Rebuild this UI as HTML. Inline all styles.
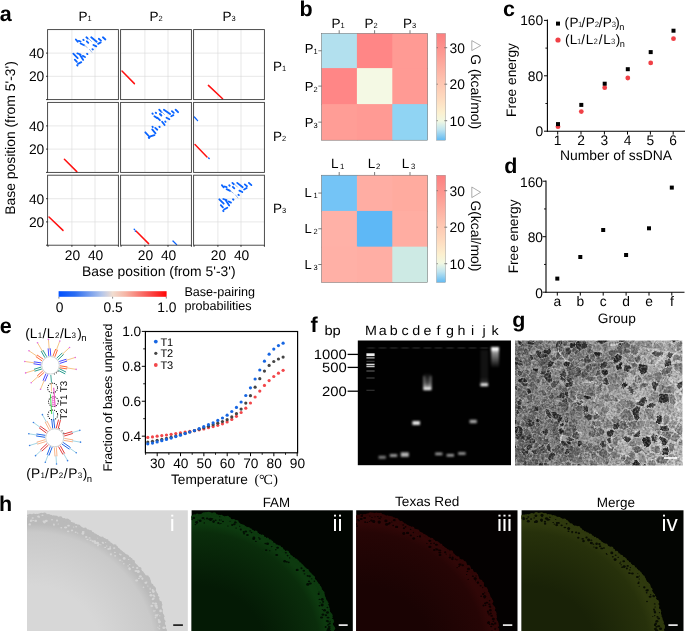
<!DOCTYPE html>
<html><head><meta charset="utf-8"><title>Figure</title>
<style>
html,body{margin:0;padding:0;background:#fff;}
body{width:685px;height:632px;overflow:hidden;}
svg{display:block;font-family:"Liberation Sans",sans-serif;}
svg text{font-family:"Liberation Sans",sans-serif;text-rendering:geometricPrecision;}
</style></head><body>
<svg width="685" height="632" viewBox="0 0 685 632">
<rect x="0" y="0" width="685" height="632" fill="#fff"/>
<g opacity="0.999">
<text x="-0.30" y="20.70" font-size="21.5" text-anchor="start" fill="#000" font-weight="bold">a</text>
<line x1="71.90" y1="29.60" x2="71.90" y2="99.60" stroke="#d6d6d6" stroke-width="0.6"/>
<line x1="95.00" y1="29.60" x2="95.00" y2="99.60" stroke="#d6d6d6" stroke-width="0.6"/>
<line x1="47.60" y1="53.10" x2="118.40" y2="53.10" stroke="#d6d6d6" stroke-width="0.6"/>
<line x1="47.60" y1="76.30" x2="118.40" y2="76.30" stroke="#d6d6d6" stroke-width="0.6"/>
<line x1="144.90" y1="29.60" x2="144.90" y2="99.60" stroke="#d6d6d6" stroke-width="0.6"/>
<line x1="168.00" y1="29.60" x2="168.00" y2="99.60" stroke="#d6d6d6" stroke-width="0.6"/>
<line x1="120.60" y1="53.10" x2="191.40" y2="53.10" stroke="#d6d6d6" stroke-width="0.6"/>
<line x1="120.60" y1="76.30" x2="191.40" y2="76.30" stroke="#d6d6d6" stroke-width="0.6"/>
<line x1="217.90" y1="29.60" x2="217.90" y2="99.60" stroke="#d6d6d6" stroke-width="0.6"/>
<line x1="241.00" y1="29.60" x2="241.00" y2="99.60" stroke="#d6d6d6" stroke-width="0.6"/>
<line x1="193.60" y1="53.10" x2="264.40" y2="53.10" stroke="#d6d6d6" stroke-width="0.6"/>
<line x1="193.60" y1="76.30" x2="264.40" y2="76.30" stroke="#d6d6d6" stroke-width="0.6"/>
<line x1="71.90" y1="102.40" x2="71.90" y2="172.40" stroke="#d6d6d6" stroke-width="0.6"/>
<line x1="95.00" y1="102.40" x2="95.00" y2="172.40" stroke="#d6d6d6" stroke-width="0.6"/>
<line x1="47.60" y1="125.90" x2="118.40" y2="125.90" stroke="#d6d6d6" stroke-width="0.6"/>
<line x1="47.60" y1="149.10" x2="118.40" y2="149.10" stroke="#d6d6d6" stroke-width="0.6"/>
<line x1="144.90" y1="102.40" x2="144.90" y2="172.40" stroke="#d6d6d6" stroke-width="0.6"/>
<line x1="168.00" y1="102.40" x2="168.00" y2="172.40" stroke="#d6d6d6" stroke-width="0.6"/>
<line x1="120.60" y1="125.90" x2="191.40" y2="125.90" stroke="#d6d6d6" stroke-width="0.6"/>
<line x1="120.60" y1="149.10" x2="191.40" y2="149.10" stroke="#d6d6d6" stroke-width="0.6"/>
<line x1="217.90" y1="102.40" x2="217.90" y2="172.40" stroke="#d6d6d6" stroke-width="0.6"/>
<line x1="241.00" y1="102.40" x2="241.00" y2="172.40" stroke="#d6d6d6" stroke-width="0.6"/>
<line x1="193.60" y1="125.90" x2="264.40" y2="125.90" stroke="#d6d6d6" stroke-width="0.6"/>
<line x1="193.60" y1="149.10" x2="264.40" y2="149.10" stroke="#d6d6d6" stroke-width="0.6"/>
<line x1="71.90" y1="175.20" x2="71.90" y2="245.20" stroke="#d6d6d6" stroke-width="0.6"/>
<line x1="95.00" y1="175.20" x2="95.00" y2="245.20" stroke="#d6d6d6" stroke-width="0.6"/>
<line x1="47.60" y1="198.70" x2="118.40" y2="198.70" stroke="#d6d6d6" stroke-width="0.6"/>
<line x1="47.60" y1="221.90" x2="118.40" y2="221.90" stroke="#d6d6d6" stroke-width="0.6"/>
<line x1="144.90" y1="175.20" x2="144.90" y2="245.20" stroke="#d6d6d6" stroke-width="0.6"/>
<line x1="168.00" y1="175.20" x2="168.00" y2="245.20" stroke="#d6d6d6" stroke-width="0.6"/>
<line x1="120.60" y1="198.70" x2="191.40" y2="198.70" stroke="#d6d6d6" stroke-width="0.6"/>
<line x1="120.60" y1="221.90" x2="191.40" y2="221.90" stroke="#d6d6d6" stroke-width="0.6"/>
<line x1="217.90" y1="175.20" x2="217.90" y2="245.20" stroke="#d6d6d6" stroke-width="0.6"/>
<line x1="241.00" y1="175.20" x2="241.00" y2="245.20" stroke="#d6d6d6" stroke-width="0.6"/>
<line x1="193.60" y1="198.70" x2="264.40" y2="198.70" stroke="#d6d6d6" stroke-width="0.6"/>
<line x1="193.60" y1="221.90" x2="264.40" y2="221.90" stroke="#d6d6d6" stroke-width="0.6"/>
<line x1="75.85" y1="39.50" x2="77.70" y2="41.70" stroke="#0a64ff" stroke-width="1.8" stroke-linecap="round"/>
<line x1="78.80" y1="40.90" x2="80.60" y2="41.50" stroke="#0a64ff" stroke-width="1.8" stroke-linecap="round"/>
<line x1="83.20" y1="39.70" x2="83.70" y2="40.10" stroke="#0a64ff" stroke-width="1.8" stroke-linecap="round"/>
<line x1="86.40" y1="37.30" x2="87.90" y2="38.60" stroke="#0a64ff" stroke-width="1.8" stroke-linecap="round"/>
<line x1="91.20" y1="37.30" x2="96.70" y2="41.70" stroke="#0a64ff" stroke-width="1.8" stroke-linecap="round"/>
<line x1="86.80" y1="41.30" x2="88.30" y2="42.80" stroke="#0a64ff" stroke-width="1.8" stroke-linecap="round"/>
<line x1="80.60" y1="43.50" x2="84.20" y2="45.30" stroke="#0a64ff" stroke-width="1.8" stroke-linecap="round"/>
<line x1="98.80" y1="38.80" x2="101.00" y2="40.60" stroke="#0a64ff" stroke-width="1.8" stroke-linecap="round"/>
<line x1="102.90" y1="37.30" x2="105.40" y2="39.50" stroke="#0a64ff" stroke-width="1.8" stroke-linecap="round"/>
<line x1="98.10" y1="43.90" x2="100.70" y2="42.40" stroke="#0a64ff" stroke-width="1.8" stroke-linecap="round"/>
<line x1="93.40" y1="45.00" x2="96.30" y2="46.40" stroke="#0a64ff" stroke-width="1.8" stroke-linecap="round"/>
<line x1="92.40" y1="49.10" x2="92.90" y2="49.50" stroke="#0a64ff" stroke-width="1.8" stroke-linecap="round"/>
<line x1="73.30" y1="53.70" x2="77.70" y2="58.10" stroke="#0a64ff" stroke-width="1.8" stroke-linecap="round"/>
<line x1="77.30" y1="53.40" x2="80.60" y2="54.50" stroke="#0a64ff" stroke-width="1.8" stroke-linecap="round"/>
<line x1="87.00" y1="53.70" x2="87.50" y2="54.10" stroke="#0a64ff" stroke-width="1.8" stroke-linecap="round"/>
<line x1="79.90" y1="54.80" x2="83.20" y2="59.90" stroke="#0a64ff" stroke-width="1.8" stroke-linecap="round"/>
<line x1="82.80" y1="55.90" x2="85.00" y2="57.00" stroke="#0a64ff" stroke-width="1.8" stroke-linecap="round"/>
<line x1="74.80" y1="59.60" x2="76.90" y2="61.80" stroke="#0a64ff" stroke-width="1.8" stroke-linecap="round"/>
<line x1="78.00" y1="63.90" x2="81.30" y2="62.10" stroke="#0a64ff" stroke-width="1.8" stroke-linecap="round"/>
<line x1="77.10" y1="65.20" x2="77.50" y2="65.60" stroke="#0a64ff" stroke-width="1.8" stroke-linecap="round"/>
<line x1="84.20" y1="45.00" x2="87.20" y2="47.50" stroke="#8fb0e8" stroke-width="0.9" stroke-linecap="round"/>
<line x1="89.40" y1="49.30" x2="91.90" y2="52.30" stroke="#8fb0e8" stroke-width="0.9" stroke-linecap="round"/>
<line x1="88.60" y1="38.60" x2="91.50" y2="41.50" stroke="#8fb0e8" stroke-width="0.9" stroke-linecap="round"/>
<line x1="221.85" y1="185.10" x2="223.70" y2="187.30" stroke="#0a64ff" stroke-width="1.8" stroke-linecap="round"/>
<line x1="224.80" y1="186.50" x2="226.60" y2="187.10" stroke="#0a64ff" stroke-width="1.8" stroke-linecap="round"/>
<line x1="229.20" y1="185.30" x2="229.70" y2="185.70" stroke="#0a64ff" stroke-width="1.8" stroke-linecap="round"/>
<line x1="232.40" y1="182.90" x2="233.90" y2="184.20" stroke="#0a64ff" stroke-width="1.8" stroke-linecap="round"/>
<line x1="237.20" y1="182.90" x2="242.70" y2="187.30" stroke="#0a64ff" stroke-width="1.8" stroke-linecap="round"/>
<line x1="232.80" y1="186.90" x2="234.30" y2="188.40" stroke="#0a64ff" stroke-width="1.8" stroke-linecap="round"/>
<line x1="226.60" y1="189.10" x2="230.20" y2="190.90" stroke="#0a64ff" stroke-width="1.8" stroke-linecap="round"/>
<line x1="244.80" y1="184.40" x2="247.00" y2="186.20" stroke="#0a64ff" stroke-width="1.8" stroke-linecap="round"/>
<line x1="248.90" y1="182.90" x2="251.40" y2="185.10" stroke="#0a64ff" stroke-width="1.8" stroke-linecap="round"/>
<line x1="244.10" y1="189.50" x2="246.70" y2="188.00" stroke="#0a64ff" stroke-width="1.8" stroke-linecap="round"/>
<line x1="239.40" y1="190.60" x2="242.30" y2="192.00" stroke="#0a64ff" stroke-width="1.8" stroke-linecap="round"/>
<line x1="238.40" y1="194.70" x2="238.90" y2="195.10" stroke="#0a64ff" stroke-width="1.8" stroke-linecap="round"/>
<line x1="219.30" y1="199.30" x2="223.70" y2="203.70" stroke="#0a64ff" stroke-width="1.8" stroke-linecap="round"/>
<line x1="223.30" y1="199.00" x2="226.60" y2="200.10" stroke="#0a64ff" stroke-width="1.8" stroke-linecap="round"/>
<line x1="233.00" y1="199.30" x2="233.50" y2="199.70" stroke="#0a64ff" stroke-width="1.8" stroke-linecap="round"/>
<line x1="225.90" y1="200.40" x2="229.20" y2="205.50" stroke="#0a64ff" stroke-width="1.8" stroke-linecap="round"/>
<line x1="228.80" y1="201.50" x2="231.00" y2="202.60" stroke="#0a64ff" stroke-width="1.8" stroke-linecap="round"/>
<line x1="220.80" y1="205.20" x2="222.90" y2="207.40" stroke="#0a64ff" stroke-width="1.8" stroke-linecap="round"/>
<line x1="224.00" y1="209.50" x2="227.30" y2="207.70" stroke="#0a64ff" stroke-width="1.8" stroke-linecap="round"/>
<line x1="223.10" y1="210.80" x2="223.50" y2="211.20" stroke="#0a64ff" stroke-width="1.8" stroke-linecap="round"/>
<line x1="230.20" y1="190.60" x2="233.20" y2="193.10" stroke="#8fb0e8" stroke-width="0.9" stroke-linecap="round"/>
<line x1="235.40" y1="194.90" x2="237.90" y2="197.90" stroke="#8fb0e8" stroke-width="0.9" stroke-linecap="round"/>
<line x1="234.60" y1="184.20" x2="237.50" y2="187.10" stroke="#8fb0e8" stroke-width="0.9" stroke-linecap="round"/>
<line x1="152.40" y1="113.50" x2="152.80" y2="113.90" stroke="#0a64ff" stroke-width="1.8" stroke-linecap="round"/>
<line x1="155.70" y1="112.60" x2="156.10" y2="113.00" stroke="#0a64ff" stroke-width="1.8" stroke-linecap="round"/>
<line x1="159.20" y1="109.70" x2="161.40" y2="111.90" stroke="#0a64ff" stroke-width="1.8" stroke-linecap="round"/>
<line x1="163.90" y1="109.70" x2="170.10" y2="114.00" stroke="#0a64ff" stroke-width="1.8" stroke-linecap="round"/>
<line x1="159.90" y1="114.00" x2="161.40" y2="115.50" stroke="#0a64ff" stroke-width="1.8" stroke-linecap="round"/>
<line x1="154.40" y1="116.20" x2="157.00" y2="118.10" stroke="#0a64ff" stroke-width="1.8" stroke-linecap="round"/>
<line x1="157.30" y1="117.70" x2="159.90" y2="120.20" stroke="#0a64ff" stroke-width="1.8" stroke-linecap="round"/>
<line x1="171.90" y1="111.10" x2="173.80" y2="112.90" stroke="#0a64ff" stroke-width="1.8" stroke-linecap="round"/>
<line x1="175.60" y1="109.70" x2="178.10" y2="112.20" stroke="#0a64ff" stroke-width="1.8" stroke-linecap="round"/>
<line x1="171.20" y1="116.20" x2="173.40" y2="115.10" stroke="#0a64ff" stroke-width="1.8" stroke-linecap="round"/>
<line x1="166.50" y1="117.70" x2="169.40" y2="119.20" stroke="#0a64ff" stroke-width="1.8" stroke-linecap="round"/>
<line x1="165.20" y1="121.50" x2="165.60" y2="121.90" stroke="#0a64ff" stroke-width="1.8" stroke-linecap="round"/>
<line x1="162.10" y1="121.70" x2="164.60" y2="125.00" stroke="#0a64ff" stroke-width="1.8" stroke-linecap="round"/>
<line x1="159.30" y1="126.60" x2="159.70" y2="127.00" stroke="#0a64ff" stroke-width="1.8" stroke-linecap="round"/>
<line x1="152.40" y1="126.60" x2="152.80" y2="127.00" stroke="#0a64ff" stroke-width="1.8" stroke-linecap="round"/>
<line x1="155.20" y1="127.90" x2="157.30" y2="129.70" stroke="#0a64ff" stroke-width="1.8" stroke-linecap="round"/>
<line x1="152.20" y1="129.40" x2="155.50" y2="133.40" stroke="#0a64ff" stroke-width="1.8" stroke-linecap="round"/>
<line x1="145.30" y1="132.30" x2="149.70" y2="137.00" stroke="#0a64ff" stroke-width="1.8" stroke-linecap="round"/>
<line x1="150.40" y1="136.30" x2="154.40" y2="135.20" stroke="#0a64ff" stroke-width="1.8" stroke-linecap="round"/>
<line x1="148.70" y1="137.60" x2="149.10" y2="138.00" stroke="#0a64ff" stroke-width="1.8" stroke-linecap="round"/>
<line x1="161.50" y1="111.50" x2="164.50" y2="114.50" stroke="#8fb0e8" stroke-width="0.9" stroke-linecap="round"/>
<line x1="122.00" y1="71.00" x2="134.40" y2="83.60" stroke="#ff1010" stroke-width="1.5" stroke-linecap="round"/>
<line x1="208.40" y1="85.40" x2="222.60" y2="98.80" stroke="#ff1010" stroke-width="1.5" stroke-linecap="round"/>
<line x1="64.40" y1="159.20" x2="76.80" y2="171.60" stroke="#ff1010" stroke-width="1.5" stroke-linecap="round"/>
<line x1="195.00" y1="144.60" x2="207.00" y2="157.00" stroke="#ff1010" stroke-width="1.5" stroke-linecap="round"/>
<line x1="49.00" y1="217.00" x2="63.00" y2="230.40" stroke="#ff1010" stroke-width="1.5" stroke-linecap="round"/>
<line x1="136.00" y1="231.00" x2="148.60" y2="243.60" stroke="#ff1010" stroke-width="1.5" stroke-linecap="round"/>
<line x1="194.40" y1="117.00" x2="197.60" y2="120.60" stroke="#0a64ff" stroke-width="1.3" stroke-linecap="round"/>
<line x1="208.60" y1="158.00" x2="209.20" y2="158.60" stroke="#0a64ff" stroke-width="1.4" stroke-linecap="round"/>
<line x1="134.20" y1="229.20" x2="134.60" y2="229.60" stroke="#0a64ff" stroke-width="1.4" stroke-linecap="round"/>
<line x1="135.20" y1="231.00" x2="135.50" y2="231.30" stroke="#0a64ff" stroke-width="1.2" stroke-linecap="round"/>
<line x1="173.00" y1="241.00" x2="176.60" y2="244.60" stroke="#0a64ff" stroke-width="1.3" stroke-linecap="round"/>
<rect x="47.60" y="29.60" width="70.80" height="70.00" fill="none" stroke="#3a3a3a" stroke-width="0.9"/>
<rect x="120.60" y="29.60" width="70.80" height="70.00" fill="none" stroke="#3a3a3a" stroke-width="0.9"/>
<rect x="193.60" y="29.60" width="70.80" height="70.00" fill="none" stroke="#3a3a3a" stroke-width="0.9"/>
<rect x="47.60" y="102.40" width="70.80" height="70.00" fill="none" stroke="#3a3a3a" stroke-width="0.9"/>
<rect x="120.60" y="102.40" width="70.80" height="70.00" fill="none" stroke="#3a3a3a" stroke-width="0.9"/>
<rect x="193.60" y="102.40" width="70.80" height="70.00" fill="none" stroke="#3a3a3a" stroke-width="0.9"/>
<rect x="47.60" y="175.20" width="70.80" height="70.00" fill="none" stroke="#3a3a3a" stroke-width="0.9"/>
<rect x="120.60" y="175.20" width="70.80" height="70.00" fill="none" stroke="#3a3a3a" stroke-width="0.9"/>
<rect x="193.60" y="175.20" width="70.80" height="70.00" fill="none" stroke="#3a3a3a" stroke-width="0.9"/>
<line x1="46.00" y1="53.10" x2="47.60" y2="53.10" stroke="#000" stroke-width="0.8"/>
<text x="44.30" y="58.00" font-size="13.8" text-anchor="end" fill="#000">40</text>
<line x1="46.00" y1="76.30" x2="47.60" y2="76.30" stroke="#000" stroke-width="0.8"/>
<text x="44.30" y="81.20" font-size="13.8" text-anchor="end" fill="#000">20</text>
<line x1="46.00" y1="99.60" x2="47.60" y2="99.60" stroke="#000" stroke-width="0.8"/>
<line x1="46.00" y1="125.90" x2="47.60" y2="125.90" stroke="#000" stroke-width="0.8"/>
<text x="44.30" y="130.80" font-size="13.8" text-anchor="end" fill="#000">40</text>
<line x1="46.00" y1="149.10" x2="47.60" y2="149.10" stroke="#000" stroke-width="0.8"/>
<text x="44.30" y="154.00" font-size="13.8" text-anchor="end" fill="#000">20</text>
<line x1="46.00" y1="172.40" x2="47.60" y2="172.40" stroke="#000" stroke-width="0.8"/>
<line x1="46.00" y1="198.70" x2="47.60" y2="198.70" stroke="#000" stroke-width="0.8"/>
<text x="44.30" y="203.60" font-size="13.8" text-anchor="end" fill="#000">40</text>
<line x1="46.00" y1="221.90" x2="47.60" y2="221.90" stroke="#000" stroke-width="0.8"/>
<text x="44.30" y="226.80" font-size="13.8" text-anchor="end" fill="#000">20</text>
<line x1="46.00" y1="245.20" x2="47.60" y2="245.20" stroke="#000" stroke-width="0.8"/>
<line x1="71.90" y1="245.20" x2="71.90" y2="246.80" stroke="#000" stroke-width="0.8"/>
<text x="72.50" y="260.20" font-size="13.8" text-anchor="middle" fill="#000">20</text>
<line x1="95.00" y1="245.20" x2="95.00" y2="246.80" stroke="#000" stroke-width="0.8"/>
<text x="95.60" y="260.20" font-size="13.8" text-anchor="middle" fill="#000">40</text>
<line x1="48.00" y1="245.20" x2="48.00" y2="246.80" stroke="#000" stroke-width="0.8"/>
<line x1="118.40" y1="245.20" x2="118.40" y2="246.80" stroke="#000" stroke-width="0.8"/>
<line x1="144.90" y1="245.20" x2="144.90" y2="246.80" stroke="#000" stroke-width="0.8"/>
<text x="145.50" y="260.20" font-size="13.8" text-anchor="middle" fill="#000">20</text>
<line x1="168.00" y1="245.20" x2="168.00" y2="246.80" stroke="#000" stroke-width="0.8"/>
<text x="168.60" y="260.20" font-size="13.8" text-anchor="middle" fill="#000">40</text>
<line x1="121.00" y1="245.20" x2="121.00" y2="246.80" stroke="#000" stroke-width="0.8"/>
<line x1="191.40" y1="245.20" x2="191.40" y2="246.80" stroke="#000" stroke-width="0.8"/>
<line x1="217.90" y1="245.20" x2="217.90" y2="246.80" stroke="#000" stroke-width="0.8"/>
<text x="218.50" y="260.20" font-size="13.8" text-anchor="middle" fill="#000">20</text>
<line x1="241.00" y1="245.20" x2="241.00" y2="246.80" stroke="#000" stroke-width="0.8"/>
<text x="241.60" y="260.20" font-size="13.8" text-anchor="middle" fill="#000">40</text>
<line x1="194.00" y1="245.20" x2="194.00" y2="246.80" stroke="#000" stroke-width="0.8"/>
<line x1="264.40" y1="245.20" x2="264.40" y2="246.80" stroke="#000" stroke-width="0.8"/>
<text x="78.40" y="21.40" font-size="13.5" text-anchor="start" fill="#000">P<tspan font-size="7.5" baseline-shift="-0.3">1</tspan></text>
<text x="149.60" y="21.40" font-size="13.5" text-anchor="start" fill="#000">P<tspan font-size="7.5" baseline-shift="-0.3">2</tspan></text>
<text x="222.60" y="21.40" font-size="13.5" text-anchor="start" fill="#000">P<tspan font-size="7.5" baseline-shift="-0.3">3</tspan></text>
<text x="273.00" y="71.00" font-size="13.5" text-anchor="start" fill="#000">P<tspan font-size="7.5" baseline-shift="-0.3">1</tspan></text>
<text x="273.00" y="141.00" font-size="13.5" text-anchor="start" fill="#000">P<tspan font-size="7.5" baseline-shift="-0.3">2</tspan></text>
<text x="273.00" y="213.40" font-size="13.5" text-anchor="start" fill="#000">P<tspan font-size="7.5" baseline-shift="-0.3">3</tspan></text>
<text x="82.00" y="275.60" font-size="13.9" text-anchor="start" fill="#000">Base position (from 5'-3')</text>
<text x="15.20" y="138.00" font-size="13.9" text-anchor="middle" fill="#000" transform="rotate(-90 15.20 138.00)">Base position (from 5'-3')</text>
<defs><linearGradient id="cba" x1="0" x2="1" y1="0" y2="0"><stop offset="0" stop-color="#0050ff"/><stop offset="0.15" stop-color="#2a6cf2"/><stop offset="0.4" stop-color="#b4c6ea"/><stop offset="0.5" stop-color="#f1ddd0"/><stop offset="0.62" stop-color="#f6b5a5"/><stop offset="0.85" stop-color="#fa4a48"/><stop offset="1" stop-color="#ff0505"/></linearGradient></defs>
<rect x="58.60" y="291.20" width="108.00" height="5.60" fill="url(#cba)"/>
<line x1="58.90" y1="296.80" x2="58.90" y2="298.60" stroke="#555" stroke-width="0.7"/>
<text x="59.50" y="312.30" font-size="13.8" text-anchor="middle" fill="#000">0</text>
<line x1="112.60" y1="296.80" x2="112.60" y2="298.60" stroke="#555" stroke-width="0.7"/>
<text x="113.20" y="312.30" font-size="13.8" text-anchor="middle" fill="#000">0.5</text>
<line x1="166.30" y1="296.80" x2="166.30" y2="298.60" stroke="#555" stroke-width="0.7"/>
<text x="166.90" y="312.30" font-size="13.8" text-anchor="middle" fill="#000">1.0</text>
<text x="184.40" y="296.40" font-size="12.6" text-anchor="start" fill="#000">Base-pairing</text>
<text x="184.40" y="309.60" font-size="12.6" text-anchor="start" fill="#000">probabilities</text>
<text x="299.50" y="15.60" font-size="21.5" text-anchor="start" fill="#000" font-weight="bold">b</text>
<rect x="321.50" y="33.40" width="36.40" height="35.70" fill="#b2e0ee"/>
<rect x="356.90" y="33.40" width="36.40" height="35.70" fill="#ff8686"/>
<rect x="392.30" y="33.40" width="35.40" height="35.70" fill="#ff9a94"/>
<rect x="321.50" y="68.10" width="36.40" height="37.00" fill="#ff8686"/>
<rect x="356.90" y="68.10" width="36.40" height="37.00" fill="#f4f9e4"/>
<rect x="392.30" y="68.10" width="35.40" height="37.00" fill="#ff9a94"/>
<rect x="321.50" y="104.10" width="36.40" height="36.10" fill="#ff9d96"/>
<rect x="356.90" y="104.10" width="36.40" height="36.10" fill="#ff9a94"/>
<rect x="392.30" y="104.10" width="35.40" height="36.10" fill="#90d4f3"/>
<rect x="321.50" y="33.40" width="106.20" height="106.80" fill="none" stroke="#666" stroke-width="0.5"/>
<line x1="339.20" y1="30.20" x2="339.20" y2="33.40" stroke="#444" stroke-width="0.7"/>
<line x1="318.30" y1="50.75" x2="321.50" y2="50.75" stroke="#444" stroke-width="0.7"/>
<line x1="374.60" y1="30.20" x2="374.60" y2="33.40" stroke="#444" stroke-width="0.7"/>
<line x1="318.30" y1="86.10" x2="321.50" y2="86.10" stroke="#444" stroke-width="0.7"/>
<line x1="410.00" y1="30.20" x2="410.00" y2="33.40" stroke="#444" stroke-width="0.7"/>
<line x1="318.30" y1="122.15" x2="321.50" y2="122.15" stroke="#444" stroke-width="0.7"/>
<text x="331.40" y="27.50" font-size="13.5" text-anchor="start" fill="#000">P<tspan font-size="7.5" baseline-shift="-0.3">1</tspan></text>
<text x="304.80" y="53.20" font-size="13" text-anchor="start" fill="#000">P<tspan font-size="7.5" baseline-shift="-0.5">1</tspan></text>
<text x="364.60" y="27.50" font-size="13.5" text-anchor="start" fill="#000">P<tspan font-size="7.5" baseline-shift="-0.3">2</tspan></text>
<text x="304.80" y="91.20" font-size="13" text-anchor="start" fill="#000">P<tspan font-size="7.5" baseline-shift="-0.5">2</tspan></text>
<text x="403.00" y="27.50" font-size="13.5" text-anchor="start" fill="#000">P<tspan font-size="7.5" baseline-shift="-0.3">3</tspan></text>
<text x="304.80" y="126.80" font-size="13" text-anchor="start" fill="#000">P<tspan font-size="7.5" baseline-shift="-0.5">3</tspan></text>
<defs><linearGradient id="cbb" x1="0" x2="0" y1="0" y2="1"><stop offset="0" stop-color="#fc7f80"/><stop offset="0.2" stop-color="#fd9c94"/><stop offset="0.45" stop-color="#fec4b0"/><stop offset="0.62" stop-color="#fedcc0"/><stop offset="0.74" stop-color="#fcf0cf"/><stop offset="0.82" stop-color="#f2f8e2"/><stop offset="0.9" stop-color="#bfe4ef"/><stop offset="1" stop-color="#62baf2"/></linearGradient></defs>
<rect x="436.60" y="33.40" width="9.00" height="106.80" fill="url(#cbb)" stroke="#888" stroke-width="0.4"/>
<line x1="445.60" y1="47.70" x2="447.20" y2="47.70" stroke="#444" stroke-width="0.7"/>
<line x1="436.60" y1="47.70" x2="438.00" y2="47.70" stroke="#444" stroke-width="0.5"/>
<line x1="444.20" y1="47.70" x2="445.60" y2="47.70" stroke="#444" stroke-width="0.5"/>
<text x="449.60" y="52.60" font-size="13.8" text-anchor="start" fill="#000">30</text>
<line x1="445.60" y1="84.20" x2="447.20" y2="84.20" stroke="#444" stroke-width="0.7"/>
<line x1="436.60" y1="84.20" x2="438.00" y2="84.20" stroke="#444" stroke-width="0.5"/>
<line x1="444.20" y1="84.20" x2="445.60" y2="84.20" stroke="#444" stroke-width="0.5"/>
<text x="449.60" y="89.10" font-size="13.8" text-anchor="start" fill="#000">20</text>
<line x1="445.60" y1="120.70" x2="447.20" y2="120.70" stroke="#444" stroke-width="0.7"/>
<line x1="436.60" y1="120.70" x2="438.00" y2="120.70" stroke="#444" stroke-width="0.5"/>
<line x1="444.20" y1="120.70" x2="445.60" y2="120.70" stroke="#444" stroke-width="0.5"/>
<text x="449.60" y="125.60" font-size="13.8" text-anchor="start" fill="#000">10</text>
<text x="470.60" y="54.30" font-size="13.9" text-anchor="start" fill="#000" transform="rotate(90 470.60 54.30)">G (kcal/mol)</text>
<path d="M471.8 50.6 L480.6 45.6 L471.8 40.6 Z" fill="none" stroke="#8a8a8a" stroke-width="0.7"/>
<rect x="321.50" y="175.20" width="36.40" height="36.73" fill="#74c4f6"/>
<rect x="356.90" y="175.20" width="36.40" height="36.73" fill="#ffada3"/>
<rect x="392.30" y="175.20" width="35.40" height="36.73" fill="#ffab9f"/>
<rect x="321.50" y="210.93" width="36.40" height="36.73" fill="#ffb1a7"/>
<rect x="356.90" y="210.93" width="36.40" height="36.73" fill="#5eb8f6"/>
<rect x="392.30" y="210.93" width="35.40" height="36.73" fill="#ffada2"/>
<rect x="321.50" y="246.66" width="36.40" height="35.73" fill="#ffb0a6"/>
<rect x="356.90" y="246.66" width="36.40" height="35.73" fill="#ffaea4"/>
<rect x="392.30" y="246.66" width="35.40" height="35.73" fill="#cdeae4"/>
<rect x="321.50" y="175.20" width="106.20" height="107.19" fill="none" stroke="#666" stroke-width="0.5"/>
<line x1="339.20" y1="172.00" x2="339.20" y2="175.20" stroke="#444" stroke-width="0.7"/>
<line x1="318.30" y1="193.06" x2="321.50" y2="193.06" stroke="#444" stroke-width="0.7"/>
<line x1="374.60" y1="172.00" x2="374.60" y2="175.20" stroke="#444" stroke-width="0.7"/>
<line x1="318.30" y1="228.79" x2="321.50" y2="228.79" stroke="#444" stroke-width="0.7"/>
<line x1="410.00" y1="172.00" x2="410.00" y2="175.20" stroke="#444" stroke-width="0.7"/>
<line x1="318.30" y1="264.52" x2="321.50" y2="264.52" stroke="#444" stroke-width="0.7"/>
<text x="331.00" y="168.20" font-size="13.5" text-anchor="start" fill="#000">L</text>
<text x="340.10" y="168.80" font-size="7.8" text-anchor="start" fill="#000">1</text>
<text x="304.60" y="197.47" font-size="13" text-anchor="start" fill="#000">L</text>
<text x="313.40" y="198.06" font-size="7.5" text-anchor="start" fill="#000">1</text>
<text x="367.80" y="168.20" font-size="13.5" text-anchor="start" fill="#000">L</text>
<text x="376.10" y="168.80" font-size="7.8" text-anchor="start" fill="#000">2</text>
<text x="304.60" y="233.19" font-size="13" text-anchor="start" fill="#000">L</text>
<text x="313.40" y="233.79" font-size="7.5" text-anchor="start" fill="#000">2</text>
<text x="401.80" y="168.20" font-size="13.5" text-anchor="start" fill="#000">L</text>
<text x="410.90" y="168.80" font-size="7.8" text-anchor="start" fill="#000">3</text>
<text x="304.60" y="268.92" font-size="13" text-anchor="start" fill="#000">L</text>
<text x="313.40" y="269.52" font-size="7.5" text-anchor="start" fill="#000">3</text>
<rect x="436.60" y="175.20" width="9.00" height="107.20" fill="url(#cbb)" stroke="#888" stroke-width="0.4"/>
<line x1="445.60" y1="190.70" x2="447.20" y2="190.70" stroke="#444" stroke-width="0.7"/>
<line x1="436.60" y1="190.70" x2="438.00" y2="190.70" stroke="#444" stroke-width="0.5"/>
<line x1="444.20" y1="190.70" x2="445.60" y2="190.70" stroke="#444" stroke-width="0.5"/>
<text x="449.60" y="195.60" font-size="13.8" text-anchor="start" fill="#000">30</text>
<line x1="445.60" y1="227.20" x2="447.20" y2="227.20" stroke="#444" stroke-width="0.7"/>
<line x1="436.60" y1="227.20" x2="438.00" y2="227.20" stroke="#444" stroke-width="0.5"/>
<line x1="444.20" y1="227.20" x2="445.60" y2="227.20" stroke="#444" stroke-width="0.5"/>
<text x="449.60" y="232.10" font-size="13.8" text-anchor="start" fill="#000">20</text>
<line x1="445.60" y1="263.70" x2="447.20" y2="263.70" stroke="#444" stroke-width="0.7"/>
<line x1="436.60" y1="263.70" x2="438.00" y2="263.70" stroke="#444" stroke-width="0.5"/>
<line x1="444.20" y1="263.70" x2="445.60" y2="263.70" stroke="#444" stroke-width="0.5"/>
<text x="449.60" y="268.60" font-size="13.8" text-anchor="start" fill="#000">10</text>
<text x="470.60" y="200.40" font-size="13.9" text-anchor="start" fill="#000" transform="rotate(90 470.60 200.40)">G(kcal/mol)</text>
<path d="M471.8 197.6 L480.6 192.3 L471.8 187.0 Z" fill="none" stroke="#8a8a8a" stroke-width="0.7"/>
<text x="503.10" y="15.60" font-size="21.5" text-anchor="start" fill="#000" font-weight="bold">c</text>
<line x1="547.40" y1="19.50" x2="547.40" y2="131.80" stroke="#000" stroke-width="1.1"/>
<line x1="546.90" y1="131.20" x2="685.00" y2="131.20" stroke="#000" stroke-width="1.1"/>
<line x1="544.00" y1="20.40" x2="547.40" y2="20.40" stroke="#000" stroke-width="1.0"/>
<text x="543.20" y="25.30" font-size="13.8" text-anchor="end" fill="#000">160</text>
<line x1="544.00" y1="75.80" x2="547.40" y2="75.80" stroke="#000" stroke-width="1.0"/>
<text x="543.20" y="80.70" font-size="13.8" text-anchor="end" fill="#000">80</text>
<line x1="544.00" y1="131.20" x2="547.40" y2="131.20" stroke="#000" stroke-width="1.0"/>
<text x="543.20" y="136.10" font-size="13.8" text-anchor="end" fill="#000">0</text>
<line x1="545.40" y1="103.50" x2="547.40" y2="103.50" stroke="#000" stroke-width="0.9"/>
<line x1="545.40" y1="48.10" x2="547.40" y2="48.10" stroke="#000" stroke-width="0.9"/>
<line x1="557.70" y1="131.20" x2="557.70" y2="134.60" stroke="#000" stroke-width="1.0"/>
<text x="557.70" y="145.00" font-size="13.8" text-anchor="middle" fill="#000">1</text>
<line x1="581.00" y1="131.20" x2="581.00" y2="134.60" stroke="#000" stroke-width="1.0"/>
<text x="581.00" y="145.00" font-size="13.8" text-anchor="middle" fill="#000">2</text>
<line x1="604.40" y1="131.20" x2="604.40" y2="134.60" stroke="#000" stroke-width="1.0"/>
<text x="604.40" y="145.00" font-size="13.8" text-anchor="middle" fill="#000">3</text>
<line x1="627.50" y1="131.20" x2="627.50" y2="134.60" stroke="#000" stroke-width="1.0"/>
<text x="627.50" y="145.00" font-size="13.8" text-anchor="middle" fill="#000">4</text>
<line x1="650.40" y1="131.20" x2="650.40" y2="134.60" stroke="#000" stroke-width="1.0"/>
<text x="650.40" y="145.00" font-size="13.8" text-anchor="middle" fill="#000">5</text>
<line x1="673.20" y1="131.20" x2="673.20" y2="134.60" stroke="#000" stroke-width="1.0"/>
<text x="673.20" y="145.00" font-size="13.8" text-anchor="middle" fill="#000">6</text>
<text x="616.00" y="159.60" font-size="13.9" text-anchor="middle" fill="#000">Number of ssDNA</text>
<text x="516.20" y="80.00" font-size="13.7" text-anchor="middle" fill="#000" transform="rotate(-90 516.20 80.00)">Free energy</text>
<circle cx="558.00" cy="126.70" r="2.40" fill="#f04046"/>
<circle cx="581.30" cy="111.60" r="2.40" fill="#f04046"/>
<circle cx="604.70" cy="87.70" r="2.40" fill="#f04046"/>
<circle cx="627.80" cy="78.00" r="2.40" fill="#f04046"/>
<circle cx="650.70" cy="62.90" r="2.40" fill="#f04046"/>
<circle cx="673.50" cy="38.70" r="2.40" fill="#f04046"/>
<rect x="556.00" y="122.10" width="4.00" height="4.00" fill="#000"/>
<rect x="579.30" y="102.90" width="4.00" height="4.00" fill="#000"/>
<rect x="602.70" y="81.70" width="4.00" height="4.00" fill="#000"/>
<rect x="625.80" y="67.20" width="4.00" height="4.00" fill="#000"/>
<rect x="648.70" y="50.10" width="4.00" height="4.00" fill="#000"/>
<rect x="671.50" y="28.70" width="4.00" height="4.00" fill="#000"/>
<rect x="556.00" y="21.60" width="4.00" height="4.00" fill="#000"/>
<circle cx="558.00" cy="40.00" r="2.60" fill="#f04046"/>
<text x="564.60" y="26.60" font-size="13.5" text-anchor="start" fill="#000">(</text><text x="569.42" y="26.60" font-size="13.5" text-anchor="start" fill="#000">P</text><text x="578.02" y="26.90" font-size="7.8" text-anchor="start" fill="#333">1</text><text x="581.55" y="26.60" font-size="13.5" text-anchor="start" fill="#000">/</text><text x="585.85" y="26.60" font-size="13.5" text-anchor="start" fill="#000">P</text><text x="594.83" y="26.90" font-size="7.8" text-anchor="start" fill="#333">2</text><text x="598.84" y="26.60" font-size="13.5" text-anchor="start" fill="#000">/</text><text x="602.85" y="26.60" font-size="13.5" text-anchor="start" fill="#000">P</text><text x="611.82" y="26.90" font-size="7.8" text-anchor="start" fill="#333">3</text><text x="615.36" y="26.60" font-size="13.5" text-anchor="start" fill="#000">)</text><text x="619.18" y="30.10" font-size="9.2" text-anchor="start" fill="#000">n</text>
<text x="565.00" y="43.50" font-size="13.5" text-anchor="start" fill="#000">(</text><text x="569.73" y="43.50" font-size="13.5" text-anchor="start" fill="#000">L</text><text x="577.08" y="43.80" font-size="7.8" text-anchor="start" fill="#333">1</text><text x="581.19" y="43.50" font-size="13.5" text-anchor="start" fill="#000">/</text><text x="585.68" y="43.50" font-size="13.5" text-anchor="start" fill="#000">L</text><text x="593.51" y="43.80" font-size="7.8" text-anchor="start" fill="#333">2</text><text x="598.66" y="43.50" font-size="13.5" text-anchor="start" fill="#000">/</text><text x="603.25" y="43.50" font-size="13.5" text-anchor="start" fill="#000">L</text><text x="611.08" y="43.80" font-size="7.8" text-anchor="start" fill="#333">3</text><text x="615.76" y="43.50" font-size="13.5" text-anchor="start" fill="#000">)</text><text x="619.67" y="47.00" font-size="9.2" text-anchor="start" fill="#000">n</text>
<text x="504.30" y="173.00" font-size="21.5" text-anchor="start" fill="#000" font-weight="bold">d</text>
<line x1="546.00" y1="180.50" x2="546.00" y2="292.80" stroke="#000" stroke-width="1.1"/>
<line x1="545.50" y1="292.20" x2="684.50" y2="292.20" stroke="#000" stroke-width="1.1"/>
<line x1="542.60" y1="181.20" x2="546.00" y2="181.20" stroke="#000" stroke-width="1.0"/>
<text x="543.00" y="186.80" font-size="13.8" text-anchor="end" fill="#000">160</text>
<line x1="542.60" y1="236.70" x2="546.00" y2="236.70" stroke="#000" stroke-width="1.0"/>
<text x="543.00" y="242.30" font-size="13.8" text-anchor="end" fill="#000">80</text>
<line x1="542.60" y1="292.20" x2="546.00" y2="292.20" stroke="#000" stroke-width="1.0"/>
<text x="543.00" y="297.80" font-size="13.8" text-anchor="end" fill="#000">0</text>
<line x1="544.00" y1="264.45" x2="546.00" y2="264.45" stroke="#000" stroke-width="0.9"/>
<line x1="544.00" y1="208.95" x2="546.00" y2="208.95" stroke="#000" stroke-width="0.9"/>
<line x1="557.30" y1="292.20" x2="557.30" y2="295.60" stroke="#000" stroke-width="1.0"/>
<text x="557.30" y="305.80" font-size="13.8" text-anchor="middle" fill="#000">a</text>
<line x1="580.30" y1="292.20" x2="580.30" y2="295.60" stroke="#000" stroke-width="1.0"/>
<text x="580.30" y="305.80" font-size="13.8" text-anchor="middle" fill="#000">b</text>
<line x1="603.20" y1="292.20" x2="603.20" y2="295.60" stroke="#000" stroke-width="1.0"/>
<text x="603.20" y="305.80" font-size="13.8" text-anchor="middle" fill="#000">c</text>
<line x1="626.10" y1="292.20" x2="626.10" y2="295.60" stroke="#000" stroke-width="1.0"/>
<text x="626.10" y="305.80" font-size="13.8" text-anchor="middle" fill="#000">d</text>
<line x1="649.00" y1="292.20" x2="649.00" y2="295.60" stroke="#000" stroke-width="1.0"/>
<text x="649.00" y="305.80" font-size="13.8" text-anchor="middle" fill="#000">e</text>
<line x1="671.80" y1="292.20" x2="671.80" y2="295.60" stroke="#000" stroke-width="1.0"/>
<text x="671.80" y="305.80" font-size="13.8" text-anchor="middle" fill="#000">f</text>
<text x="616.80" y="323.10" font-size="13.7" text-anchor="middle" fill="#000">Group</text>
<text x="518.00" y="236.40" font-size="13.7" text-anchor="middle" fill="#000" transform="rotate(-90 518.00 236.40)">Free energy</text>
<rect x="555.30" y="276.60" width="4.00" height="4.00" fill="#000"/>
<rect x="578.30" y="255.00" width="4.00" height="4.00" fill="#000"/>
<rect x="601.20" y="228.00" width="4.00" height="4.00" fill="#000"/>
<rect x="624.10" y="253.00" width="4.00" height="4.00" fill="#000"/>
<rect x="647.00" y="226.30" width="4.00" height="4.00" fill="#000"/>
<rect x="669.80" y="185.60" width="4.00" height="4.00" fill="#000"/>
<text x="-0.30" y="333.00" font-size="21.5" text-anchor="start" fill="#000" font-weight="bold">e</text>
<text x="25.20" y="337.60" font-size="13.7" text-anchor="start" fill="#000">(</text><text x="29.80" y="337.60" font-size="13.7" text-anchor="start" fill="#000">L</text><text x="37.80" y="338.00" font-size="8.0" text-anchor="start" fill="#000">1</text><text x="42.50" y="337.60" font-size="13.7" text-anchor="start" fill="#000">/</text><text x="46.80" y="337.60" font-size="13.7" text-anchor="start" fill="#000">L</text><text x="55.10" y="338.00" font-size="8.0" text-anchor="start" fill="#000">2</text><text x="60.00" y="337.60" font-size="13.7" text-anchor="start" fill="#000">/</text><text x="63.80" y="337.60" font-size="13.7" text-anchor="start" fill="#000">L</text><text x="71.60" y="338.00" font-size="8.0" text-anchor="start" fill="#000">3</text><text x="77.20" y="337.60" font-size="13.7" text-anchor="start" fill="#000">)</text><text x="81.30" y="341.40" font-size="9.5" text-anchor="start" fill="#000">n</text>
<text x="26.25" y="477.80" font-size="13.7" text-anchor="start" fill="#000">(</text><text x="30.90" y="477.80" font-size="13.7" text-anchor="start" fill="#000">P</text><text x="40.45" y="478.20" font-size="8.0" text-anchor="start" fill="#000">1</text><text x="45.00" y="477.80" font-size="13.7" text-anchor="start" fill="#000">/</text><text x="49.60" y="477.80" font-size="13.7" text-anchor="start" fill="#000">P</text><text x="58.65" y="478.20" font-size="8.0" text-anchor="start" fill="#000">2</text><text x="63.80" y="477.80" font-size="13.7" text-anchor="start" fill="#000">/</text><text x="68.20" y="477.80" font-size="13.7" text-anchor="start" fill="#000">P</text><text x="77.65" y="478.20" font-size="8.0" text-anchor="start" fill="#000">3</text><text x="82.70" y="477.80" font-size="13.7" text-anchor="start" fill="#000">)</text><text x="86.80" y="481.60" font-size="9.5" text-anchor="start" fill="#000">n</text>
<circle cx="50.5" cy="365.3" r="8.8" fill="none" stroke="#aab4b4" stroke-width="0.6"/>
<line x1="42.50" y1="351.44" x2="37.50" y2="342.78" stroke="#f2b66a" stroke-width="0.8"/>
<circle cx="37.50" cy="342.78" r="0.80" fill="#e36be8"/>
<line x1="44.93" y1="357.66" x2="41.13" y2="351.08" stroke="#2a9d8f" stroke-width="1.0"/>
<line x1="46.67" y1="356.66" x2="42.87" y2="350.08" stroke="#2a9d8f" stroke-width="1.0"/>
<line x1="49.22" y1="349.35" x2="48.41" y2="339.38" stroke="#f2b66a" stroke-width="0.8"/>
<circle cx="48.41" cy="339.38" r="0.80" fill="#e36be8"/>
<line x1="48.75" y1="356.01" x2="48.14" y2="348.43" stroke="#4a4aff" stroke-width="1.0"/>
<line x1="50.74" y1="355.85" x2="50.13" y2="348.27" stroke="#4a4aff" stroke-width="1.0"/>
<line x1="56.23" y1="350.36" x2="59.82" y2="341.03" stroke="#f2b66a" stroke-width="0.8"/>
<circle cx="59.82" cy="341.03" r="0.80" fill="#e36be8"/>
<line x1="52.94" y1="356.17" x2="55.66" y2="349.07" stroke="#ff6a3a" stroke-width="1.0"/>
<line x1="54.80" y1="356.88" x2="57.53" y2="349.79" stroke="#ff6a3a" stroke-width="1.0"/>
<line x1="62.20" y1="354.39" x2="69.52" y2="347.57" stroke="#f2b66a" stroke-width="0.8"/>
<circle cx="69.52" cy="347.57" r="0.80" fill="#e36be8"/>
<line x1="56.69" y1="358.16" x2="62.25" y2="352.97" stroke="#2a9d8f" stroke-width="1.0"/>
<line x1="58.06" y1="359.62" x2="63.62" y2="354.44" stroke="#2a9d8f" stroke-width="1.0"/>
<line x1="65.75" y1="360.46" x2="75.28" y2="357.44" stroke="#f2b66a" stroke-width="0.8"/>
<circle cx="75.28" cy="357.44" r="0.80" fill="#e36be8"/>
<line x1="59.16" y1="361.50" x2="66.40" y2="359.21" stroke="#4a4aff" stroke-width="1.0"/>
<line x1="59.76" y1="363.41" x2="67.01" y2="361.11" stroke="#4a4aff" stroke-width="1.0"/>
<line x1="66.30" y1="367.80" x2="76.18" y2="369.37" stroke="#f2b66a" stroke-width="0.8"/>
<circle cx="76.18" cy="369.37" r="0.80" fill="#e36be8"/>
<line x1="59.94" y1="365.78" x2="67.45" y2="366.97" stroke="#ff6a3a" stroke-width="1.0"/>
<line x1="59.63" y1="367.76" x2="67.13" y2="368.95" stroke="#ff6a3a" stroke-width="1.0"/>
<line x1="59.33" y1="368.68" x2="66.10" y2="372.13" stroke="#2a9d8f" stroke-width="1.0"/>
<line x1="58.42" y1="370.46" x2="65.19" y2="373.91" stroke="#2a9d8f" stroke-width="1.0"/>
<line x1="44.35" y1="380.07" x2="40.51" y2="389.30" stroke="#f2b66a" stroke-width="0.8"/>
<circle cx="40.51" cy="389.30" r="0.80" fill="#e36be8"/>
<line x1="47.81" y1="374.36" x2="44.89" y2="381.38" stroke="#4a4aff" stroke-width="1.0"/>
<line x1="45.96" y1="373.59" x2="43.04" y2="380.61" stroke="#4a4aff" stroke-width="1.0"/>
<line x1="38.61" y1="376.01" x2="31.18" y2="382.70" stroke="#f2b66a" stroke-width="0.8"/>
<circle cx="31.18" cy="382.70" r="0.80" fill="#e36be8"/>
<line x1="44.18" y1="372.33" x2="38.54" y2="377.42" stroke="#ff6a3a" stroke-width="1.0"/>
<line x1="42.85" y1="370.85" x2="37.20" y2="375.93" stroke="#ff6a3a" stroke-width="1.0"/>
<line x1="35.20" y1="369.98" x2="25.64" y2="372.90" stroke="#f2b66a" stroke-width="0.8"/>
<circle cx="25.64" cy="372.90" r="0.80" fill="#e36be8"/>
<line x1="41.80" y1="369.00" x2="34.54" y2="371.23" stroke="#2a9d8f" stroke-width="1.0"/>
<line x1="41.22" y1="367.09" x2="33.95" y2="369.31" stroke="#2a9d8f" stroke-width="1.0"/>
<line x1="34.68" y1="362.94" x2="24.79" y2="361.46" stroke="#f2b66a" stroke-width="0.8"/>
<circle cx="24.79" cy="361.46" r="0.80" fill="#e36be8"/>
<line x1="41.06" y1="364.90" x2="33.54" y2="363.78" stroke="#4a4aff" stroke-width="1.0"/>
<line x1="41.35" y1="362.92" x2="33.83" y2="361.80" stroke="#4a4aff" stroke-width="1.0"/>
<line x1="37.24" y1="356.35" x2="28.95" y2="350.76" stroke="#f2b66a" stroke-width="0.8"/>
<circle cx="28.95" cy="350.76" r="0.80" fill="#e36be8"/>
<line x1="42.15" y1="360.87" x2="35.85" y2="356.62" stroke="#ff6a3a" stroke-width="1.0"/>
<line x1="43.27" y1="359.21" x2="36.97" y2="354.96" stroke="#ff6a3a" stroke-width="1.0"/>
<circle cx="58.06" cy="371.21" r="0.55" fill="#222"/>
<circle cx="56.41" cy="372.86" r="0.55" fill="#222"/>
<circle cx="54.40" cy="374.07" r="0.55" fill="#222"/>
<line x1="50.80" y1="375.00" x2="51.50" y2="382.60" stroke="#2a9d8f" stroke-width="0.9"/>
<line x1="51.40" y1="383.00" x2="51.50" y2="391.40" stroke="#f2b66a" stroke-width="0.7"/>
<circle cx="52.6" cy="388.0" r="4.9" fill="none" stroke="#000" stroke-width="1.05" stroke-linecap="round" stroke-dasharray="0.2 2.0"/>
<circle cx="53.4" cy="401.6" r="4.9" fill="none" stroke="#000" stroke-width="1.05" stroke-linecap="round" stroke-dasharray="0.2 2.0"/>
<circle cx="52.8" cy="414.8" r="4.9" fill="none" stroke="#000" stroke-width="1.05" stroke-linecap="round" stroke-dasharray="0.2 2.0"/>
<line x1="53.70" y1="387.80" x2="55.20" y2="407.10" stroke="#e22ab4" stroke-width="0.9"/>
<line x1="52.20" y1="396.50" x2="55.00" y2="396.70" stroke="#ec5ac8" stroke-width="0.7"/>
<line x1="52.20" y1="398.50" x2="55.00" y2="398.70" stroke="#ec5ac8" stroke-width="0.7"/>
<line x1="52.20" y1="400.50" x2="55.00" y2="400.70" stroke="#ec5ac8" stroke-width="0.7"/>
<line x1="52.20" y1="402.50" x2="55.00" y2="402.70" stroke="#ec5ac8" stroke-width="0.7"/>
<line x1="52.20" y1="404.50" x2="55.00" y2="404.70" stroke="#ec5ac8" stroke-width="0.7"/>
<line x1="52.40" y1="395.50" x2="53.00" y2="406.00" stroke="#ec5ac8" stroke-width="0.6"/>
<line x1="50.40" y1="394.30" x2="51.70" y2="414.00" stroke="#2fd03a" stroke-width="0.9"/>
<line x1="53.40" y1="411.50" x2="53.60" y2="421.50" stroke="#7cc4e6" stroke-width="0.8"/>
<text x="67.20" y="400.30" font-size="9.7" text-anchor="middle" fill="#000" transform="rotate(-90 67.20 400.30)">T2 T1 T3</text>
<circle cx="54.7" cy="437.8" r="9.0" fill="none" stroke="#aab4b4" stroke-width="0.6"/>
<line x1="71.58" y1="432.80" x2="79.82" y2="430.36" stroke="#8ccbe0" stroke-width="0.8"/>
<circle cx="79.82" cy="430.36" r="0.80" fill="#3a7fe2"/>
<line x1="63.62" y1="434.11" x2="72.25" y2="431.56" stroke="#e23c3c" stroke-width="1.0"/>
<line x1="64.19" y1="436.03" x2="72.82" y2="433.48" stroke="#e23c3c" stroke-width="1.0"/>
<line x1="72.05" y1="440.74" x2="80.53" y2="442.17" stroke="#8ccbe0" stroke-width="0.8"/>
<circle cx="80.53" cy="442.17" r="0.80" fill="#3a7fe2"/>
<line x1="64.33" y1="438.41" x2="73.21" y2="439.92" stroke="#f8b48a" stroke-width="1.0"/>
<line x1="64.00" y1="440.39" x2="72.87" y2="441.89" stroke="#f8b48a" stroke-width="1.0"/>
<line x1="69.17" y1="447.82" x2="76.24" y2="452.72" stroke="#8ccbe0" stroke-width="0.8"/>
<circle cx="76.24" cy="452.72" r="0.80" fill="#3a7fe2"/>
<line x1="63.16" y1="442.44" x2="70.56" y2="447.57" stroke="#2366e6" stroke-width="1.0"/>
<line x1="62.02" y1="444.09" x2="69.42" y2="449.21" stroke="#2366e6" stroke-width="1.0"/>
<line x1="63.34" y1="453.13" x2="67.56" y2="460.63" stroke="#8ccbe0" stroke-width="0.8"/>
<circle cx="67.56" cy="460.63" r="0.80" fill="#3a7fe2"/>
<line x1="60.28" y1="445.67" x2="64.70" y2="453.51" stroke="#e23c3c" stroke-width="1.0"/>
<line x1="58.54" y1="446.65" x2="62.96" y2="454.50" stroke="#e23c3c" stroke-width="1.0"/>
<line x1="55.93" y1="455.36" x2="56.53" y2="463.94" stroke="#8ccbe0" stroke-width="0.8"/>
<circle cx="56.53" cy="463.94" r="0.80" fill="#3a7fe2"/>
<line x1="56.37" y1="447.31" x2="57.00" y2="456.28" stroke="#f8b48a" stroke-width="1.0"/>
<line x1="54.37" y1="447.45" x2="55.00" y2="456.42" stroke="#f8b48a" stroke-width="1.0"/>
<line x1="48.39" y1="454.23" x2="45.31" y2="462.26" stroke="#8ccbe0" stroke-width="0.8"/>
<circle cx="45.31" cy="462.26" r="0.80" fill="#3a7fe2"/>
<line x1="52.19" y1="447.12" x2="48.97" y2="455.52" stroke="#2366e6" stroke-width="1.0"/>
<line x1="50.33" y1="446.40" x2="47.10" y2="454.81" stroke="#2366e6" stroke-width="1.0"/>
<line x1="41.83" y1="449.80" x2="35.54" y2="455.67" stroke="#8ccbe0" stroke-width="0.8"/>
<circle cx="35.54" cy="455.67" r="0.80" fill="#3a7fe2"/>
<line x1="48.36" y1="445.08" x2="41.78" y2="451.22" stroke="#e23c3c" stroke-width="1.0"/>
<line x1="47.00" y1="443.62" x2="40.41" y2="449.75" stroke="#e23c3c" stroke-width="1.0"/>
<line x1="37.87" y1="442.95" x2="29.64" y2="445.46" stroke="#8ccbe0" stroke-width="0.8"/>
<circle cx="29.64" cy="445.46" r="0.80" fill="#3a7fe2"/>
<line x1="45.81" y1="441.56" x2="37.21" y2="444.19" stroke="#f8b48a" stroke-width="1.0"/>
<line x1="45.23" y1="439.65" x2="36.62" y2="442.28" stroke="#f8b48a" stroke-width="1.0"/>
<line x1="37.31" y1="435.11" x2="28.81" y2="433.79" stroke="#8ccbe0" stroke-width="0.8"/>
<circle cx="28.81" cy="433.79" r="0.80" fill="#3a7fe2"/>
<line x1="45.06" y1="437.32" x2="36.17" y2="435.94" stroke="#2366e6" stroke-width="1.0"/>
<line x1="45.37" y1="435.34" x2="36.47" y2="433.97" stroke="#2366e6" stroke-width="1.0"/>
<line x1="40.43" y1="427.50" x2="33.45" y2="422.47" stroke="#8ccbe0" stroke-width="0.8"/>
<circle cx="33.45" cy="422.47" r="0.80" fill="#3a7fe2"/>
<line x1="46.33" y1="433.00" x2="39.03" y2="427.73" stroke="#e23c3c" stroke-width="1.0"/>
<line x1="47.50" y1="431.37" x2="40.20" y2="426.11" stroke="#e23c3c" stroke-width="1.0"/>
<line x1="46.44" y1="422.26" x2="42.40" y2="414.67" stroke="#8ccbe0" stroke-width="0.8"/>
<circle cx="42.40" cy="414.67" r="0.80" fill="#3a7fe2"/>
<line x1="49.31" y1="429.79" x2="45.08" y2="421.85" stroke="#f8b48a" stroke-width="1.0"/>
<line x1="51.08" y1="428.85" x2="46.85" y2="420.91" stroke="#f8b48a" stroke-width="1.0"/>
<line x1="52.70" y1="428.36" x2="51.76" y2="419.41" stroke="#2366e6" stroke-width="1.0"/>
<line x1="54.69" y1="428.15" x2="53.75" y2="419.20" stroke="#2366e6" stroke-width="1.0"/>
<line x1="56.22" y1="428.27" x2="58.55" y2="419.57" stroke="#e23c3c" stroke-width="1.0"/>
<line x1="58.15" y1="428.79" x2="60.48" y2="420.09" stroke="#e23c3c" stroke-width="1.0"/>
<circle cx="59.49" cy="428.79" r="0.55" fill="#222"/>
<circle cx="62.04" cy="430.71" r="0.55" fill="#222"/>
<circle cx="63.79" cy="433.17" r="0.55" fill="#222"/>
<rect x="145.40" y="331.50" width="152.20" height="121.30" fill="none" stroke="#000" stroke-width="1.2"/>
<line x1="141.80" y1="331.40" x2="145.40" y2="331.40" stroke="#000" stroke-width="1.0"/>
<text x="141.20" y="336.30" font-size="13.7" text-anchor="end" fill="#000">1.0</text>
<line x1="141.80" y1="366.32" x2="145.40" y2="366.32" stroke="#000" stroke-width="1.0"/>
<text x="141.20" y="371.22" font-size="13.7" text-anchor="end" fill="#000">0.8</text>
<line x1="141.80" y1="401.24" x2="145.40" y2="401.24" stroke="#000" stroke-width="1.0"/>
<text x="141.20" y="406.14" font-size="13.7" text-anchor="end" fill="#000">0.6</text>
<line x1="141.80" y1="436.16" x2="145.40" y2="436.16" stroke="#000" stroke-width="1.0"/>
<text x="141.20" y="441.06" font-size="13.7" text-anchor="end" fill="#000">0.4</text>
<line x1="143.20" y1="348.86" x2="145.40" y2="348.86" stroke="#000" stroke-width="0.9"/>
<line x1="143.20" y1="383.78" x2="145.40" y2="383.78" stroke="#000" stroke-width="0.9"/>
<line x1="143.20" y1="418.70" x2="145.40" y2="418.70" stroke="#000" stroke-width="0.9"/>
<line x1="157.20" y1="452.80" x2="157.20" y2="456.20" stroke="#000" stroke-width="1.0"/>
<text x="157.50" y="468.20" font-size="13.7" text-anchor="middle" fill="#000">30</text>
<line x1="180.53" y1="452.80" x2="180.53" y2="456.20" stroke="#000" stroke-width="1.0"/>
<text x="180.83" y="468.20" font-size="13.7" text-anchor="middle" fill="#000">40</text>
<line x1="203.86" y1="452.80" x2="203.86" y2="456.20" stroke="#000" stroke-width="1.0"/>
<text x="204.16" y="468.20" font-size="13.7" text-anchor="middle" fill="#000">50</text>
<line x1="227.19" y1="452.80" x2="227.19" y2="456.20" stroke="#000" stroke-width="1.0"/>
<text x="227.49" y="468.20" font-size="13.7" text-anchor="middle" fill="#000">60</text>
<line x1="250.52" y1="452.80" x2="250.52" y2="456.20" stroke="#000" stroke-width="1.0"/>
<text x="250.82" y="468.20" font-size="13.7" text-anchor="middle" fill="#000">70</text>
<line x1="273.85" y1="452.80" x2="273.85" y2="456.20" stroke="#000" stroke-width="1.0"/>
<text x="274.15" y="468.20" font-size="13.7" text-anchor="middle" fill="#000">80</text>
<line x1="297.18" y1="452.80" x2="297.18" y2="456.20" stroke="#000" stroke-width="1.0"/>
<text x="297.48" y="468.20" font-size="13.7" text-anchor="middle" fill="#000">90</text>
<line x1="168.87" y1="452.80" x2="168.87" y2="454.80" stroke="#000" stroke-width="0.9"/>
<line x1="192.20" y1="452.80" x2="192.20" y2="454.80" stroke="#000" stroke-width="0.9"/>
<line x1="215.53" y1="452.80" x2="215.53" y2="454.80" stroke="#000" stroke-width="0.9"/>
<line x1="238.86" y1="452.80" x2="238.86" y2="454.80" stroke="#000" stroke-width="0.9"/>
<line x1="262.19" y1="452.80" x2="262.19" y2="454.80" stroke="#000" stroke-width="0.9"/>
<line x1="285.52" y1="452.80" x2="285.52" y2="454.80" stroke="#000" stroke-width="0.9"/>
<line x1="145.60" y1="452.80" x2="145.60" y2="454.80" stroke="#000" stroke-width="0.9"/>
<text x="111.60" y="397.50" font-size="12.5" text-anchor="middle" fill="#000" transform="rotate(-90 111.60 397.50)">Fraction of bases unpaired</text>
<text x="171.00" y="483.70" font-size="13.7" text-anchor="start" fill="#000">Temperature</text>
<text x="254.6" y="483.7" font-size="14.0" style="font-family:'Liberation Serif',serif">(</text>
<text x="259.0" y="483.7" font-size="14.0" style="font-family:'Liberation Serif',serif">&#176;</text>
<text x="263.4" y="483.7" font-size="14.0" style="font-family:'Liberation Serif',serif">C</text>
<text x="273.2" y="483.7" font-size="14.0" style="font-family:'Liberation Serif',serif">)</text>
<circle cx="147.80" cy="437.40" r="1.60" fill="#f2474a"/>
<circle cx="152.47" cy="436.90" r="1.60" fill="#f2474a"/>
<circle cx="157.13" cy="436.20" r="1.60" fill="#f2474a"/>
<circle cx="161.80" cy="435.60" r="1.60" fill="#f2474a"/>
<circle cx="166.46" cy="435.00" r="1.60" fill="#f2474a"/>
<circle cx="171.13" cy="434.30" r="1.60" fill="#f2474a"/>
<circle cx="175.80" cy="433.60" r="1.60" fill="#f2474a"/>
<circle cx="180.46" cy="432.80" r="1.60" fill="#f2474a"/>
<circle cx="185.13" cy="432.10" r="1.60" fill="#f2474a"/>
<circle cx="189.79" cy="431.40" r="1.60" fill="#f2474a"/>
<circle cx="194.46" cy="430.70" r="1.60" fill="#f2474a"/>
<circle cx="199.13" cy="429.80" r="1.60" fill="#f2474a"/>
<circle cx="203.79" cy="428.90" r="1.60" fill="#f2474a"/>
<circle cx="208.46" cy="427.70" r="1.60" fill="#f2474a"/>
<circle cx="213.12" cy="426.60" r="1.60" fill="#f2474a"/>
<circle cx="217.79" cy="425.30" r="1.60" fill="#f2474a"/>
<circle cx="222.46" cy="423.80" r="1.60" fill="#f2474a"/>
<circle cx="227.12" cy="421.90" r="1.60" fill="#f2474a"/>
<circle cx="231.79" cy="419.40" r="1.60" fill="#f2474a"/>
<circle cx="236.45" cy="416.30" r="1.60" fill="#f2474a"/>
<circle cx="241.12" cy="412.50" r="1.60" fill="#f2474a"/>
<circle cx="245.79" cy="408.20" r="1.60" fill="#f2474a"/>
<circle cx="250.45" cy="403.00" r="1.60" fill="#f2474a"/>
<circle cx="255.12" cy="397.00" r="1.60" fill="#f2474a"/>
<circle cx="259.78" cy="391.10" r="1.60" fill="#f2474a"/>
<circle cx="264.45" cy="385.40" r="1.60" fill="#f2474a"/>
<circle cx="269.12" cy="380.60" r="1.60" fill="#f2474a"/>
<circle cx="273.78" cy="376.50" r="1.60" fill="#f2474a"/>
<circle cx="278.45" cy="373.20" r="1.60" fill="#f2474a"/>
<circle cx="283.11" cy="370.30" r="1.60" fill="#f2474a"/>
<circle cx="147.80" cy="442.00" r="1.60" fill="#454545"/>
<circle cx="152.47" cy="441.30" r="1.60" fill="#454545"/>
<circle cx="157.13" cy="440.30" r="1.60" fill="#454545"/>
<circle cx="161.80" cy="439.40" r="1.60" fill="#454545"/>
<circle cx="166.46" cy="438.40" r="1.60" fill="#454545"/>
<circle cx="171.13" cy="437.20" r="1.60" fill="#454545"/>
<circle cx="175.80" cy="436.10" r="1.60" fill="#454545"/>
<circle cx="180.46" cy="434.70" r="1.60" fill="#454545"/>
<circle cx="185.13" cy="433.40" r="1.60" fill="#454545"/>
<circle cx="189.79" cy="432.00" r="1.60" fill="#454545"/>
<circle cx="194.46" cy="430.70" r="1.60" fill="#454545"/>
<circle cx="199.13" cy="429.20" r="1.60" fill="#454545"/>
<circle cx="203.79" cy="427.70" r="1.60" fill="#454545"/>
<circle cx="208.46" cy="426.30" r="1.60" fill="#454545"/>
<circle cx="213.12" cy="424.70" r="1.60" fill="#454545"/>
<circle cx="217.79" cy="423.20" r="1.60" fill="#454545"/>
<circle cx="222.46" cy="421.60" r="1.60" fill="#454545"/>
<circle cx="227.12" cy="419.70" r="1.60" fill="#454545"/>
<circle cx="231.79" cy="416.90" r="1.60" fill="#454545"/>
<circle cx="236.45" cy="413.70" r="1.60" fill="#454545"/>
<circle cx="241.12" cy="409.10" r="1.60" fill="#454545"/>
<circle cx="245.79" cy="403.10" r="1.60" fill="#454545"/>
<circle cx="250.45" cy="395.70" r="1.60" fill="#454545"/>
<circle cx="255.12" cy="387.20" r="1.60" fill="#454545"/>
<circle cx="259.78" cy="378.70" r="1.60" fill="#454545"/>
<circle cx="264.45" cy="371.10" r="1.60" fill="#454545"/>
<circle cx="269.12" cy="365.40" r="1.60" fill="#454545"/>
<circle cx="273.78" cy="361.50" r="1.60" fill="#454545"/>
<circle cx="278.45" cy="359.00" r="1.60" fill="#454545"/>
<circle cx="283.11" cy="357.10" r="1.60" fill="#454545"/>
<circle cx="147.80" cy="443.80" r="1.60" fill="#1766e2"/>
<circle cx="152.47" cy="443.10" r="1.60" fill="#1766e2"/>
<circle cx="157.13" cy="441.90" r="1.60" fill="#1766e2"/>
<circle cx="161.80" cy="440.70" r="1.60" fill="#1766e2"/>
<circle cx="166.46" cy="439.40" r="1.60" fill="#1766e2"/>
<circle cx="171.13" cy="438.10" r="1.60" fill="#1766e2"/>
<circle cx="175.80" cy="436.60" r="1.60" fill="#1766e2"/>
<circle cx="180.46" cy="435.20" r="1.60" fill="#1766e2"/>
<circle cx="185.13" cy="433.60" r="1.60" fill="#1766e2"/>
<circle cx="189.79" cy="432.00" r="1.60" fill="#1766e2"/>
<circle cx="194.46" cy="430.50" r="1.60" fill="#1766e2"/>
<circle cx="199.13" cy="428.60" r="1.60" fill="#1766e2"/>
<circle cx="203.79" cy="426.70" r="1.60" fill="#1766e2"/>
<circle cx="208.46" cy="424.70" r="1.60" fill="#1766e2"/>
<circle cx="213.12" cy="422.80" r="1.60" fill="#1766e2"/>
<circle cx="217.79" cy="420.40" r="1.60" fill="#1766e2"/>
<circle cx="222.46" cy="418.00" r="1.60" fill="#1766e2"/>
<circle cx="227.12" cy="415.20" r="1.60" fill="#1766e2"/>
<circle cx="231.79" cy="411.50" r="1.60" fill="#1766e2"/>
<circle cx="236.45" cy="407.40" r="1.60" fill="#1766e2"/>
<circle cx="241.12" cy="402.00" r="1.60" fill="#1766e2"/>
<circle cx="245.79" cy="395.50" r="1.60" fill="#1766e2"/>
<circle cx="250.45" cy="387.80" r="1.60" fill="#1766e2"/>
<circle cx="255.12" cy="379.00" r="1.60" fill="#1766e2"/>
<circle cx="259.78" cy="370.00" r="1.60" fill="#1766e2"/>
<circle cx="264.45" cy="361.20" r="1.60" fill="#1766e2"/>
<circle cx="269.12" cy="354.20" r="1.60" fill="#1766e2"/>
<circle cx="273.78" cy="349.10" r="1.60" fill="#1766e2"/>
<circle cx="278.45" cy="345.60" r="1.60" fill="#1766e2"/>
<circle cx="283.11" cy="343.20" r="1.60" fill="#1766e2"/>
<circle cx="155.80" cy="341.60" r="1.90" fill="#1766e2"/>
<text x="160.40" y="345.60" font-size="11.0" text-anchor="start" fill="#000">T1</text>
<circle cx="155.80" cy="353.30" r="1.60" fill="#454545"/>
<text x="160.40" y="357.30" font-size="11.0" text-anchor="start" fill="#000">T2</text>
<circle cx="155.80" cy="365.00" r="1.90" fill="#f2474a"/>
<text x="160.40" y="369.00" font-size="11.0" text-anchor="start" fill="#000">T3</text>
<text x="310.60" y="332.00" font-size="21.5" text-anchor="start" fill="#000" font-weight="bold">f</text>
<text transform="translate(324.40 334.60) scale(1.09 1)" font-size="13.5" text-anchor="start" fill="#000">bp</text>
<text transform="translate(371.00 334.60) scale(1.06 1)" font-size="13.5" text-anchor="middle" fill="#000">M</text>
<text transform="translate(382.60 334.60) scale(1.06 1)" font-size="13.5" text-anchor="middle" fill="#000">a</text>
<text transform="translate(393.80 334.60) scale(1.06 1)" font-size="13.5" text-anchor="middle" fill="#000">b</text>
<text transform="translate(405.00 334.60) scale(1.06 1)" font-size="13.5" text-anchor="middle" fill="#000">c</text>
<text transform="translate(416.20 334.60) scale(1.06 1)" font-size="13.5" text-anchor="middle" fill="#000">d</text>
<text transform="translate(427.40 334.60) scale(1.06 1)" font-size="13.5" text-anchor="middle" fill="#000">e</text>
<text transform="translate(438.40 334.60) scale(1.06 1)" font-size="13.5" text-anchor="middle" fill="#000">f</text>
<text transform="translate(450.00 334.60) scale(1.06 1)" font-size="13.5" text-anchor="middle" fill="#000">g</text>
<text transform="translate(461.40 334.60) scale(1.06 1)" font-size="13.5" text-anchor="middle" fill="#000">h</text>
<text transform="translate(472.60 334.60) scale(1.06 1)" font-size="13.5" text-anchor="middle" fill="#000">i</text>
<text transform="translate(484.20 334.60) scale(1.06 1)" font-size="13.5" text-anchor="middle" fill="#000">j</text>
<text transform="translate(495.00 334.60) scale(1.06 1)" font-size="13.5" text-anchor="middle" fill="#000">k</text>
<line x1="347.60" y1="354.40" x2="358.50" y2="354.40" stroke="#000" stroke-width="1.3"/>
<text transform="translate(346.80 359.20) scale(1.1 1)" font-size="13.5" text-anchor="end" fill="#000">1000</text>
<line x1="347.60" y1="367.40" x2="358.50" y2="367.40" stroke="#000" stroke-width="1.3"/>
<text transform="translate(346.80 372.20) scale(1.1 1)" font-size="13.5" text-anchor="end" fill="#000">500</text>
<line x1="347.60" y1="391.20" x2="358.50" y2="391.20" stroke="#000" stroke-width="1.3"/>
<text transform="translate(346.80 396.00) scale(1.1 1)" font-size="13.5" text-anchor="end" fill="#000">200</text>
<defs><filter id="gb" x="-5%" y="-5%" width="110%" height="110%"><feGaussianBlur stdDeviation="0.85"/></filter><filter id="gb0" x="-5%" y="-5%" width="110%" height="110%"><feGaussianBlur stdDeviation="0.45"/></filter><filter id="gb2" x="-20%" y="-20%" width="140%" height="140%"><feGaussianBlur stdDeviation="1.2"/></filter><linearGradient id="sm1" x1="0" x2="0" y1="0" y2="1"><stop offset="0" stop-color="#fff" stop-opacity="0"/><stop offset="0.6" stop-color="#fff" stop-opacity="0.28"/><stop offset="1" stop-color="#fff" stop-opacity="0.85"/></linearGradient><linearGradient id="sm2" x1="0" x2="0" y1="0" y2="1"><stop offset="0" stop-color="#fff" stop-opacity="1"/><stop offset="0.3" stop-color="#fff" stop-opacity="0.55"/><stop offset="1" stop-color="#fff" stop-opacity="0"/></linearGradient><clipPath id="gelclip"><rect x="357.8" y="340.5" width="153.2" height="124.7"/></clipPath></defs>
<rect x="357.80" y="340.50" width="153.20" height="124.70" fill="#000"/>
<g clip-path="url(#gelclip)"><g filter="url(#gb)">
<rect x="367.20" y="347.30" width="7.60" height="1.00" fill="#585858"/>
<rect x="378.80" y="347.30" width="7.60" height="1.00" fill="#585858"/>
<rect x="390.00" y="347.30" width="7.60" height="1.00" fill="#585858"/>
<rect x="401.20" y="347.30" width="7.60" height="1.00" fill="#585858"/>
<rect x="412.40" y="347.30" width="7.60" height="1.00" fill="#585858"/>
<rect x="423.60" y="347.30" width="7.60" height="1.00" fill="#585858"/>
<rect x="434.60" y="347.30" width="7.60" height="1.00" fill="#585858"/>
<rect x="446.20" y="347.30" width="7.60" height="1.00" fill="#585858"/>
<rect x="457.60" y="347.30" width="7.60" height="1.00" fill="#585858"/>
<rect x="468.80" y="347.30" width="7.60" height="1.00" fill="#585858"/>
<rect x="480.40" y="347.30" width="7.60" height="1.00" fill="#585858"/>
</g><g filter="url(#gb0)">
<rect x="366.40" y="353.30" width="8.20" height="2.80" fill="#f0f0f0"/>
<rect x="366.40" y="357.30" width="8.20" height="1.20" fill="#b8b8b8"/>
<rect x="366.40" y="360.80" width="8.20" height="0.80" fill="#5a5a5a"/>
<rect x="366.40" y="363.70" width="8.20" height="1.60" fill="#dadada"/>
<rect x="366.40" y="365.95" width="8.20" height="1.30" fill="#c4c4c4"/>
<rect x="366.40" y="370.55" width="8.20" height="0.90" fill="#7a7a7a"/>
<rect x="366.40" y="377.60" width="8.20" height="0.80" fill="#606060"/>
<rect x="366.40" y="389.80" width="8.20" height="0.80" fill="#484848"/>
</g><g filter="url(#gb)">
<rect x="423.40" y="376.00" width="1.20" height="13.00" fill="#fff" opacity="0.45"/>
<rect x="430.20" y="376.00" width="1.20" height="13.00" fill="#fff" opacity="0.45"/>
<rect x="378.60" y="455.80" width="7.20" height="3.00" fill="#7e7e7e"/>
<rect x="389.80" y="454.00" width="7.40" height="3.00" fill="#989898"/>
<rect x="400.80" y="452.40" width="8.00" height="4.40" fill="#b8b8b8"/>
<rect x="412.40" y="421.00" width="7.60" height="4.00" fill="#e6e6e6"/>
<rect x="423.40" y="372.50" width="8.00" height="17.50" fill="url(#sm1)"/>
<rect x="423.60" y="387.60" width="7.60" height="2.60" fill="#f4f4f4"/>
<rect x="435.20" y="452.60" width="7.20" height="2.60" fill="#a0a0a0"/>
<rect x="446.60" y="454.00" width="7.40" height="2.60" fill="#a0a0a0"/>
<rect x="458.20" y="452.20" width="7.40" height="2.60" fill="#a0a0a0"/>
<rect x="469.60" y="419.80" width="7.20" height="3.40" fill="#a8a8a8"/>
<rect x="480.40" y="350.00" width="7.80" height="30.00" fill="#fff" opacity="0.07"/>
<rect x="480.40" y="378.00" width="7.80" height="8.00" fill="url(#sm1)" opacity="0.8"/>
<rect x="480.60" y="383.40" width="7.40" height="2.80" fill="#f4f4f4"/>
<rect x="491.20" y="347.00" width="7.80" height="21.00" fill="url(#sm2)"/>
<rect x="491.20" y="347.00" width="7.80" height="3.60" fill="#fff"/>
</g></g>
<text x="512.30" y="327.00" font-size="21.5" text-anchor="start" fill="#000" font-weight="bold">g</text>
<defs>
<linearGradient id="semg" x1="0" x2="1" y1="0" y2="0.2"><stop offset="0" stop-color="#989898"/><stop offset="0.45" stop-color="#9c9c9c"/><stop offset="0.7" stop-color="#b4b4b4"/><stop offset="1" stop-color="#cacaca"/></linearGradient>
<clipPath id="semclip"><rect x="515.0" y="340.5" width="167.39999999999998" height="125.0"/></clipPath>
<filter id="semf" filterUnits="userSpaceOnUse" x="511.0" y="336.5" width="175.39999999999998" height="133.0" color-interpolation-filters="sRGB">
<feTurbulence type="fractalNoise" baseFrequency="0.07" numOctaves="2" seed="12" result="dn"/><feDisplacementMap in="SourceGraphic" in2="dn" scale="9" xChannelSelector="R" yChannelSelector="G" result="disp"/><feGaussianBlur in="disp" stdDeviation="0.6" result="b"/>
<feTurbulence type="fractalNoise" baseFrequency="0.45" numOctaves="2" seed="3" result="n"/>
<feColorMatrix in="n" type="matrix" values="0 0 0 0 0  0 0 0 0 0  0 0 0 0 0  0.9 0 0 0 -0.36" result="dk"/>
<feColorMatrix in="n" type="matrix" values="0 0 0 0 1  0 0 0 0 1  0 0 0 0 1  0 0.9 0 0 -0.38" result="lt"/>
<feComposite in="dk" in2="b" operator="over" result="c1"/>
<feComposite in="lt" in2="c1" operator="over"/>
</filter>
<filter id="semblur" x="-30%" y="-30%" width="160%" height="160%"><feGaussianBlur stdDeviation="4"/></filter>
</defs>
<g clip-path="url(#semclip)"><g filter="url(#semf)">
<rect x="511.00" y="336.50" width="175.40" height="133.00" fill="url(#semg)"/>
<polygon points="653.8,449.5 657.4,450.8 658.4,446.4 657.2,445.2 653.7,445.2 653.0,446.3" fill="#777777" stroke="#777777" stroke-width="1.1" stroke-linejoin="round"/>
<polygon points="558.3,335.6 556.2,336.8 555.9,338.1 557.3,341.2 561.1,340.2 560.2,336.3" fill="#919191" stroke="#919191" stroke-width="1.1" stroke-linejoin="round"/>
<polygon points="578.8,339.4 581.2,340.2 583.5,339.2 584.3,337.2 583.0,334.4 579.1,335.2 578.2,336.9" fill="#666666" stroke="#666666" stroke-width="1.1" stroke-linejoin="round"/>
<polygon points="661.0,384.3 660.0,389.3 662.0,391.3 663.7,391.0 666.6,386.0 661.3,384.2" fill="#8d8d8d" stroke="#8d8d8d" stroke-width="1.1" stroke-linejoin="round"/>
<polygon points="628.0,340.3 630.9,343.2 634.6,341.9 636.7,338.3 636.6,338.1 633.6,336.1 631.0,336.4" fill="#7f7f7f" stroke="#7f7f7f" stroke-width="1.1" stroke-linejoin="round"/>
<polygon points="552.5,458.7 556.1,461.0 559.2,458.7 559.4,457.3 556.3,454.9" fill="#838383" stroke="#838383" stroke-width="1.1" stroke-linejoin="round"/>
<polygon points="635.5,455.8 634.8,458.7 632.2,459.6 629.3,455.9 632.5,453.5" fill="#707070" stroke="#707070" stroke-width="1.1" stroke-linejoin="round"/>
<polygon points="674.7,453.2 676.6,458.1 673.0,460.5 669.1,459.1 668.3,455.9 669.9,453.8" fill="#959595" stroke="#959595" stroke-width="1.1" stroke-linejoin="round"/>
<polygon points="584.0,357.4 587.4,356.5 588.8,357.2 590.5,362.1 589.8,363.0 585.8,363.6 584.0,361.6 583.9,357.6" fill="#464646" stroke="#464646" stroke-width="1.1" stroke-linejoin="round"/>
<polygon points="659.6,372.0 652.5,374.2 653.3,379.8 658.9,381.2 659.2,381.0 661.1,374.9" fill="#7b7b7b" stroke="#7b7b7b" stroke-width="1.1" stroke-linejoin="round"/>
<polygon points="635.5,399.8 632.8,398.2 632.7,395.1 636.5,391.8 637.7,391.7 639.2,392.7 640.2,395.6" fill="#bababa" stroke="#bababa" stroke-width="1.1" stroke-linejoin="round"/>
<polygon points="551.4,375.1 551.5,378.8 550.1,380.1 546.3,377.8 546.2,376.6 547.6,374.8" fill="#313131" stroke="#313131" stroke-width="1.1" stroke-linejoin="round"/>
<polygon points="598.1,401.7 598.3,405.8 600.6,406.8 602.8,405.9 603.3,403.2 602.7,402.3 598.8,401.2" fill="#848484" stroke="#848484" stroke-width="1.1" stroke-linejoin="round"/>
<polygon points="578.9,463.6 577.6,466.7 579.7,469.1 581.2,469.1 582.7,467.4 581.3,464.1" fill="#252525" stroke="#252525" stroke-width="1.1" stroke-linejoin="round"/>
<polygon points="547.7,436.4 547.4,438.5 550.6,441.0 552.1,439.1 550.6,434.7 550.6,434.7" fill="#858585" stroke="#858585" stroke-width="1.1" stroke-linejoin="round"/>
<polygon points="621.5,346.7 625.1,341.8 626.1,341.9 629.3,345.0 628.8,347.1 624.9,349.1" fill="#636363" stroke="#636363" stroke-width="1.1" stroke-linejoin="round"/>
<polygon points="627.0,385.1 624.9,388.0 623.9,388.2 621.4,386.4 621.2,384.8 624.3,381.8 627.0,384.9" fill="#262626" stroke="#262626" stroke-width="1.1" stroke-linejoin="round"/>
<polygon points="539.6,389.7 539.0,389.3 538.0,386.1 541.7,383.9 544.3,386.2 544.3,387.9 543.3,389.1" fill="#929292" stroke="#929292" stroke-width="1.1" stroke-linejoin="round"/>
<polygon points="573.4,434.2 573.7,432.8 576.9,431.1 577.2,431.2 579.0,435.5 578.6,436.8 576.9,437.4 575.8,437.0" fill="#515151" stroke="#515151" stroke-width="1.1" stroke-linejoin="round"/>
<polygon points="660.6,351.2 654.9,349.6 652.8,352.2 652.9,353.6 657.6,356.1 660.0,355.5 660.7,351.7" fill="#2a2a2a" stroke="#2a2a2a" stroke-width="1.1" stroke-linejoin="round"/>
<polygon points="596.7,466.5 597.4,466.9 597.8,470.2 592.9,473.3 591.7,468.8" fill="#686868" stroke="#686868" stroke-width="1.1" stroke-linejoin="round"/>
<polygon points="621.5,463.1 619.4,466.4 621.7,469.3 626.3,468.9 627.5,466.9 627.4,466.1 623.1,462.9" fill="#858585" stroke="#858585" stroke-width="1.1" stroke-linejoin="round"/>
<polygon points="519.8,457.7 518.3,457.9 515.6,454.7 516.7,452.7 520.0,451.5 521.3,452.2 522.3,453.8" fill="#585858" stroke="#585858" stroke-width="1.1" stroke-linejoin="round"/>
<polygon points="533.2,408.1 530.2,409.4 529.0,405.7 529.3,404.6 529.6,404.4 532.2,404.1" fill="#717171" stroke="#717171" stroke-width="1.1" stroke-linejoin="round"/>
<polygon points="597.3,408.1 595.5,408.8 594.6,412.8 598.8,412.9 599.7,409.1" fill="#939393" stroke="#939393" stroke-width="1.1" stroke-linejoin="round"/>
<polygon points="661.6,371.1 661.7,370.6 664.5,367.5 671.8,368.1 672.0,370.6 669.3,374.7 663.0,373.9" fill="#696969" stroke="#696969" stroke-width="1.1" stroke-linejoin="round"/>
<polygon points="570.0,462.4 569.1,462.3 566.4,464.4 569.7,468.0 570.9,466.4 570.2,462.6" fill="#525252" stroke="#525252" stroke-width="1.1" stroke-linejoin="round"/>
<polygon points="592.6,395.3 594.3,393.8 597.7,394.5 597.3,398.8 596.5,399.3 593.3,399.1 592.6,398.4" fill="#989898" stroke="#989898" stroke-width="1.1" stroke-linejoin="round"/>
<polygon points="662.7,375.4 669.2,376.3 671.4,382.8 671.3,383.0 668.5,384.0 660.9,381.4" fill="#a0a0a0" stroke="#a0a0a0" stroke-width="1.1" stroke-linejoin="round"/>
<polygon points="580.8,420.5 579.4,420.6 577.4,418.9 576.7,415.5 580.6,413.4 583.5,415.5 583.5,418.0" fill="#7d7d7d" stroke="#7d7d7d" stroke-width="1.1" stroke-linejoin="round"/>
<polygon points="597.9,433.9 597.1,433.1 597.0,429.0 600.5,428.0 602.5,429.0 602.9,429.7 602.5,431.6 598.3,434.0" fill="#5d5d5d" stroke="#5d5d5d" stroke-width="1.1" stroke-linejoin="round"/>
<polygon points="545.7,362.3 542.9,359.4 543.1,359.2 545.4,358.6 547.0,360.1 547.1,361.0" fill="#5e5e5e" stroke="#5e5e5e" stroke-width="1.1" stroke-linejoin="round"/>
<polygon points="548.1,417.8 545.9,415.5 543.4,417.1 543.1,417.7 545.1,420.1 545.1,420.1" fill="#5b5b5b" stroke="#5b5b5b" stroke-width="1.1" stroke-linejoin="round"/>
<polygon points="569.3,385.9 568.0,382.3 572.4,381.0 572.8,385.4 572.5,385.8" fill="#313131" stroke="#313131" stroke-width="1.1" stroke-linejoin="round"/>
<polygon points="636.0,445.2 633.2,439.7 628.4,444.4 628.5,445.1 632.5,448.4" fill="#858585" stroke="#858585" stroke-width="1.1" stroke-linejoin="round"/>
<polygon points="660.0,367.7 656.6,364.2 658.7,360.7 660.9,360.1 661.5,360.7 662.0,365.5" fill="#adadad" stroke="#adadad" stroke-width="1.1" stroke-linejoin="round"/>
<polygon points="565.5,400.6 566.0,403.5 565.6,403.8 561.8,403.2 562.0,401.3 563.4,400.0" fill="#333333" stroke="#333333" stroke-width="1.1" stroke-linejoin="round"/>
<polygon points="512.5,405.2 514.8,407.3 513.4,408.8 511.5,408.1 511.1,406.4 511.4,405.8" fill="#5d5d5d" stroke="#5d5d5d" stroke-width="1.1" stroke-linejoin="round"/>
<polygon points="595.1,419.3 598.3,419.2 599.9,417.2 598.5,415.4 594.9,415.3 594.8,415.3 594.5,418.9" fill="#555555" stroke="#555555" stroke-width="1.1" stroke-linejoin="round"/>
<polygon points="601.3,408.9 600.2,413.8 602.4,416.5 605.6,416.6 607.2,410.6 604.1,407.7" fill="#797979" stroke="#797979" stroke-width="1.1" stroke-linejoin="round"/>
<polygon points="617.5,366.6 618.7,368.5 622.0,367.8 622.9,364.2 622.6,363.8 617.8,365.1" fill="#202020" stroke="#202020" stroke-width="1.1" stroke-linejoin="round"/>
<polygon points="626.5,361.2 629.2,362.2 634.1,360.3 634.0,354.8 632.9,354.4 625.8,357.6 626.0,360.7" fill="#828282" stroke="#828282" stroke-width="1.1" stroke-linejoin="round"/>
<polygon points="641.2,468.4 644.1,471.6 648.6,470.2 646.1,464.6 642.2,465.9" fill="#1e1e1e" stroke="#1e1e1e" stroke-width="1.1" stroke-linejoin="round"/>
<polygon points="585.2,369.2 586.6,366.0 589.6,365.6 590.4,368.6 588.2,370.7" fill="#515151" stroke="#515151" stroke-width="1.1" stroke-linejoin="round"/>
<polygon points="535.1,427.6 531.4,430.7 531.7,431.7 536.4,433.7 538.5,430.2 535.6,427.6" fill="#626262" stroke="#626262" stroke-width="1.1" stroke-linejoin="round"/>
<polygon points="514.9,359.5 518.7,360.2 519.7,358.6 517.3,355.7 514.5,357.8" fill="#4c4c4c" stroke="#4c4c4c" stroke-width="1.1" stroke-linejoin="round"/>
<polygon points="559.2,403.3 559.4,400.8 555.2,398.2 554.1,399.3 554.4,403.8 558.1,404.6" fill="#888888" stroke="#888888" stroke-width="1.1" stroke-linejoin="round"/>
<polygon points="543.1,434.7 541.1,436.3 541.7,438.3 543.4,438.9 544.9,438.0 545.3,436.1" fill="#686868" stroke="#686868" stroke-width="1.1" stroke-linejoin="round"/>
<polygon points="541.7,379.9 539.2,377.8 541.0,375.4 543.6,376.9 543.7,377.9" fill="#696969" stroke="#696969" stroke-width="1.1" stroke-linejoin="round"/>
<polygon points="681.4,379.9 676.2,383.5 676.2,383.6 678.6,386.9 680.1,386.8 683.2,384.0 682.4,380.7" fill="#303030" stroke="#303030" stroke-width="1.1" stroke-linejoin="round"/>
<polygon points="676.1,348.7 678.2,348.7 681.6,344.3 680.9,342.6 679.4,341.7 674.8,344.1" fill="#7f7f7f" stroke="#7f7f7f" stroke-width="1.1" stroke-linejoin="round"/>
<polygon points="578.1,446.0 577.1,445.3 577.9,440.7 579.6,440.2 580.7,441.0 581.7,444.4 581.1,445.6" fill="#272727" stroke="#272727" stroke-width="1.1" stroke-linejoin="round"/>
<polygon points="625.9,401.7 624.6,408.1 623.3,408.7 617.8,403.7 620.7,399.7 621.3,399.5" fill="#848484" stroke="#848484" stroke-width="1.1" stroke-linejoin="round"/>
<polygon points="644.3,447.5 644.3,447.5 649.5,447.0 650.4,450.6 647.1,453.6 644.3,451.8" fill="#a1a1a1" stroke="#a1a1a1" stroke-width="1.1" stroke-linejoin="round"/>
<polygon points="669.3,386.7 665.7,393.0 668.9,394.7 674.0,392.5 674.9,390.3 671.7,385.9" fill="#7f7f7f" stroke="#7f7f7f" stroke-width="1.1" stroke-linejoin="round"/>
<polygon points="569.2,340.2 570.1,341.6 575.1,341.9 576.8,340.1 576.1,337.2 572.1,336.4" fill="#545454" stroke="#545454" stroke-width="1.1" stroke-linejoin="round"/>
<polygon points="549.0,343.0 549.0,343.0 550.1,339.2 548.3,336.9 544.6,338.9 544.9,341.0" fill="#7b7b7b" stroke="#7b7b7b" stroke-width="1.1" stroke-linejoin="round"/>
<polygon points="674.3,430.1 679.1,425.1 683.4,428.2 681.6,434.5 674.6,430.8" fill="#808080" stroke="#808080" stroke-width="1.1" stroke-linejoin="round"/>
<polygon points="598.5,364.7 594.8,362.7 591.9,363.2 591.2,364.1 592.3,368.4 595.6,370.0 599.4,368.4" fill="#6b6b6b" stroke="#6b6b6b" stroke-width="1.1" stroke-linejoin="round"/>
<polygon points="640.9,357.6 638.9,354.8 636.5,355.8 636.6,359.6 638.9,361.2 639.3,361.0" fill="#606060" stroke="#606060" stroke-width="1.1" stroke-linejoin="round"/>
<polygon points="582.4,389.6 581.3,385.8 581.5,385.3 586.1,383.0 588.3,384.7 588.8,386.1 585.4,390.3" fill="#858585" stroke="#858585" stroke-width="1.1" stroke-linejoin="round"/>
<polygon points="519.8,384.0 517.8,385.6 515.6,384.9 515.1,384.1 517.4,381.5 518.6,381.4" fill="#757575" stroke="#757575" stroke-width="1.1" stroke-linejoin="round"/>
<polygon points="614.8,446.9 611.5,443.9 608.8,445.0 607.5,448.0 609.9,450.8 613.5,449.3" fill="#6f6f6f" stroke="#6f6f6f" stroke-width="1.1" stroke-linejoin="round"/>
<polygon points="568.0,459.9 566.5,457.3 563.0,456.5 561.3,457.7 561.1,458.9 564.2,462.7 564.4,462.7" fill="#686868" stroke="#686868" stroke-width="1.1" stroke-linejoin="round"/>
<polygon points="684.7,345.8 692.9,350.1 683.8,354.5 680.6,351.2" fill="#8c8c8c" stroke="#8c8c8c" stroke-width="1.1" stroke-linejoin="round"/>
<polygon points="567.6,446.8 565.8,449.3 569.0,451.9 571.4,451.4 572.0,447.1 571.2,446.5" fill="#575757" stroke="#575757" stroke-width="1.1" stroke-linejoin="round"/>
<polygon points="513.5,339.5 513.6,339.9 512.0,343.1 511.5,343.2 510.3,342.6 510.1,338.8 510.4,338.4" fill="#808080" stroke="#808080" stroke-width="1.1" stroke-linejoin="round"/>
<polygon points="536.5,449.6 537.6,455.2 538.7,455.8 541.7,453.2 540.5,449.8 538.5,448.8" fill="#585858" stroke="#585858" stroke-width="1.1" stroke-linejoin="round"/>
<polygon points="518.8,465.2 515.9,463.0 514.4,465.7 515.4,467.8 516.6,468.4 517.9,468.1 518.9,466.1" fill="#797979" stroke="#797979" stroke-width="1.1" stroke-linejoin="round"/>
<polygon points="553.7,417.7 552.6,416.8 553.7,413.4 556.1,413.4 556.4,414.1 554.8,417.7" fill="#242424" stroke="#242424" stroke-width="1.1" stroke-linejoin="round"/>
<polygon points="609.3,369.4 610.4,374.3 615.0,374.2 615.7,373.6 616.1,370.7 614.4,367.7" fill="#959595" stroke="#959595" stroke-width="1.1" stroke-linejoin="round"/>
<polygon points="660.0,424.3 660.1,428.2 654.6,431.8 653.8,431.8 652.0,428.4 654.3,422.8" fill="#909090" stroke="#909090" stroke-width="1.1" stroke-linejoin="round"/>
<polygon points="626.5,365.1 628.2,365.7 629.7,368.8 628.0,371.3 627.5,371.4 625.5,368.7" fill="#303030" stroke="#303030" stroke-width="1.1" stroke-linejoin="round"/>
<polygon points="605.5,340.9 604.0,337.9 599.6,337.2 599.0,337.8 599.0,342.3 601.2,343.4" fill="#1f1f1f" stroke="#1f1f1f" stroke-width="1.1" stroke-linejoin="round"/>
<polygon points="540.8,369.3 539.8,370.2 538.0,369.7 537.6,369.3 537.2,366.2 538.3,364.4 541.3,366.4" fill="#919191" stroke="#919191" stroke-width="1.1" stroke-linejoin="round"/>
<polygon points="568.7,416.8 569.3,415.6 568.0,412.8 566.2,412.5 564.9,415.3 565.9,416.6" fill="#5e5e5e" stroke="#5e5e5e" stroke-width="1.1" stroke-linejoin="round"/>
<polygon points="522.5,433.1 523.7,430.0 521.4,428.5 520.2,429.1 519.8,432.5" fill="#292929" stroke="#292929" stroke-width="1.1" stroke-linejoin="round"/>
<polygon points="599.2,436.1 603.9,433.4 605.6,436.0 604.2,439.7 601.6,439.8" fill="#959595" stroke="#959595" stroke-width="1.1" stroke-linejoin="round"/>
<polygon points="554.0,339.3 555.1,341.6 554.5,342.7 550.9,342.6 551.7,339.9" fill="#828282" stroke="#828282" stroke-width="1.1" stroke-linejoin="round"/>
<polygon points="608.4,338.9 607.2,336.5 609.2,332.8 612.3,336.1 609.4,339.3 609.3,339.3" fill="#7b7b7b" stroke="#7b7b7b" stroke-width="1.1" stroke-linejoin="round"/>
<polygon points="554.8,355.7 556.1,351.5 555.7,350.6 551.0,350.8 550.5,353.5 551.9,355.2" fill="#a3a3a3" stroke="#a3a3a3" stroke-width="1.1" stroke-linejoin="round"/>
<polygon points="674.8,394.8 676.4,400.2 674.3,402.7 670.7,401.6 669.9,396.9" fill="#696969" stroke="#696969" stroke-width="1.1" stroke-linejoin="round"/>
<polygon points="547.1,425.4 546.4,428.0 542.9,428.9 542.7,428.8 542.3,425.4 544.6,422.9 544.7,422.9" fill="#787878" stroke="#787878" stroke-width="1.1" stroke-linejoin="round"/>
<polygon points="583.9,407.1 586.1,408.3 586.6,411.5 584.3,413.2 582.2,411.7 581.8,408.5" fill="#323232" stroke="#323232" stroke-width="1.1" stroke-linejoin="round"/>
<polygon points="605.6,406.7 608.2,409.1 611.8,408.4 613.4,404.6 610.8,402.7 606.2,403.5" fill="#9b9b9b" stroke="#9b9b9b" stroke-width="1.1" stroke-linejoin="round"/>
<polygon points="631.2,416.8 626.5,419.7 624.3,419.3 621.9,415.0 624.4,411.1 625.6,410.6 629.6,411.9" fill="#747474" stroke="#747474" stroke-width="1.1" stroke-linejoin="round"/>
<polygon points="540.9,345.9 539.9,346.0 538.2,349.8 538.3,350.7 541.8,351.0 542.0,350.9 543.0,349.1" fill="#6c6c6c" stroke="#6c6c6c" stroke-width="1.1" stroke-linejoin="round"/>
<polygon points="568.2,395.1 568.5,396.8 566.2,398.1 564.2,397.5 564.0,395.4 566.9,394.1" fill="#2c2c2c" stroke="#2c2c2c" stroke-width="1.1" stroke-linejoin="round"/>
<polygon points="640.9,447.2 640.9,452.0 637.5,453.6 634.1,451.0 634.0,449.5 637.0,446.7" fill="#5b5b5b" stroke="#5b5b5b" stroke-width="1.1" stroke-linejoin="round"/>
<polygon points="538.4,405.5 535.6,408.1 534.7,407.7 533.7,403.7 534.4,403.2" fill="#5e5e5e" stroke="#5e5e5e" stroke-width="1.1" stroke-linejoin="round"/>
<polygon points="681.7,458.3 678.9,457.3 677.1,452.2 679.5,448.9 683.9,450.8 685.8,455.0 684.2,457.4" fill="#b8b8b8" stroke="#b8b8b8" stroke-width="1.1" stroke-linejoin="round"/>
<polygon points="593.0,348.3 588.7,348.3 587.9,347.5 588.8,344.1 591.0,343.3 593.8,345.0" fill="#6e6e6e" stroke="#6e6e6e" stroke-width="1.1" stroke-linejoin="round"/>
<polygon points="608.1,416.0 609.0,416.9 611.2,417.3 614.2,414.5 611.9,411.4 609.1,411.9" fill="#afafaf" stroke="#afafaf" stroke-width="1.1" stroke-linejoin="round"/>
<polygon points="588.7,354.5 588.9,350.4 592.8,350.4 593.5,351.5 592.8,353.6 589.8,355.1" fill="#656565" stroke="#656565" stroke-width="1.1" stroke-linejoin="round"/>
<polygon points="641.9,388.7 640.5,387.8 640.8,384.2 643.7,382.3 646.3,384.0 646.3,385.8" fill="#656565" stroke="#656565" stroke-width="1.1" stroke-linejoin="round"/>
<polygon points="547.0,404.8 551.2,406.1 550.6,409.5 547.2,410.1 546.9,409.7 546.6,405.0" fill="#676767" stroke="#676767" stroke-width="1.1" stroke-linejoin="round"/>
<polygon points="615.9,406.0 614.4,409.4 616.9,412.8 619.4,413.0 621.5,409.6 617.0,405.7" fill="#7f7f7f" stroke="#7f7f7f" stroke-width="1.1" stroke-linejoin="round"/>
<polygon points="527.2,413.1 527.1,412.6 523.8,411.0 522.2,413.1 523.7,415.0 526.0,414.8" fill="#707070" stroke="#707070" stroke-width="1.1" stroke-linejoin="round"/>
<polygon points="532.0,452.3 534.5,450.7 535.2,450.9 535.9,454.5 533.5,454.9 532.0,452.4" fill="#383838" stroke="#383838" stroke-width="1.1" stroke-linejoin="round"/>
<polygon points="594.7,458.6 597.1,455.6 596.8,454.5 594.7,453.9 592.3,455.6 592.1,458.0" fill="#5f5f5f" stroke="#5f5f5f" stroke-width="1.1" stroke-linejoin="round"/>
<polygon points="657.3,402.0 657.6,401.8 660.1,394.4 657.2,391.6 653.2,391.9 648.8,398.2 649.7,400.2" fill="#8c8c8c" stroke="#8c8c8c" stroke-width="1.1" stroke-linejoin="round"/>
<polygon points="581.1,452.4 582.5,450.9 581.2,447.9 578.6,448.2 578.7,452.3 579.3,452.6" fill="#7e7e7e" stroke="#7e7e7e" stroke-width="1.1" stroke-linejoin="round"/>
<polygon points="566.4,349.3 568.4,348.6 570.5,349.9 570.9,351.7 568.5,354.2 565.9,351.2" fill="#393939" stroke="#393939" stroke-width="1.1" stroke-linejoin="round"/>
<polygon points="581.8,368.2 578.5,366.5 578.9,364.3 582.4,363.4 583.7,364.8 582.4,367.9" fill="#727272" stroke="#727272" stroke-width="1.1" stroke-linejoin="round"/>
<polygon points="635.4,434.8 636.8,430.8 640.4,430.8 640.8,435.2 640.7,435.3 635.8,435.5" fill="#393939" stroke="#393939" stroke-width="1.1" stroke-linejoin="round"/>
<polygon points="572.9,376.1 574.3,374.4 573.5,370.2 568.4,371.9 568.6,373.6" fill="#5c5c5c" stroke="#5c5c5c" stroke-width="1.1" stroke-linejoin="round"/>
<polygon points="559.3,359.7 562.3,361.3 564.3,359.8 564.4,358.8 562.2,357.5 559.3,359.3" fill="#858585" stroke="#858585" stroke-width="1.1" stroke-linejoin="round"/>
<polygon points="558.6,446.0 559.7,448.5 556.3,451.4 554.2,450.0 554.7,446.8" fill="#585858" stroke="#585858" stroke-width="1.1" stroke-linejoin="round"/>
<polygon points="523.9,380.0 521.8,379.2 520.7,380.6 521.8,382.9 522.1,383.0 524.7,381.9" fill="#1c1c1c" stroke="#1c1c1c" stroke-width="1.1" stroke-linejoin="round"/>
<polygon points="574.4,346.2 574.3,343.6 570.6,343.4 569.9,346.5 571.8,347.7" fill="#262626" stroke="#262626" stroke-width="1.1" stroke-linejoin="round"/>
<polygon points="531.7,433.2 531.0,434.6 531.4,437.8 534.4,438.8 535.7,435.2 535.5,434.8" fill="#6c6c6c" stroke="#6c6c6c" stroke-width="1.1" stroke-linejoin="round"/>
<polygon points="589.7,376.8 592.6,377.6 593.1,378.4 593.1,378.8 589.8,381.9 588.2,380.7 587.8,378.9" fill="#5b5b5b" stroke="#5b5b5b" stroke-width="1.1" stroke-linejoin="round"/>
<polygon points="570.8,428.2 572.7,430.9 575.9,429.2 575.3,426.7 571.6,425.8" fill="#535353" stroke="#535353" stroke-width="1.1" stroke-linejoin="round"/>
<polygon points="598.2,446.0 600.2,448.7 598.0,451.8 595.4,451.0 594.2,448.2 596.0,445.7" fill="#5d5d5d" stroke="#5d5d5d" stroke-width="1.1" stroke-linejoin="round"/>
<polygon points="569.8,399.0 572.0,400.6 569.5,403.3 568.0,403.1 567.6,400.3" fill="#5d5d5d" stroke="#5d5d5d" stroke-width="1.1" stroke-linejoin="round"/>
<polygon points="651.7,420.5 646.9,419.7 644.2,421.6 644.4,426.7 650.3,427.6 652.5,422.2" fill="#969696" stroke="#969696" stroke-width="1.1" stroke-linejoin="round"/>
<polygon points="656.1,411.8 656.5,412.7 662.4,413.9 664.7,412.3 664.0,406.6 658.6,404.1 658.3,404.2" fill="#b0b0b0" stroke="#b0b0b0" stroke-width="1.1" stroke-linejoin="round"/>
<polygon points="661.4,348.4 655.7,346.8 655.4,344.1 660.2,342.1 662.2,344.9" fill="#868686" stroke="#868686" stroke-width="1.1" stroke-linejoin="round"/>
<polygon points="568.5,339.1 570.9,335.9 569.4,333.2 566.5,334.8 567.5,338.7" fill="#727272" stroke="#727272" stroke-width="1.1" stroke-linejoin="round"/>
<polygon points="613.7,428.0 614.5,424.5 620.2,424.1 619.8,429.2 618.2,430.0 614.9,429.4" fill="#303030" stroke="#303030" stroke-width="1.1" stroke-linejoin="round"/>
<polygon points="526.3,368.9 530.2,369.9 530.7,369.3 530.9,366.4 529.6,364.5 526.5,364.9" fill="#8d8d8d" stroke="#8d8d8d" stroke-width="1.1" stroke-linejoin="round"/>
<polygon points="610.6,464.2 613.7,466.8 610.4,470.8 608.3,469.6 607.7,465.6" fill="#5a5a5a" stroke="#5a5a5a" stroke-width="1.1" stroke-linejoin="round"/>
<polygon points="590.6,422.3 592.4,421.8 593.2,422.3 594.0,426.8 590.6,427.7 589.2,425.9" fill="#5d5d5d" stroke="#5d5d5d" stroke-width="1.1" stroke-linejoin="round"/>
<polygon points="526.8,404.1 523.4,403.4 522.6,404.0 522.9,406.3 523.6,406.9 526.6,405.1" fill="#5d5d5d" stroke="#5d5d5d" stroke-width="1.1" stroke-linejoin="round"/>
<polygon points="600.4,444.4 602.2,446.9 604.8,446.7 606.0,443.9 604.1,441.7 601.9,441.7" fill="#343434" stroke="#343434" stroke-width="1.1" stroke-linejoin="round"/>
<polygon points="525.0,436.1 529.3,434.8 529.7,438.1 528.1,439.3 525.4,439.1 524.9,438.5" fill="#393939" stroke="#393939" stroke-width="1.1" stroke-linejoin="round"/>
<polygon points="562.5,347.7 558.7,348.6 558.4,349.7 558.7,350.5 561.8,351.6 563.5,350.5 563.9,348.8" fill="#5b5b5b" stroke="#5b5b5b" stroke-width="1.1" stroke-linejoin="round"/>
<polygon points="537.5,389.7 536.5,386.6 535.3,386.0 531.1,388.2 533.1,391.9" fill="#686868" stroke="#686868" stroke-width="1.1" stroke-linejoin="round"/>
<polygon points="649.7,341.5 646.3,342.6 645.1,348.0 650.0,350.6 652.7,347.4 652.3,344.1" fill="#868686" stroke="#868686" stroke-width="1.1" stroke-linejoin="round"/>
<polygon points="606.6,369.8 607.6,370.2 608.5,374.3 607.2,375.6 605.3,375.9 603.6,374.2 603.1,370.7" fill="#212121" stroke="#212121" stroke-width="1.1" stroke-linejoin="round"/>
<polygon points="615.9,381.6 618.7,383.4 623.1,379.1 623.1,378.5 617.0,375.4 616.4,375.9" fill="#868686" stroke="#868686" stroke-width="1.1" stroke-linejoin="round"/>
<polygon points="517.1,344.5 515.2,344.8 513.6,343.7 515.0,340.8 517.3,342.2" fill="#808080" stroke="#808080" stroke-width="1.1" stroke-linejoin="round"/>
<polygon points="644.1,410.4 641.7,410.5 638.1,417.4 642.9,419.5 645.4,417.8 644.2,410.4" fill="#a5a5a5" stroke="#a5a5a5" stroke-width="1.1" stroke-linejoin="round"/>
<polygon points="541.0,381.4 537.9,378.9 536.5,379.0 535.1,381.0 536.1,384.2 537.3,384.8 540.9,382.6" fill="#5a5a5a" stroke="#5a5a5a" stroke-width="1.1" stroke-linejoin="round"/>
<polygon points="515.1,335.9 514.0,337.5 511.3,336.5 511.2,335.2 513.4,333.9 514.9,334.7" fill="#545454" stroke="#545454" stroke-width="1.1" stroke-linejoin="round"/>
<polygon points="515.2,452.1 513.4,449.7 512.3,449.6 510.4,452.5 511.9,454.3 514.3,453.6" fill="#5e5e5e" stroke="#5e5e5e" stroke-width="1.1" stroke-linejoin="round"/>
<polygon points="683.5,367.9 683.1,366.6 681.6,365.4 676.3,366.2 675.1,368.3 675.3,370.3 681.4,374.2" fill="#7f7f7f" stroke="#7f7f7f" stroke-width="1.1" stroke-linejoin="round"/>
<polygon points="653.5,412.8 653.8,413.6 651.8,418.0 647.4,417.4 646.2,410.3" fill="#838383" stroke="#838383" stroke-width="1.1" stroke-linejoin="round"/>
<polygon points="609.5,349.4 615.1,348.7 615.9,347.1 614.7,344.9 609.9,343.2 609.7,343.2" fill="#969696" stroke="#969696" stroke-width="1.1" stroke-linejoin="round"/>
<polygon points="607.7,361.6 610.4,360.4 611.9,360.7 614.1,364.0 613.7,366.1 608.9,367.7 607.8,367.1" fill="#7a7a7a" stroke="#7a7a7a" stroke-width="1.1" stroke-linejoin="round"/>
<polygon points="653.3,389.2 656.3,389.0 657.5,383.3 653.1,382.2 650.4,384.0 650.3,386.1" fill="#343434" stroke="#343434" stroke-width="1.1" stroke-linejoin="round"/>
<polygon points="586.2,400.8 590.4,400.4 591.0,401.0 590.0,404.2 587.8,405.0 585.6,403.8 585.6,401.3" fill="#959595" stroke="#959595" stroke-width="1.1" stroke-linejoin="round"/>
<polygon points="579.5,348.8 576.4,346.5 576.3,343.1 578.0,341.4 580.6,342.3 581.6,347.5 580.2,348.7" fill="#282828" stroke="#282828" stroke-width="1.1" stroke-linejoin="round"/>
<polygon points="581.6,436.2 581.3,437.6 582.5,438.5 587.4,437.9 588.0,434.3 588.0,434.3 584.9,433.6" fill="#939393" stroke="#939393" stroke-width="1.1" stroke-linejoin="round"/>
<polygon points="681.5,445.6 685.2,447.1 691.1,441.6 683.7,439.5 681.0,443.8" fill="#787878" stroke="#787878" stroke-width="1.1" stroke-linejoin="round"/>
<polygon points="509.2,397.7 508.4,396.6 509.3,394.7 511.4,395.4 512.1,397.0 511.2,397.8" fill="#6c6c6c" stroke="#6c6c6c" stroke-width="1.1" stroke-linejoin="round"/>
<polygon points="511.3,436.4 511.3,432.6 508.9,432.2 506.8,436.5 509.8,438.0" fill="#646464" stroke="#646464" stroke-width="1.1" stroke-linejoin="round"/>
<polygon points="530.4,449.6 532.8,448.1 531.9,446.1 530.2,445.9 528.9,447.3" fill="#2e2e2e" stroke="#2e2e2e" stroke-width="1.1" stroke-linejoin="round"/>
<polygon points="517.4,373.2 517.3,370.7 515.5,370.5 514.4,371.4 514.2,372.8 515.2,373.8" fill="#707070" stroke="#707070" stroke-width="1.1" stroke-linejoin="round"/>
<polygon points="549.1,391.2 545.9,389.6 545.2,390.5 546.1,393.6 546.7,393.8 549.1,391.4" fill="#737373" stroke="#737373" stroke-width="1.1" stroke-linejoin="round"/>
<polygon points="634.7,405.6 630.3,409.6 626.4,408.3 627.6,402.3 630.9,401.1 634.0,402.9" fill="#707070" stroke="#707070" stroke-width="1.1" stroke-linejoin="round"/>
<polygon points="622.1,439.0 621.4,439.1 619.3,437.6 619.2,432.1 620.9,431.3 624.6,432.8 625.4,434.3" fill="#939393" stroke="#939393" stroke-width="1.1" stroke-linejoin="round"/>
<polygon points="588.8,411.7 592.8,412.9 592.9,412.9 594.0,408.2 591.0,406.2 588.1,407.3" fill="#8b8b8b" stroke="#8b8b8b" stroke-width="1.1" stroke-linejoin="round"/>
<polygon points="671.9,414.9 672.8,417.8 678.1,420.1 679.7,417.6 678.4,412.3 676.3,411.3" fill="#9c9c9c" stroke="#9c9c9c" stroke-width="1.1" stroke-linejoin="round"/>
<polygon points="543.0,341.4 542.6,339.2 541.6,338.3 538.8,338.5 536.7,340.6 536.5,342.0 539.5,343.9 540.7,343.7" fill="#5b5b5b" stroke="#5b5b5b" stroke-width="1.1" stroke-linejoin="round"/>
<polygon points="536.7,427.0 539.0,429.1 541.0,428.7 540.7,425.7 538.7,425.2" fill="#636363" stroke="#636363" stroke-width="1.1" stroke-linejoin="round"/>
<polygon points="666.9,451.5 665.4,453.4 660.6,452.5 660.2,451.9 661.5,446.9 665.5,446.5" fill="#232323" stroke="#232323" stroke-width="1.1" stroke-linejoin="round"/>
<polygon points="524.5,340.1 526.8,340.3 527.6,339.7 527.8,338.6 526.3,336.5 524.2,336.8 523.4,338.1 523.4,339.0" fill="#686868" stroke="#686868" stroke-width="1.1" stroke-linejoin="round"/>
<polygon points="643.0,372.8 640.5,372.0 638.8,368.8 640.0,364.9 640.5,364.7 647.0,366.5 646.6,370.5" fill="#272727" stroke="#272727" stroke-width="1.1" stroke-linejoin="round"/>
<polygon points="545.6,460.6 545.4,459.7 546.6,457.3 548.4,457.3 549.7,458.9 548.4,460.6" fill="#656565" stroke="#656565" stroke-width="1.1" stroke-linejoin="round"/>
<polygon points="604.5,386.5 602.3,389.3 602.4,391.0 605.5,392.2 608.7,391.2 607.6,387.6" fill="#909090" stroke="#909090" stroke-width="1.1" stroke-linejoin="round"/>
<polygon points="523.1,391.9 520.0,395.1 519.2,395.1 517.7,392.0 519.0,389.8 522.3,390.2" fill="#5f5f5f" stroke="#5f5f5f" stroke-width="1.1" stroke-linejoin="round"/>
<polygon points="511.4,419.5 511.6,420.1 510.5,423.2 509.5,423.4 505.1,420.4 510.1,418.5" fill="#2d2d2d" stroke="#2d2d2d" stroke-width="1.1" stroke-linejoin="round"/>
<polygon points="550.5,467.8 551.6,468.2 552.4,470.5 552.0,471.1 549.1,471.6 548.2,470.5 548.4,468.9" fill="#2d2d2d" stroke="#2d2d2d" stroke-width="1.1" stroke-linejoin="round"/>
<polygon points="631.4,347.7 631.8,345.8 635.5,344.6 638.6,349.6 637.8,351.0 634.8,352.2 633.8,351.9" fill="#707070" stroke="#707070" stroke-width="1.1" stroke-linejoin="round"/>
<polygon points="594.3,444.6 592.6,447.1 590.0,446.9 589.0,444.7 590.4,442.0 592.9,442.4" fill="#626262" stroke="#626262" stroke-width="1.1" stroke-linejoin="round"/>
<polygon points="629.7,398.3 626.7,399.4 622.8,397.5 624.6,392.3 625.8,392.0 629.6,395.2" fill="#a5a5a5" stroke="#a5a5a5" stroke-width="1.1" stroke-linejoin="round"/>
<polygon points="543.2,461.7 542.9,460.4 539.0,457.6 537.7,462.0 538.1,463.1 543.0,462.1" fill="#6b6b6b" stroke="#6b6b6b" stroke-width="1.1" stroke-linejoin="round"/>
<polygon points="556.8,462.0 559.9,459.8 563.1,463.7 560.8,466.2 556.8,463.8" fill="#6f6f6f" stroke="#6f6f6f" stroke-width="1.1" stroke-linejoin="round"/>
<polygon points="554.7,386.2 553.9,386.2 551.6,383.0 551.7,381.9 553.1,380.6 556.4,381.1 556.6,381.3 556.5,384.7" fill="#4d4d4d" stroke="#4d4d4d" stroke-width="1.1" stroke-linejoin="round"/>
<polygon points="616.3,445.3 613.0,442.3 613.8,439.6 618.0,439.4 619.8,440.8 617.2,445.0" fill="#787878" stroke="#787878" stroke-width="1.1" stroke-linejoin="round"/>
<polygon points="606.7,430.7 611.4,430.3 612.4,431.4 611.0,435.4 607.7,434.6 606.3,432.5" fill="#282828" stroke="#282828" stroke-width="1.1" stroke-linejoin="round"/>
<polygon points="604.8,400.8 606.2,394.9 610.4,393.6 610.6,393.7 610.7,401.1 605.6,402.0" fill="#696969" stroke="#696969" stroke-width="1.1" stroke-linejoin="round"/>
<polygon points="585.9,458.0 588.3,458.1 588.7,457.8 588.9,455.3 586.7,453.2 585.2,453.3 583.8,454.8" fill="#7b7b7b" stroke="#7b7b7b" stroke-width="1.1" stroke-linejoin="round"/>
<polygon points="605.2,466.1 603.2,465.4 600.6,466.7 601.0,469.7 602.6,470.9 605.7,469.8" fill="#a0a0a0" stroke="#a0a0a0" stroke-width="1.1" stroke-linejoin="round"/>
<polygon points="536.1,447.6 535.3,447.4 534.1,444.9 535.7,442.3 536.9,442.7 538.3,444.9 537.6,447.0" fill="#585858" stroke="#585858" stroke-width="1.1" stroke-linejoin="round"/>
<polygon points="516.1,426.2 517.7,422.8 521.1,423.6 520.5,426.5 519.2,427.1" fill="#696969" stroke="#696969" stroke-width="1.1" stroke-linejoin="round"/>
<polygon points="630.5,437.5 627.0,436.4 624.6,439.8 627.5,442.1 630.8,438.9 630.9,438.3" fill="#353535" stroke="#353535" stroke-width="1.1" stroke-linejoin="round"/>
<polygon points="532.6,401.1 531.9,401.7 529.2,402.1 527.8,397.8 528.6,396.6 531.7,396.2 531.9,396.5 532.7,401.0" fill="#5b5b5b" stroke="#5b5b5b" stroke-width="1.1" stroke-linejoin="round"/>
<polygon points="547.5,368.3 546.1,370.3 542.1,369.7 542.7,366.4 545.8,365.1" fill="#616161" stroke="#616161" stroke-width="1.1" stroke-linejoin="round"/>
<polygon points="662.0,424.5 662.1,428.1 664.8,430.2 669.7,428.9 667.5,424.1 663.2,423.6" fill="#313131" stroke="#313131" stroke-width="1.1" stroke-linejoin="round"/>
<polygon points="675.9,353.9 678.2,353.9 681.0,356.8 680.7,360.9 675.9,361.6 674.4,358.8 675.8,354.0" fill="#7a7a7a" stroke="#7a7a7a" stroke-width="1.1" stroke-linejoin="round"/>
<polygon points="555.7,349.2 550.8,349.4 549.6,347.8 550.1,344.8 550.2,344.7 555.1,344.8 556.1,347.8" fill="#7c7c7c" stroke="#7c7c7c" stroke-width="1.1" stroke-linejoin="round"/>
<polygon points="634.5,376.3 629.8,373.8 632.3,370.1 636.6,369.9 638.3,373.1" fill="#848484" stroke="#848484" stroke-width="1.1" stroke-linejoin="round"/>
<polygon points="620.1,455.9 619.8,457.2 621.3,459.6 622.7,459.5 625.1,456.0 622.9,454.2" fill="#6c6c6c" stroke="#6c6c6c" stroke-width="1.1" stroke-linejoin="round"/>
<polygon points="526.5,363.0 529.1,362.6 529.9,361.0 528.6,359.1 525.5,359.4 526.3,362.9" fill="#656565" stroke="#656565" stroke-width="1.1" stroke-linejoin="round"/>
<polygon points="518.7,365.4 518.7,365.3 515.3,365.2 514.8,366.0 515.6,368.3 517.7,368.5 518.5,367.8" fill="#525252" stroke="#525252" stroke-width="1.1" stroke-linejoin="round"/>
<polygon points="653.7,410.0 648.0,408.1 648.0,408.1 650.2,403.8 655.1,404.9" fill="#343434" stroke="#343434" stroke-width="1.1" stroke-linejoin="round"/>
<polygon points="659.8,402.1 662.0,395.5 664.2,395.2 667.6,397.1 668.5,402.3 664.9,404.4" fill="#262626" stroke="#262626" stroke-width="1.1" stroke-linejoin="round"/>
<polygon points="572.4,470.1 572.4,470.2 575.6,472.4 577.7,470.4 576.0,468.3 573.6,468.6" fill="#373737" stroke="#373737" stroke-width="1.1" stroke-linejoin="round"/>
<polygon points="535.0,355.4 536.2,355.0 538.7,358.7 537.3,360.4 534.9,359.4" fill="#646464" stroke="#646464" stroke-width="1.1" stroke-linejoin="round"/>
<polygon points="678.1,408.0 680.0,408.9 683.8,407.5 684.6,404.4 682.6,402.4 679.2,402.6 677.2,404.9" fill="#aaaaaa" stroke="#aaaaaa" stroke-width="1.1" stroke-linejoin="round"/>
<polygon points="547.0,347.1 544.4,347.9 542.7,345.1 544.4,343.4 547.4,344.8" fill="#6e6e6e" stroke="#6e6e6e" stroke-width="1.1" stroke-linejoin="round"/>
<polygon points="523.0,440.1 523.4,440.7 522.8,443.6 519.6,444.7 518.4,443.9 517.9,442.8 518.8,440.4" fill="#5e5e5e" stroke="#5e5e5e" stroke-width="1.1" stroke-linejoin="round"/>
<polygon points="581.3,401.3 581.3,403.5 579.4,404.8 578.0,404.5 576.3,401.0 578.5,399.6" fill="#363636" stroke="#363636" stroke-width="1.1" stroke-linejoin="round"/>
<polygon points="532.5,471.0 532.5,471.1 538.5,469.8 538.6,469.7 536.9,465.5 531.7,466.9" fill="#525252" stroke="#525252" stroke-width="1.1" stroke-linejoin="round"/>
<polygon points="541.2,395.4 544.2,394.3 543.2,391.0 540.3,391.4 540.6,394.7" fill="#646464" stroke="#646464" stroke-width="1.1" stroke-linejoin="round"/>
<polygon points="677.2,441.9 680.3,437.0 680.1,436.5 673.7,433.1 671.6,439.8" fill="#818181" stroke="#818181" stroke-width="1.1" stroke-linejoin="round"/>
<polygon points="642.2,454.4 645.6,456.6 646.5,460.1 645.4,461.8 641.2,463.2 637.7,459.7 638.5,456.1" fill="#969696" stroke="#969696" stroke-width="1.1" stroke-linejoin="round"/>
<polygon points="565.1,442.7 566.6,446.2 565.0,448.5 563.5,448.8 561.7,447.8 560.5,444.9 560.8,444.0 562.7,442.6" fill="#343434" stroke="#343434" stroke-width="1.1" stroke-linejoin="round"/>
<polygon points="523.8,452.7 523.0,451.4 526.1,448.2 526.7,448.2 528.8,451.3 528.8,451.5 525.7,453.3" fill="#303030" stroke="#303030" stroke-width="1.1" stroke-linejoin="round"/>
<polygon points="577.4,396.7 574.2,398.9 574.0,398.8 571.1,396.7 570.8,394.4 574.3,392.1 577.5,393.7" fill="#696969" stroke="#696969" stroke-width="1.1" stroke-linejoin="round"/>
<polygon points="606.6,359.3 609.3,358.0 607.7,351.9 603.2,352.3 603.0,352.5 602.6,356.1 604.1,358.7" fill="#797979" stroke="#797979" stroke-width="1.1" stroke-linejoin="round"/>
<polygon points="518.7,403.7 520.6,404.2 521.0,406.8 518.4,407.5 517.3,406.8" fill="#2b2b2b" stroke="#2b2b2b" stroke-width="1.1" stroke-linejoin="round"/>
<polygon points="596.4,338.2 592.6,338.4 592.4,341.5 594.6,342.9 596.4,342.0" fill="#999999" stroke="#999999" stroke-width="1.1" stroke-linejoin="round"/>
<polygon points="604.1,427.1 606.8,419.6 605.5,418.3 602.4,418.2 600.0,421.0 601.6,425.9" fill="#858585" stroke="#858585" stroke-width="1.1" stroke-linejoin="round"/>
<polygon points="659.5,455.2 665.4,456.3 666.3,460.0 663.4,464.1 658.6,463.2 657.0,460.7" fill="#777777" stroke="#777777" stroke-width="1.1" stroke-linejoin="round"/>
<polygon points="620.6,397.2 620.0,397.4 613.7,392.6 619.0,388.6 622.8,391.2" fill="#9e9e9e" stroke="#9e9e9e" stroke-width="1.1" stroke-linejoin="round"/>
<polygon points="618.6,446.3 621.6,441.4 622.4,441.4 626.4,444.6 626.5,445.4 623.0,449.0" fill="#bababa" stroke="#bababa" stroke-width="1.1" stroke-linejoin="round"/>
<polygon points="664.4,416.5 664.1,420.9 667.4,421.3 669.3,418.6 668.7,416.4 666.0,415.5" fill="#868686" stroke="#868686" stroke-width="1.1" stroke-linejoin="round"/>
<polygon points="524.0,353.1 524.7,354.4 528.1,352.9 528.1,352.9 526.3,351.2 524.9,351.4" fill="#575757" stroke="#575757" stroke-width="1.1" stroke-linejoin="round"/>
<polygon points="586.1,346.9 587.0,343.7 584.4,341.3 582.2,342.3 583.1,347.0" fill="#303030" stroke="#303030" stroke-width="1.1" stroke-linejoin="round"/>
<polygon points="513.4,356.2 511.4,355.2 510.8,353.0 511.1,352.1 513.6,351.5 516.3,353.3 516.1,354.2" fill="#5c5c5c" stroke="#5c5c5c" stroke-width="1.1" stroke-linejoin="round"/>
<polygon points="581.7,358.3 581.8,361.3 578.4,362.2 576.8,359.6 577.5,358.7" fill="#5e5e5e" stroke="#5e5e5e" stroke-width="1.1" stroke-linejoin="round"/>
<polygon points="550.4,462.3 552.0,460.3 552.1,460.3 554.9,462.1 554.9,463.6 552.8,465.5 551.5,465.1" fill="#8b8b8b" stroke="#8b8b8b" stroke-width="1.1" stroke-linejoin="round"/>
<polygon points="600.6,349.8 600.4,349.9 596.2,349.6 595.5,348.6 596.1,345.8 597.9,344.9 599.9,345.8" fill="#828282" stroke="#828282" stroke-width="1.1" stroke-linejoin="round"/>
<polygon points="637.0,419.4 636.4,419.6 635.7,427.1 636.1,427.6 641.4,427.7 642.3,426.8 642.2,421.6" fill="#858585" stroke="#858585" stroke-width="1.1" stroke-linejoin="round"/>
<polygon points="606.5,427.4 611.1,427.0 611.8,424.1 610.5,421.5 608.1,421.1 606.1,426.8" fill="#7e7e7e" stroke="#7e7e7e" stroke-width="1.1" stroke-linejoin="round"/>
<polygon points="688.6,466.3 685.3,461.5 683.2,462.2 682.4,467.4 685.7,468.7" fill="#282828" stroke="#282828" stroke-width="1.1" stroke-linejoin="round"/>
<polygon points="563.5,386.0 564.7,383.2 565.1,382.9 566.2,383.4 567.2,386.2 566.2,387.3 563.9,386.7" fill="#222222" stroke="#222222" stroke-width="1.1" stroke-linejoin="round"/>
<polygon points="643.7,438.3 643.6,444.8 649.6,444.2 650.6,442.7 649.3,438.3 643.9,438.1" fill="#1d1d1d" stroke="#1d1d1d" stroke-width="1.1" stroke-linejoin="round"/>
<polygon points="561.0,468.6 558.4,471.3 561.4,475.1 562.9,471.6" fill="#666666" stroke="#666666" stroke-width="1.1" stroke-linejoin="round"/>
<polygon points="655.0,435.7 658.1,438.1 657.2,441.2 653.9,441.1 652.9,437.9 654.5,435.6" fill="#2e2e2e" stroke="#2e2e2e" stroke-width="1.1" stroke-linejoin="round"/>
<polygon points="530.2,386.6 530.6,386.7 534.3,384.7 533.3,381.6 530.8,381.3 528.8,383.3 529.3,385.6" fill="#5b5b5b" stroke="#5b5b5b" stroke-width="1.1" stroke-linejoin="round"/>
<polygon points="577.2,447.5 575.9,446.6 572.9,447.2 572.3,451.5 574.9,453.6 577.2,453.5" fill="#5f5f5f" stroke="#5f5f5f" stroke-width="1.1" stroke-linejoin="round"/>
<polygon points="646.7,401.2 646.0,399.6 642.2,397.6 637.3,402.1 638.0,404.5 641.7,406.8 643.9,406.7" fill="#383838" stroke="#383838" stroke-width="1.1" stroke-linejoin="round"/>
<polygon points="525.1,355.9 524.8,357.6 525.3,358.1 528.5,357.8 529.3,354.3 529.1,354.2" fill="#707070" stroke="#707070" stroke-width="1.1" stroke-linejoin="round"/>
<polygon points="529.4,337.6 531.8,336.6 532.2,334.6 531.7,333.9 528.6,334.0 527.7,335.3" fill="#505050" stroke="#505050" stroke-width="1.1" stroke-linejoin="round"/>
<polygon points="593.3,440.0 590.8,439.6 589.8,438.2 590.3,434.8 595.0,435.3 595.8,436.2" fill="#a2a2a2" stroke="#a2a2a2" stroke-width="1.1" stroke-linejoin="round"/>
<polygon points="575.6,414.3 576.1,414.6 580.2,412.4 579.6,407.8 577.3,407.4 573.9,409.4" fill="#5c5c5c" stroke="#5c5c5c" stroke-width="1.1" stroke-linejoin="round"/>
<polygon points="665.7,352.8 665.0,356.3 665.5,356.9 670.8,357.6 672.1,353.1" fill="#2b2b2b" stroke="#2b2b2b" stroke-width="1.1" stroke-linejoin="round"/>
<polygon points="600.2,371.2 600.7,374.7 596.2,376.4 595.6,375.5 596.5,371.8 599.3,370.6" fill="#515151" stroke="#515151" stroke-width="1.1" stroke-linejoin="round"/>
<polygon points="598.2,463.4 598.9,463.7 601.8,462.3 601.6,458.4 599.2,456.8 596.4,460.4" fill="#848484" stroke="#848484" stroke-width="1.1" stroke-linejoin="round"/>
<polygon points="644.4,435.2 648.9,435.2 650.6,432.7 649.2,430.2 644.7,429.6 644.0,430.3" fill="#9d9d9d" stroke="#9d9d9d" stroke-width="1.1" stroke-linejoin="round"/>
<polygon points="538.6,422.0 540.0,419.6 540.9,419.4 543.0,422.0 541.1,424.1 539.2,423.5" fill="#696969" stroke="#696969" stroke-width="1.1" stroke-linejoin="round"/>
<polygon points="560.9,436.2 558.0,437.2 557.0,439.1 559.7,442.4 561.6,441.1" fill="#5c5c5c" stroke="#5c5c5c" stroke-width="1.1" stroke-linejoin="round"/>
<polygon points="579.0,461.6 581.9,462.2 584.5,459.5 581.7,455.3 579.2,455.6 578.7,461.3" fill="#6f6f6f" stroke="#6f6f6f" stroke-width="1.1" stroke-linejoin="round"/>
<polygon points="515.3,460.4 513.7,459.6 512.8,456.9 512.9,456.8 514.9,456.3 516.7,458.4" fill="#575757" stroke="#575757" stroke-width="1.1" stroke-linejoin="round"/>
<polygon points="569.7,362.0 567.5,360.1 567.6,359.0 569.0,357.6 572.6,359.4 569.8,362.0" fill="#646464" stroke="#646464" stroke-width="1.1" stroke-linejoin="round"/>
<polygon points="584.2,398.6 585.4,393.2 584.9,392.4 582.1,391.8 579.7,393.8 579.6,396.8 583.5,399.2" fill="#747474" stroke="#747474" stroke-width="1.1" stroke-linejoin="round"/>
<polygon points="570.5,363.6 574.4,367.5 576.1,366.7 576.8,363.6 574.7,360.1 574.3,360.1" fill="#787878" stroke="#787878" stroke-width="1.1" stroke-linejoin="round"/>
<polygon points="611.9,383.6 610.1,386.6 611.5,391.2 611.7,391.2 612.7,391.2 618.0,387.2 617.7,384.9 614.9,383.1" fill="#777777" stroke="#777777" stroke-width="1.1" stroke-linejoin="round"/>
<polygon points="618.0,370.8 623.2,369.6 626.5,374.1 624.0,377.3 617.5,374.0" fill="#878787" stroke="#878787" stroke-width="1.1" stroke-linejoin="round"/>
<polygon points="665.6,406.3 669.7,403.9 674.2,405.2 675.4,409.4 670.3,413.7 666.3,412.3" fill="#969696" stroke="#969696" stroke-width="1.1" stroke-linejoin="round"/>
<polygon points="587.9,392.0 591.2,393.4 592.7,392.2 591.9,388.8 590.1,387.9 587.5,391.2" fill="#686868" stroke="#686868" stroke-width="1.1" stroke-linejoin="round"/>
<polygon points="512.8,427.3 510.8,425.6 510.0,425.8 508.3,428.6 509.5,429.7 511.4,430.0 511.7,429.8" fill="#5c5c5c" stroke="#5c5c5c" stroke-width="1.1" stroke-linejoin="round"/>
<polygon points="516.6,380.3 513.8,383.5 511.6,382.7 511.2,379.6 514.3,378.3" fill="#545454" stroke="#545454" stroke-width="1.1" stroke-linejoin="round"/>
<polygon points="553.5,361.8 554.8,359.9 554.8,359.4 553.9,357.9 551.7,357.5 549.9,359.9 550.0,360.8" fill="#565656" stroke="#565656" stroke-width="1.1" stroke-linejoin="round"/>
<polygon points="566.0,380.0 565.9,377.6 567.8,375.0 572.1,377.5 572.2,379.1 572.1,379.3 567.4,380.7" fill="#393939" stroke="#393939" stroke-width="1.1" stroke-linejoin="round"/>
<polygon points="582.0,421.8 584.3,425.8 587.6,425.5 589.3,421.4 584.7,419.2" fill="#939393" stroke="#939393" stroke-width="1.1" stroke-linejoin="round"/>
<polygon points="511.9,444.1 511.4,444.7 511.4,445.6 512.7,447.3 513.5,447.4 515.5,445.2 515.1,444.4" fill="#2c2c2c" stroke="#2c2c2c" stroke-width="1.1" stroke-linejoin="round"/>
<polygon points="542.3,371.0 541.4,371.8 541.9,373.6 544.7,375.2 545.9,373.6 545.5,371.5" fill="#383838" stroke="#383838" stroke-width="1.1" stroke-linejoin="round"/>
<polygon points="529.9,458.7 530.3,458.5 531.4,456.3 529.7,453.5 526.9,455.2 527.9,458.2" fill="#5f5f5f" stroke="#5f5f5f" stroke-width="1.1" stroke-linejoin="round"/>
<polygon points="519.2,347.7 517.8,346.6 515.3,346.9 514.3,350.3 517.3,352.4 518.1,351.7" fill="#6f6f6f" stroke="#6f6f6f" stroke-width="1.1" stroke-linejoin="round"/>
<polygon points="566.9,405.6 567.4,405.2 569.4,405.4 571.5,408.7 568.4,410.6 566.3,410.3 566.1,409.9" fill="#878787" stroke="#878787" stroke-width="1.1" stroke-linejoin="round"/>
<polygon points="650.7,375.0 648.2,373.4 644.9,375.4 645.5,379.3 648.6,381.3 651.4,379.5" fill="#8d8d8d" stroke="#8d8d8d" stroke-width="1.1" stroke-linejoin="round"/>
<polygon points="614.5,451.5 610.6,453.1 610.4,454.9 612.1,457.7 617.1,456.8 617.5,455.1" fill="#787878" stroke="#787878" stroke-width="1.1" stroke-linejoin="round"/>
<polygon points="680.3,392.6 678.7,392.6 677.9,394.4 679.2,398.9 682.3,398.8 683.4,395.4" fill="#929292" stroke="#929292" stroke-width="1.1" stroke-linejoin="round"/>
<polygon points="561.2,385.2 562.6,382.1 558.6,381.6 558.5,384.6" fill="#a0a0a0" stroke="#a0a0a0" stroke-width="1.1" stroke-linejoin="round"/>
<polygon points="666.6,441.1 663.1,438.4 661.2,439.0 660.1,442.3 661.4,443.7 665.0,443.4" fill="#2d2d2d" stroke="#2d2d2d" stroke-width="1.1" stroke-linejoin="round"/>
<polygon points="520.9,374.4 523.0,372.7 523.0,371.0 520.1,369.8 519.3,370.5 519.4,373.2" fill="#363636" stroke="#363636" stroke-width="1.1" stroke-linejoin="round"/>
<polygon points="562.3,433.3 560.8,430.2 560.9,429.4 563.0,428.9 564.6,430.1 564.3,432.9" fill="#242424" stroke="#242424" stroke-width="1.1" stroke-linejoin="round"/>
<polygon points="580.9,422.4 579.4,422.5 577.0,426.1 577.7,429.1 578.1,429.2 582.5,428.1 583.2,426.5" fill="#868686" stroke="#868686" stroke-width="1.1" stroke-linejoin="round"/>
<polygon points="616.7,336.1 618.3,338.4 622.0,338.1 621.5,335.0 618.6,334.0" fill="#8b8b8b" stroke="#8b8b8b" stroke-width="1.1" stroke-linejoin="round"/>
<polygon points="614.8,359.3 617.8,356.3 622.0,358.0 622.1,358.1 622.2,360.4 616.6,362.0" fill="#222222" stroke="#222222" stroke-width="1.1" stroke-linejoin="round"/>
<polygon points="649.5,358.0 651.2,355.7 656.8,358.7 654.1,363.2 650.1,363.8" fill="#8b8b8b" stroke="#8b8b8b" stroke-width="1.1" stroke-linejoin="round"/>
<polygon points="561.3,335.8 562.3,340.3 562.6,340.5 566.6,339.5 565.4,334.7 563.8,334.2" fill="#696969" stroke="#696969" stroke-width="1.1" stroke-linejoin="round"/>
<polygon points="609.5,461.6 609.9,458.9 608.3,456.3 603.8,458.2 604.0,462.3 606.4,463.2" fill="#727272" stroke="#727272" stroke-width="1.1" stroke-linejoin="round"/>
<polygon points="557.6,406.5 558.0,408.4 556.6,411.1 553.5,411.0 552.3,409.9 552.9,406.3 554.0,405.7" fill="#656565" stroke="#656565" stroke-width="1.1" stroke-linejoin="round"/>
<polygon points="564.3,371.0 565.5,372.3 565.7,373.8 564.1,376.1 560.4,374.6 560.1,373.6 564.2,370.9" fill="#393939" stroke="#393939" stroke-width="1.1" stroke-linejoin="round"/>
<polygon points="528.2,345.2 528.0,342.0 529.0,341.2 532.5,343.5 531.6,345.5 531.4,345.6" fill="#262626" stroke="#262626" stroke-width="1.1" stroke-linejoin="round"/>
<polygon points="643.4,356.0 641.1,352.8 641.8,351.5 644.2,350.5 648.3,352.6 648.4,354.0 647.0,356.0" fill="#929292" stroke="#929292" stroke-width="1.1" stroke-linejoin="round"/>
<polygon points="630.5,384.9 636.3,388.7 637.7,388.5 638.1,383.7 634.8,381.1 630.5,384.7" fill="#808080" stroke="#808080" stroke-width="1.1" stroke-linejoin="round"/>
<polygon points="559.0,393.7 556.0,396.4 555.9,397.1 560.2,399.7 562.0,398.1 561.7,395.2 559.8,393.6" fill="#353535" stroke="#353535" stroke-width="1.1" stroke-linejoin="round"/>
<polygon points="519.9,377.5 519.8,376.1 518.1,374.8 515.5,375.5 515.2,377.4 517.3,379.2 518.6,379.1" fill="#888888" stroke="#888888" stroke-width="1.1" stroke-linejoin="round"/>
<polygon points="579.9,373.8 575.9,374.0 575.2,370.0 575.5,369.5 577.0,368.8 580.8,370.7" fill="#494949" stroke="#494949" stroke-width="1.1" stroke-linejoin="round"/>
<polygon points="527.0,426.3 527.0,427.7 524.8,428.1 522.6,426.7 523.1,424.2 523.5,423.8 525.0,423.8" fill="#595959" stroke="#595959" stroke-width="1.1" stroke-linejoin="round"/>
<polygon points="654.7,462.6 656.0,464.7 654.0,468.6 651.2,469.2 650.9,469.0 648.6,463.8 649.6,462.3" fill="#848484" stroke="#848484" stroke-width="1.1" stroke-linejoin="round"/>
<polygon points="592.1,360.8 594.3,360.5 595.3,357.6 593.7,355.5 590.8,356.9" fill="#666666" stroke="#666666" stroke-width="1.1" stroke-linejoin="round"/>
<polygon points="659.0,370.8 659.1,370.2 654.5,365.4 650.1,365.9 649.5,366.6 649.1,370.9 652.2,372.9" fill="#adadad" stroke="#adadad" stroke-width="1.1" stroke-linejoin="round"/>
<polygon points="539.3,404.3 534.9,401.8 534.9,401.8 539.7,399.2 541.2,402.9 539.5,404.3" fill="#6d6d6d" stroke="#6d6d6d" stroke-width="1.1" stroke-linejoin="round"/>
<polygon points="672.2,340.6 671.3,336.9 673.0,335.4 677.1,336.6 677.9,338.5 673.1,341.0" fill="#1c1c1c" stroke="#1c1c1c" stroke-width="1.1" stroke-linejoin="round"/>
<polygon points="550.5,445.2 548.0,447.1 548.0,447.3 548.6,448.7 550.4,449.6 551.7,449.2 552.1,446.7" fill="#333333" stroke="#333333" stroke-width="1.1" stroke-linejoin="round"/>
<polygon points="568.9,436.9 571.5,435.9 573.7,438.6 571.0,440.4 568.8,439.5" fill="#393939" stroke="#393939" stroke-width="1.1" stroke-linejoin="round"/>
<polygon points="531.9,420.1 528.7,419.0 527.9,416.3 529.3,414.2 533.2,416.2 533.4,416.6" fill="#616161" stroke="#616161" stroke-width="1.1" stroke-linejoin="round"/>
<polygon points="594.8,391.7 597.9,392.3 599.2,391.3 599.1,389.6 596.5,387.5 594.0,388.2" fill="#7d7d7d" stroke="#7d7d7d" stroke-width="1.1" stroke-linejoin="round"/>
<polygon points="526.3,465.8 525.5,462.0 527.2,460.8 529.4,461.4 529.4,465.3" fill="#5a5a5a" stroke="#5a5a5a" stroke-width="1.1" stroke-linejoin="round"/>
<polygon points="512.6,418.2 516.3,415.3 516.4,414.2 514.1,412.9 510.8,414.5 511.0,417.0" fill="#696969" stroke="#696969" stroke-width="1.1" stroke-linejoin="round"/>
<polygon points="594.9,380.6 596.6,382.6 595.8,385.1 593.4,385.8 591.8,384.9 591.4,383.9" fill="#7c7c7c" stroke="#7c7c7c" stroke-width="1.1" stroke-linejoin="round"/>
<polygon points="617.2,349.9 618.1,354.0 623.9,356.3 624.2,350.3 620.6,347.7 618.2,348.1" fill="#5c5c5c" stroke="#5c5c5c" stroke-width="1.1" stroke-linejoin="round"/>
<polygon points="548.6,382.7 545.4,384.5 543.4,382.7 543.5,381.7 545.5,379.6 548.7,381.6" fill="#7d7d7d" stroke="#7d7d7d" stroke-width="1.1" stroke-linejoin="round"/>
<polygon points="560.8,392.4 562.8,394.0 566.8,392.3 566.3,389.4 562.9,388.5" fill="#5c5c5c" stroke="#5c5c5c" stroke-width="1.1" stroke-linejoin="round"/>
<polygon points="512.5,399.2 513.5,398.2 516.5,398.5 516.7,401.3 512.9,402.8" fill="#787878" stroke="#787878" stroke-width="1.1" stroke-linejoin="round"/>
<polygon points="550.1,389.3 546.7,387.7 546.7,386.5 549.7,384.7 551.6,387.4" fill="#616161" stroke="#616161" stroke-width="1.1" stroke-linejoin="round"/>
<polygon points="686.0,387.2 682.9,390.0 685.8,392.6 694.3,390.8" fill="#333333" stroke="#333333" stroke-width="1.1" stroke-linejoin="round"/>
<polygon points="552.1,424.4 553.5,420.8 554.9,420.7 557.0,421.9 557.4,426.3 553.6,426.4" fill="#565656" stroke="#565656" stroke-width="1.1" stroke-linejoin="round"/>
<polygon points="524.2,433.6 525.3,430.7 527.5,430.2 529.0,431.4 529.2,432.2 528.6,433.5 524.8,434.6" fill="#5d5d5d" stroke="#5d5d5d" stroke-width="1.1" stroke-linejoin="round"/>
<polygon points="602.2,449.6 599.6,453.3 600.0,454.9 603.0,456.9 608.1,454.7 608.3,452.7 605.5,449.3" fill="#626262" stroke="#626262" stroke-width="1.1" stroke-linejoin="round"/>
<polygon points="517.0,434.2 513.3,432.6 513.0,432.8 512.9,436.3 516.3,437.0" fill="#4e4e4e" stroke="#4e4e4e" stroke-width="1.1" stroke-linejoin="round"/>
<polygon points="672.4,467.6 668.9,468.5 667.4,467.7 666.5,465.4 668.6,462.5 671.6,463.5" fill="#a7a7a7" stroke="#a7a7a7" stroke-width="1.1" stroke-linejoin="round"/>
<polygon points="548.9,353.3 549.4,350.5 548.1,349.0 544.8,350.0 543.7,352.0 546.5,353.9" fill="#282828" stroke="#282828" stroke-width="1.1" stroke-linejoin="round"/>
<polygon points="607.1,348.9 607.3,343.5 606.4,343.1 602.7,345.3 603.4,349.3 607.1,349.0" fill="#767676" stroke="#767676" stroke-width="1.1" stroke-linejoin="round"/>
<polygon points="632.1,434.5 627.7,433.1 627.0,431.7 629.3,427.6 633.6,428.7 634.0,429.2" fill="#7b7b7b" stroke="#7b7b7b" stroke-width="1.1" stroke-linejoin="round"/>
<polygon points="535.7,339.7 537.9,337.6 536.1,334.7 533.7,334.7 533.2,337.0" fill="#7c7c7c" stroke="#7c7c7c" stroke-width="1.1" stroke-linejoin="round"/>
<polygon points="652.5,452.8 656.5,454.2 656.8,454.7 654.8,459.1 649.9,458.8 649.1,455.9" fill="#9b9b9b" stroke="#9b9b9b" stroke-width="1.1" stroke-linejoin="round"/>
<polygon points="540.7,405.9 541.8,409.6 545.4,410.0 545.1,404.7 542.6,404.4" fill="#696969" stroke="#696969" stroke-width="1.1" stroke-linejoin="round"/>
<polygon points="534.4,400.6 533.6,396.2 538.5,396.5 539.1,397.3 539.0,398.1" fill="#797979" stroke="#797979" stroke-width="1.1" stroke-linejoin="round"/>
<polygon points="614.6,422.8 613.1,419.9 616.6,416.6 619.3,416.8 621.5,420.6 619.9,422.4" fill="#6f6f6f" stroke="#6f6f6f" stroke-width="1.1" stroke-linejoin="round"/>
<polygon points="515.0,462.3 513.4,465.3 510.8,464.8 509.8,463.0 512.8,461.1 515.0,462.2" fill="#616161" stroke="#616161" stroke-width="1.1" stroke-linejoin="round"/>
<polygon points="523.9,470.6 521.9,470.6 520.2,468.9 521.0,467.3 524.3,467.7" fill="#6e6e6e" stroke="#6e6e6e" stroke-width="1.1" stroke-linejoin="round"/>
<polygon points="522.5,408.5 522.8,409.8 520.8,412.5 518.7,412.5 518.5,408.7 521.6,407.8" fill="#646464" stroke="#646464" stroke-width="1.1" stroke-linejoin="round"/>
<polygon points="641.1,444.4 641.1,444.3 641.2,438.6 635.4,438.8 635.3,439.5 637.5,443.9" fill="#8f8f8f" stroke="#8f8f8f" stroke-width="1.1" stroke-linejoin="round"/>
<polygon points="640.0,409.6 636.4,416.5 635.8,416.7 633.4,415.9 631.8,411.2 636.2,407.2" fill="#2e2e2e" stroke="#2e2e2e" stroke-width="1.1" stroke-linejoin="round"/>
<polygon points="574.9,440.1 576.0,440.4 575.3,445.0 573.0,445.5 572.3,445.0 572.0,442.0" fill="#797979" stroke="#797979" stroke-width="1.1" stroke-linejoin="round"/>
<polygon points="557.7,392.5 554.9,395.0 552.2,391.5 552.2,391.2 553.9,389.0 554.8,388.9" fill="#808080" stroke="#808080" stroke-width="1.1" stroke-linejoin="round"/>
<polygon points="518.9,400.9 518.7,398.8 519.7,397.8 520.2,397.8 521.9,399.1 521.7,401.2 521.0,401.8 519.4,401.4" fill="#2e2e2e" stroke="#2e2e2e" stroke-width="1.1" stroke-linejoin="round"/>
<polygon points="521.2,359.5 523.3,359.1 523.9,359.6 524.9,363.5 520.6,364.0 520.5,364.0 520.1,361.1" fill="#363636" stroke="#363636" stroke-width="1.1" stroke-linejoin="round"/>
<polygon points="597.2,378.8 598.8,380.7 601.8,380.8 602.9,378.2 601.3,376.7 597.2,378.3" fill="#6f6f6f" stroke="#6f6f6f" stroke-width="1.1" stroke-linejoin="round"/>
<polygon points="530.9,355.4 530.3,358.0 531.4,359.5 532.8,359.0 532.9,355.8" fill="#383838" stroke="#383838" stroke-width="1.1" stroke-linejoin="round"/>
<polygon points="590.9,429.3 590.2,432.9 590.2,432.9 595.4,433.5 595.3,428.8 594.5,428.3" fill="#5c5c5c" stroke="#5c5c5c" stroke-width="1.1" stroke-linejoin="round"/>
<polygon points="559.8,425.3 560.3,425.8 562.2,425.4 563.2,423.3 562.7,422.6 560.1,422.1 559.6,422.4" fill="#272727" stroke="#272727" stroke-width="1.1" stroke-linejoin="round"/>
<polygon points="535.4,415.9 535.3,415.5 537.0,412.5 539.0,412.9 540.6,416.1 540.3,416.9 539.4,417.2" fill="#777777" stroke="#777777" stroke-width="1.1" stroke-linejoin="round"/>
<polygon points="537.2,363.3 537.0,362.4 533.9,361.0 531.7,361.8 530.6,363.7 532.0,365.7 535.9,365.4" fill="#7e7e7e" stroke="#7e7e7e" stroke-width="1.1" stroke-linejoin="round"/>
<polygon points="553.7,427.9 551.8,431.6 551.9,432.2 552.0,432.2 554.5,432.3 557.7,429.6 557.9,428.6 557.2,427.9" fill="#535353" stroke="#535353" stroke-width="1.1" stroke-linejoin="round"/>
<polygon points="540.9,357.7 540.1,357.9 537.4,354.0 538.2,353.0 541.5,353.3 541.1,357.4" fill="#303030" stroke="#303030" stroke-width="1.1" stroke-linejoin="round"/>
<polygon points="546.9,335.4 544.4,336.8 543.7,336.1 543.7,334.3 545.7,332.4 547.1,334.7" fill="#212121" stroke="#212121" stroke-width="1.1" stroke-linejoin="round"/>
<polygon points="636.1,461.5 639.4,464.8 638.4,467.2 636.8,468.2 631.2,466.7 631.2,465.8 633.1,462.6" fill="#1e1e1e" stroke="#1e1e1e" stroke-width="1.1" stroke-linejoin="round"/>
<polygon points="531.7,421.9 531.5,421.5 528.2,420.3 526.0,422.6 528.4,425.7 531.7,422.1" fill="#323232" stroke="#323232" stroke-width="1.1" stroke-linejoin="round"/>
<polygon points="596.1,352.6 595.5,354.4 596.9,356.2 599.7,355.6 600.0,352.9" fill="#202020" stroke="#202020" stroke-width="1.1" stroke-linejoin="round"/>
<polygon points="541.6,449.7 545.4,448.0 546.1,449.8 544.0,452.6 542.6,452.5" fill="#4c4c4c" stroke="#4c4c4c" stroke-width="1.1" stroke-linejoin="round"/>
<polygon points="554.8,366.4 556.8,368.1 557.1,372.4 553.5,372.7 552.2,368.9" fill="#848484" stroke="#848484" stroke-width="1.1" stroke-linejoin="round"/>
<polygon points="570.1,392.9 573.1,390.9 572.5,387.9 569.4,388.0 568.2,389.3 568.6,391.7" fill="#7b7b7b" stroke="#7b7b7b" stroke-width="1.1" stroke-linejoin="round"/>
<polygon points="585.9,417.7 585.8,415.6 588.4,413.6 591.9,414.7 591.5,419.0 589.7,419.6" fill="#393939" stroke="#393939" stroke-width="1.1" stroke-linejoin="round"/>
<polygon points="526.4,370.4 529.3,371.2 529.3,373.2 528.1,374.4 528.1,374.4 525.5,372.7 525.5,371.2" fill="#636363" stroke="#636363" stroke-width="1.1" stroke-linejoin="round"/>
<polygon points="542.9,440.7 542.7,443.3 539.8,444.1 538.3,441.7 541.1,440.1" fill="#6f6f6f" stroke="#6f6f6f" stroke-width="1.1" stroke-linejoin="round"/>
<polygon points="682.6,419.5 681.2,421.6 681.4,422.8 685.0,425.3 686.2,424.9 687.9,421.4 686.1,419.1" fill="#9f9f9f" stroke="#9f9f9f" stroke-width="1.1" stroke-linejoin="round"/>
<polygon points="531.2,394.0 528.4,394.4 527.0,392.3 529.5,389.2 529.9,389.3 531.5,392.4" fill="#282828" stroke="#282828" stroke-width="1.1" stroke-linejoin="round"/>
<polygon points="580.2,375.3 575.8,375.5 574.4,377.4 574.5,379.0 578.5,379.9 581.0,376.9" fill="#848484" stroke="#848484" stroke-width="1.1" stroke-linejoin="round"/>
<polygon points="564.2,345.4 563.7,342.2 566.4,341.6 567.3,341.9 567.9,342.8 567.2,345.8 565.6,346.5" fill="#646464" stroke="#646464" stroke-width="1.1" stroke-linejoin="round"/>
<polygon points="549.8,416.5 547.3,413.8 547.6,412.1 550.8,411.5 551.9,412.6 550.7,416.6" fill="#353535" stroke="#353535" stroke-width="1.1" stroke-linejoin="round"/>
<polygon points="596.1,464.8 590.8,467.2 590.0,466.6 590.3,461.1 590.9,460.7 594.2,461.6" fill="#6d6d6d" stroke="#6d6d6d" stroke-width="1.1" stroke-linejoin="round"/>
<polygon points="536.7,371.0 534.3,374.4 531.4,373.5 531.3,370.8 531.8,370.3 536.3,370.6" fill="#636363" stroke="#636363" stroke-width="1.1" stroke-linejoin="round"/>
<polygon points="648.6,338.8 645.5,339.8 640.8,337.3 640.7,337.1 645.3,330.4 649.0,337.2" fill="#747474" stroke="#747474" stroke-width="1.1" stroke-linejoin="round"/>
<polygon points="537.5,371.8 535.2,374.9 536.4,377.2 537.7,377.1 539.9,374.3 539.3,372.2" fill="#8f8f8f" stroke="#8f8f8f" stroke-width="1.1" stroke-linejoin="round"/>
<polygon points="665.3,365.4 664.7,360.0 670.6,360.8 672.3,363.9 671.1,365.9" fill="#2c2c2c" stroke="#2c2c2c" stroke-width="1.1" stroke-linejoin="round"/>
<polygon points="568.7,424.5 569.0,425.2 568.3,427.3 566.3,427.8 564.7,426.6 565.7,424.3" fill="#646464" stroke="#646464" stroke-width="1.1" stroke-linejoin="round"/>
<polygon points="547.0,403.2 552.0,404.8 553.2,404.1 552.8,399.1 548.7,399.1" fill="#777777" stroke="#777777" stroke-width="1.1" stroke-linejoin="round"/>
<polygon points="656.1,469.9 658.3,465.5 662.9,466.3 664.1,469.4 659.6,473.4" fill="#aaaaaa" stroke="#aaaaaa" stroke-width="1.1" stroke-linejoin="round"/>
<polygon points="607.6,379.2 609.8,382.6 608.4,384.9 605.4,383.9 604.7,382.1 605.9,379.5" fill="#252525" stroke="#252525" stroke-width="1.1" stroke-linejoin="round"/>
<polygon points="516.5,390.5 517.4,389.2 517.0,387.8 515.2,387.2 514.5,389.4 515.2,390.2" fill="#303030" stroke="#303030" stroke-width="1.1" stroke-linejoin="round"/>
<polygon points="518.1,415.7 519.1,417.4 521.3,417.7 522.2,416.2 520.7,414.3 519.0,414.3 518.3,414.8" fill="#797979" stroke="#797979" stroke-width="1.1" stroke-linejoin="round"/>
<polygon points="595.6,426.5 596.4,427.0 600.1,426.0 598.7,421.8 594.8,421.9" fill="#737373" stroke="#737373" stroke-width="1.1" stroke-linejoin="round"/>
<polygon points="556.5,364.0 557.9,362.1 561.1,363.7 561.3,366.0 558.1,366.6 556.5,365.2" fill="#6c6c6c" stroke="#6c6c6c" stroke-width="1.1" stroke-linejoin="round"/>
<polygon points="579.5,350.9 576.4,354.0 576.7,356.8 582.2,356.4 582.3,356.2 580.2,350.8" fill="#737373" stroke="#737373" stroke-width="1.1" stroke-linejoin="round"/>
<polygon points="561.6,414.6 558.8,412.9 558.4,412.1 559.9,409.3 564.3,411.0 564.5,411.4 563.0,414.5" fill="#747474" stroke="#747474" stroke-width="1.1" stroke-linejoin="round"/>
<polygon points="544.5,432.8 546.4,434.1 548.8,432.5 548.7,432.0 546.6,429.9 543.9,430.6" fill="#292929" stroke="#292929" stroke-width="1.1" stroke-linejoin="round"/>
<polygon points="574.5,381.0 574.9,385.0 579.0,384.7 579.2,384.2 578.0,381.5 574.7,380.8" fill="#9a9a9a" stroke="#9a9a9a" stroke-width="1.1" stroke-linejoin="round"/>
<polygon points="618.2,345.9 617.0,343.7 618.3,340.3 622.4,339.9 623.6,341.0 620.3,345.6" fill="#2c2c2c" stroke="#2c2c2c" stroke-width="1.1" stroke-linejoin="round"/>
<polygon points="542.0,433.5 540.2,434.9 538.2,434.2 538.0,433.8 539.5,431.5 541.3,431.2 541.4,431.2" fill="#606060" stroke="#606060" stroke-width="1.1" stroke-linejoin="round"/>
<polygon points="531.0,374.7 529.5,376.2 531.0,379.6 533.6,380.0 535.1,378.0 533.9,375.6" fill="#636363" stroke="#636363" stroke-width="1.1" stroke-linejoin="round"/>
<polygon points="558.9,379.7 558.8,379.4 559.8,376.5 563.1,377.9 563.2,379.8 562.7,380.1" fill="#2e2e2e" stroke="#2e2e2e" stroke-width="1.1" stroke-linejoin="round"/>
<polygon points="675.5,447.0 673.7,449.6 669.9,450.1 668.7,445.9 670.2,443.8 670.6,443.7 675.1,445.4" fill="#797979" stroke="#797979" stroke-width="1.1" stroke-linejoin="round"/>
<polygon points="567.8,363.9 565.5,366.8 565.5,366.8 564.3,365.5 564.1,363.6 565.9,362.3" fill="#212121" stroke="#212121" stroke-width="1.1" stroke-linejoin="round"/>
<polygon points="679.6,376.5 673.7,380.7 672.1,375.9 674.1,372.8 679.6,376.3" fill="#bbbbbb" stroke="#bbbbbb" stroke-width="1.1" stroke-linejoin="round"/>
<polygon points="634.7,419.9 634.1,426.6 629.9,425.5 628.1,421.9 632.4,419.2" fill="#6c6c6c" stroke="#6c6c6c" stroke-width="1.1" stroke-linejoin="round"/>
<polygon points="513.3,386.3 512.4,388.9 509.9,389.0 510.0,385.5 511.1,384.9 512.8,385.5" fill="#7d7d7d" stroke="#7d7d7d" stroke-width="1.1" stroke-linejoin="round"/>
<polygon points="568.7,421.8 565.9,421.7 565.5,421.0 566.0,418.8 568.3,418.9 569.0,420.8" fill="#2b2b2b" stroke="#2b2b2b" stroke-width="1.1" stroke-linejoin="round"/>
<polygon points="557.7,453.7 560.2,455.7 561.8,454.7 562.3,450.7 560.7,449.8 557.4,452.7" fill="#585858" stroke="#585858" stroke-width="1.1" stroke-linejoin="round"/>
<polygon points="610.9,358.0 609.1,351.2 609.2,351.2 615.8,350.3 616.7,354.4 612.6,358.4" fill="#606060" stroke="#606060" stroke-width="1.1" stroke-linejoin="round"/>
<polygon points="582.2,350.7 583.3,349.8 586.0,349.8 586.6,350.4 586.4,354.2 583.9,354.9" fill="#787878" stroke="#787878" stroke-width="1.1" stroke-linejoin="round"/>
<polygon points="618.7,461.5 616.8,464.4 615.6,464.5 612.6,461.9 612.9,459.6 617.1,458.8" fill="#9c9c9c" stroke="#9c9c9c" stroke-width="1.1" stroke-linejoin="round"/>
<polygon points="551.7,433.8 553.3,439.1 555.9,438.7 556.9,436.6 554.5,433.9" fill="#707070" stroke="#707070" stroke-width="1.1" stroke-linejoin="round"/>
<polygon points="613.3,395.1 617.8,398.5 615.7,401.3 614.7,401.6 612.8,400.2 612.6,395.1" fill="#6b6b6b" stroke="#6b6b6b" stroke-width="1.1" stroke-linejoin="round"/>
<polygon points="577.2,460.8 572.5,460.0 572.3,459.8 575.1,455.6 576.9,455.6 577.7,455.9" fill="#767676" stroke="#767676" stroke-width="1.1" stroke-linejoin="round"/>
<polygon points="571.2,420.8 576.1,419.2 575.4,415.7 574.9,415.4 570.9,416.3 570.1,417.8" fill="#808080" stroke="#808080" stroke-width="1.1" stroke-linejoin="round"/>
<polygon points="516.4,438.3 512.4,437.5 510.8,439.2 511.3,441.8 516.0,442.3 517.0,439.6" fill="#909090" stroke="#909090" stroke-width="1.1" stroke-linejoin="round"/>
<polygon points="540.7,336.1 540.7,334.3 538.8,332.9 537.6,334.3 538.8,336.3" fill="#212121" stroke="#212121" stroke-width="1.1" stroke-linejoin="round"/>
<polygon points="629.6,383.8 625.6,379.2 625.6,378.5 628.1,375.4 628.8,375.2 633.9,377.9 634.0,380.0" fill="#bbbbbb" stroke="#bbbbbb" stroke-width="1.1" stroke-linejoin="round"/>
<polygon points="526.4,446.2 524.5,444.0 525.1,440.9 528.0,441.1 529.1,444.3 527.1,446.3" fill="#5a5a5a" stroke="#5a5a5a" stroke-width="1.1" stroke-linejoin="round"/>
<polygon points="553.6,363.9 549.0,362.6 547.3,364.3 547.2,364.6 548.8,367.5 551.2,367.8 553.6,365.4" fill="#272727" stroke="#272727" stroke-width="1.1" stroke-linejoin="round"/>
<polygon points="631.0,451.1 627.5,453.8 627.2,453.8 624.7,451.7 624.6,450.0 627.5,446.9 630.9,449.7" fill="#b7b7b7" stroke="#b7b7b7" stroke-width="1.1" stroke-linejoin="round"/>
<polygon points="610.4,341.3 614.2,337.0 615.0,337.1 616.9,339.6 615.4,343.1" fill="#9d9d9d" stroke="#9d9d9d" stroke-width="1.1" stroke-linejoin="round"/>
<polygon points="556.3,465.3 559.5,467.2 559.5,467.3 557.0,469.8 555.2,469.7 554.4,467.1" fill="#555555" stroke="#555555" stroke-width="1.1" stroke-linejoin="round"/>
<polygon points="526.6,345.2 523.8,345.1 524.2,342.0 526.6,342.2 526.8,345.1" fill="#6b6b6b" stroke="#6b6b6b" stroke-width="1.1" stroke-linejoin="round"/>
<polygon points="606.1,361.5 606.2,367.2 602.1,368.4 601.0,367.7 600.2,364.4 603.6,361.0" fill="#2c2c2c" stroke="#2c2c2c" stroke-width="1.1" stroke-linejoin="round"/>
<polygon points="656.8,415.3 655.1,419.1 655.7,420.4 660.0,421.6 661.0,420.9 661.2,416.2" fill="#292929" stroke="#292929" stroke-width="1.1" stroke-linejoin="round"/>
<polygon points="509.5,461.8 509.1,461.7 508.0,459.6 511.0,457.1 512.0,460.3" fill="#606060" stroke="#606060" stroke-width="1.1" stroke-linejoin="round"/>
<polygon points="576.6,463.1 575.6,465.7 573.3,466.0 572.6,462.2 576.5,462.9" fill="#6d6d6d" stroke="#6d6d6d" stroke-width="1.1" stroke-linejoin="round"/>
<polygon points="509.0,399.4 508.2,401.4 510.2,403.5 511.5,402.9 511.6,402.7 511.3,399.5" fill="#606060" stroke="#606060" stroke-width="1.1" stroke-linejoin="round"/>
<polygon points="543.6,459.2 545.2,456.2 543.8,454.5 542.5,454.4 540.0,456.5 540.0,456.6" fill="#666666" stroke="#666666" stroke-width="1.1" stroke-linejoin="round"/>
<polygon points="630.1,387.3 628.0,390.2 631.1,392.8 634.3,389.9" fill="#4e4e4e" stroke="#4e4e4e" stroke-width="1.1" stroke-linejoin="round"/>
<polygon points="581.9,377.8 579.6,380.7 581.0,383.7 585.2,381.7 584.8,379.3" fill="#919191" stroke="#919191" stroke-width="1.1" stroke-linejoin="round"/>
<polygon points="614.6,431.8 617.7,432.4 617.9,437.4 613.6,437.7 613.0,436.4" fill="#8c8c8c" stroke="#8c8c8c" stroke-width="1.1" stroke-linejoin="round"/>
<polygon points="586.5,338.1 590.3,337.8 590.5,338.0 590.2,341.5 588.2,342.3 585.7,340.0" fill="#969696" stroke="#969696" stroke-width="1.1" stroke-linejoin="round"/>
<polygon points="644.3,342.3 639.3,339.6 637.1,343.4 640.4,348.6 643.2,347.5" fill="#8f8f8f" stroke="#8f8f8f" stroke-width="1.1" stroke-linejoin="round"/>
<polygon points="526.7,467.8 526.6,467.9 526.2,471.1 526.6,471.5 530.7,470.8 530.1,467.7 529.7,467.3" fill="#262626" stroke="#262626" stroke-width="1.1" stroke-linejoin="round"/>
<polygon points="531.1,465.5 531.7,466.0 536.3,464.7 536.6,463.8 536.2,462.7 531.6,460.7 531.1,461.1" fill="#545454" stroke="#545454" stroke-width="1.1" stroke-linejoin="round"/>
<polygon points="513.0,360.0 512.8,360.3 509.1,362.3 508.5,362.1 508.5,358.4 510.3,357.0 512.5,358.1" fill="#949494" stroke="#949494" stroke-width="1.1" stroke-linejoin="round"/>
<polygon points="581.6,374.5 582.8,370.8 583.6,370.4 587.8,372.5 588.5,375.0 585.8,378.1 582.4,376.3" fill="#5a5a5a" stroke="#5a5a5a" stroke-width="1.1" stroke-linejoin="round"/>
<polygon points="553.8,374.3 557.1,374.1 557.6,374.4 558.0,375.5 556.7,379.1 553.3,378.6 553.2,375.1" fill="#7b7b7b" stroke="#7b7b7b" stroke-width="1.1" stroke-linejoin="round"/>
<polygon points="521.4,347.8 524.0,350.5 522.8,352.9 519.3,352.1 520.4,347.9" fill="#5e5e5e" stroke="#5e5e5e" stroke-width="1.1" stroke-linejoin="round"/>
<polygon points="522.4,434.7 519.2,434.0 518.7,434.4 517.8,437.6 518.5,438.9 523.1,438.6 523.2,435.9" fill="#303030" stroke="#303030" stroke-width="1.1" stroke-linejoin="round"/>
<polygon points="544.9,411.3 541.8,410.9 540.5,412.3 541.9,415.3 544.8,413.4 545.1,411.6" fill="#6e6e6e" stroke="#6e6e6e" stroke-width="1.1" stroke-linejoin="round"/>
<polygon points="565.8,434.0 566.3,429.7 569.4,428.9 571.8,432.1 571.3,433.9 567.8,435.2" fill="#646464" stroke="#646464" stroke-width="1.1" stroke-linejoin="round"/>
<polygon points="513.6,375.4 512.6,374.4 511.0,374.8 510.3,377.5 511.0,378.1 513.4,377.0" fill="#343434" stroke="#343434" stroke-width="1.1" stroke-linejoin="round"/>
<polygon points="550.9,425.6 548.6,426.0 548.0,428.2 550.5,430.7 552.2,427.3" fill="#6b6b6b" stroke="#6b6b6b" stroke-width="1.1" stroke-linejoin="round"/>
<polygon points="521.9,461.2 519.8,459.0 518.5,459.1 516.5,461.9 516.6,461.9 519.6,464.2" fill="#595959" stroke="#595959" stroke-width="1.1" stroke-linejoin="round"/>
<polygon points="624.0,338.2 625.3,339.5 626.4,339.6 629.8,335.2 626.2,331.4 623.3,334.5" fill="#838383" stroke="#838383" stroke-width="1.1" stroke-linejoin="round"/>
<polygon points="532.2,423.6 529.8,426.2 529.8,427.5 531.2,428.6 533.6,426.5" fill="#5e5e5e" stroke="#5e5e5e" stroke-width="1.1" stroke-linejoin="round"/>
<polygon points="525.4,383.6 526.4,384.1 526.9,385.9 524.0,386.7 522.8,384.7" fill="#383838" stroke="#383838" stroke-width="1.1" stroke-linejoin="round"/>
<polygon points="543.2,401.7 545.2,402.0 545.5,401.9 546.8,398.8 545.8,397.0 545.0,396.8 542.0,397.8 541.9,398.5" fill="#686868" stroke="#686868" stroke-width="1.1" stroke-linejoin="round"/>
<polygon points="662.2,338.8 662.1,340.2 664.7,343.9 670.2,342.0 669.0,336.8 665.6,335.9" fill="#a6a6a6" stroke="#a6a6a6" stroke-width="1.1" stroke-linejoin="round"/>
<polygon points="513.7,364.2 513.1,361.5 509.9,363.2 511.2,365.1 513.2,365.0" fill="#474747" stroke="#474747" stroke-width="1.1" stroke-linejoin="round"/>
<polygon points="558.0,420.1 558.7,419.7 560.8,415.9 558.0,414.2 555.9,419.0" fill="#212121" stroke="#212121" stroke-width="1.1" stroke-linejoin="round"/>
<polygon points="550.5,423.7 548.3,424.1 546.3,421.9 549.6,419.4 550.4,419.5 551.7,420.5" fill="#5e5e5e" stroke="#5e5e5e" stroke-width="1.1" stroke-linejoin="round"/>
<polygon points="521.3,345.2 522.2,344.5 522.5,342.1 521.6,341.2 519.9,342.5 519.7,344.5 520.6,345.2" fill="#272727" stroke="#272727" stroke-width="1.1" stroke-linejoin="round"/>
<polygon points="568.1,441.7 570.0,442.5 570.2,444.8 568.0,445.0 567.1,442.7" fill="#252525" stroke="#252525" stroke-width="1.1" stroke-linejoin="round"/>
<polygon points="542.8,445.1 540.6,445.7 540.1,447.5 541.3,448.1 544.2,446.8 544.2,446.7" fill="#333333" stroke="#333333" stroke-width="1.1" stroke-linejoin="round"/>
<polygon points="533.9,441.2 533.6,440.7 530.9,439.7 529.3,440.9 530.3,443.7 532.4,443.9" fill="#343434" stroke="#343434" stroke-width="1.1" stroke-linejoin="round"/>
<polygon points="514.9,425.0 516.1,422.4 515.9,422.0 513.5,421.1 512.6,423.5 514.5,425.1" fill="#292929" stroke="#292929" stroke-width="1.1" stroke-linejoin="round"/>
<polygon points="663.9,350.0 665.0,345.2 670.8,343.2 672.1,343.9 674.0,350.8 673.8,351.0 664.1,350.5" fill="#8b8b8b" stroke="#8b8b8b" stroke-width="1.1" stroke-linejoin="round"/>
<polygon points="525.0,421.4 523.4,421.4 522.8,418.7 523.9,417.1 526.2,416.9 526.9,419.4" fill="#5b5b5b" stroke="#5b5b5b" stroke-width="1.1" stroke-linejoin="round"/>
<polygon points="551.9,457.8 555.5,454.3 555.2,453.2 552.9,451.6 551.1,452.2 550.1,455.7 551.8,457.8" fill="#2d2d2d" stroke="#2d2d2d" stroke-width="1.1" stroke-linejoin="round"/>
<polygon points="542.8,463.8 539.0,464.6 538.8,465.3 540.0,468.3 540.4,468.3 543.0,465.7" fill="#2a2a2a" stroke="#2a2a2a" stroke-width="1.1" stroke-linejoin="round"/>
<polygon points="509.1,452.2 511.5,448.7 509.6,446.1 507.0,448.7 508.6,452.1" fill="#6f6f6f" stroke="#6f6f6f" stroke-width="1.1" stroke-linejoin="round"/>
<polygon points="590.5,373.9 593.3,374.7 594.1,371.4 592.0,370.3 590.0,372.3" fill="#6a6a6a" stroke="#6a6a6a" stroke-width="1.1" stroke-linejoin="round"/>
<polygon points="522.1,335.4 520.1,331.2 516.9,334.2 517.1,335.8 521.2,337.0" fill="#686868" stroke="#686868" stroke-width="1.1" stroke-linejoin="round"/>
<polygon points="647.7,396.3 651.2,391.2 648.1,388.1 643.1,391.4 644.1,394.3" fill="#a8a8a8" stroke="#a8a8a8" stroke-width="1.1" stroke-linejoin="round"/>
<polygon points="616.8,447.6 615.3,450.5 618.6,454.5 622.6,452.1 622.4,450.1 617.9,447.3" fill="#9d9d9d" stroke="#9d9d9d" stroke-width="1.1" stroke-linejoin="round"/>
<polygon points="573.6,401.8 571.0,404.7 572.7,407.3 573.2,407.4 575.7,405.9 573.8,401.8" fill="#616161" stroke="#616161" stroke-width="1.1" stroke-linejoin="round"/>
<polygon points="570.8,459.4 574.1,454.5 571.6,452.5 569.3,453.0 567.9,456.5 569.5,459.2" fill="#5e5e5e" stroke="#5e5e5e" stroke-width="1.1" stroke-linejoin="round"/>
<polygon points="553.5,440.2 551.8,442.4 551.8,442.9 554.1,445.2 558.6,444.3 558.9,443.3 556.1,439.8" fill="#777777" stroke="#777777" stroke-width="1.1" stroke-linejoin="round"/>
<polygon points="517.8,395.5 516.4,392.8 514.5,392.4 513.0,394.7 513.7,396.6 516.5,396.8" fill="#747474" stroke="#747474" stroke-width="1.1" stroke-linejoin="round"/>
<polygon points="626.0,422.5 623.8,422.1 622.0,424.1 621.6,429.5 625.4,431.0 627.9,426.6" fill="#666666" stroke="#666666" stroke-width="1.1" stroke-linejoin="round"/>
<polygon points="528.0,346.9 527.6,349.6 529.7,351.4 531.0,347.2 528.1,346.8" fill="#535353" stroke="#535353" stroke-width="1.1" stroke-linejoin="round"/>
<polygon points="513.1,349.6 510.9,350.1 510.6,349.4 511.8,345.9 512.2,345.9 513.9,347.0" fill="#5c5c5c" stroke="#5c5c5c" stroke-width="1.1" stroke-linejoin="round"/>
<polygon points="530.6,339.2 532.3,338.5 533.9,340.2 533.8,341.1 532.8,341.7 530.4,340.1" fill="#313131" stroke="#313131" stroke-width="1.1" stroke-linejoin="round"/>
<polygon points="539.5,406.7 536.7,409.2 537.5,410.7 539.3,411.0 540.6,409.7 539.6,406.7" fill="#2d2d2d" stroke="#2d2d2d" stroke-width="1.1" stroke-linejoin="round"/>
<polygon points="670.3,431.0 671.3,431.4 671.6,432.2 669.3,439.3 668.8,439.5 664.5,436.1 665.4,432.3" fill="#6f6f6f" stroke="#6f6f6f" stroke-width="1.1" stroke-linejoin="round"/>
<polygon points="539.0,345.1 535.6,343.0 534.0,343.9 532.9,346.3 536.9,349.7" fill="#606060" stroke="#606060" stroke-width="1.1" stroke-linejoin="round"/>
<polygon points="524.4,460.7 522.8,460.6 520.6,458.2 523.0,454.3 525.2,455.1 526.5,459.3" fill="#686868" stroke="#686868" stroke-width="1.1" stroke-linejoin="round"/>
<polygon points="578.1,391.8 575.2,390.4 574.6,387.4 574.9,387.0 579.3,386.7 580.2,389.9" fill="#727272" stroke="#727272" stroke-width="1.1" stroke-linejoin="round"/>
<polygon points="536.6,461.8 532.0,459.8 533.3,457.0 536.9,456.4 538.0,457.0 538.0,457.1" fill="#676767" stroke="#676767" stroke-width="1.1" stroke-linejoin="round"/>
<polygon points="525.4,393.2 527.1,395.6 526.3,396.9 523.4,397.6 520.9,395.8 523.8,392.8" fill="#666666" stroke="#666666" stroke-width="1.1" stroke-linejoin="round"/>
<polygon points="521.9,450.7 520.8,450.1 519.8,446.1 523.4,444.9 525.4,447.1" fill="#575757" stroke="#575757" stroke-width="1.1" stroke-linejoin="round"/>
<polygon points="573.5,357.4 573.7,357.3 574.3,356.5 574.1,354.5 572.1,353.2 570.1,355.2 570.1,355.7" fill="#747474" stroke="#747474" stroke-width="1.1" stroke-linejoin="round"/>
<polygon points="583.5,463.3 584.8,466.4 587.9,466.2 588.2,461.3 585.6,461.1" fill="#868686" stroke="#868686" stroke-width="1.1" stroke-linejoin="round"/>
<polygon points="534.0,409.3 530.4,410.8 529.6,412.3 529.7,412.9 534.0,415.0 536.0,411.7 535.0,409.7" fill="#606060" stroke="#606060" stroke-width="1.1" stroke-linejoin="round"/>
<polygon points="560.8,404.5 565.8,405.3 565.0,409.8 560.2,407.9 559.7,405.9" fill="#575757" stroke="#575757" stroke-width="1.1" stroke-linejoin="round"/>
<polygon points="597.6,386.0 600.5,388.2 603.0,385.0 602.2,382.9 598.5,382.9" fill="#5b5b5b" stroke="#5b5b5b" stroke-width="1.1" stroke-linejoin="round"/>
<polygon points="545.5,463.2 548.5,463.1 549.5,465.7 547.3,467.0 545.5,465.5 545.3,463.5" fill="#4d4d4d" stroke="#4d4d4d" stroke-width="1.1" stroke-linejoin="round"/>
<polygon points="545.6,364.1 542.2,365.5 538.6,363.1 538.5,362.1 540.4,359.8 541.5,359.5 545.6,363.8" fill="#505050" stroke="#505050" stroke-width="1.1" stroke-linejoin="round"/>
<polygon points="587.7,451.4 589.7,448.5 592.6,448.7 594.0,451.9 590.6,454.2" fill="#777777" stroke="#777777" stroke-width="1.1" stroke-linejoin="round"/>
<polygon points="660.7,430.3 656.6,433.0 660.2,435.8 662.2,435.2 662.9,432.1" fill="#8f8f8f" stroke="#8f8f8f" stroke-width="1.1" stroke-linejoin="round"/>
<polygon points="562.5,346.1 561.9,341.9 561.5,341.7 557.6,342.7 556.8,344.2 557.8,347.2" fill="#2d2d2d" stroke="#2d2d2d" stroke-width="1.1" stroke-linejoin="round"/>
<polygon points="578.6,430.4 582.6,429.4 583.9,432.3 580.6,435.1" fill="#959595" stroke="#959595" stroke-width="1.1" stroke-linejoin="round"/>
<polygon points="571.2,423.1 571.6,424.2 575.9,425.3 578.2,421.8 576.3,420.2 571.7,421.7" fill="#686868" stroke="#686868" stroke-width="1.1" stroke-linejoin="round"/>
<polygon points="642.1,379.6 639.1,381.6 636.6,379.6 636.5,378.1 639.5,375.6 641.5,376.2" fill="#6e6e6e" stroke="#6e6e6e" stroke-width="1.1" stroke-linejoin="round"/>
<polygon points="514.6,369.0 513.5,366.2 511.1,366.4 510.2,368.6 513.1,370.2" fill="#4c4c4c" stroke="#4c4c4c" stroke-width="1.1" stroke-linejoin="round"/>
<polygon points="516.0,408.6 514.8,410.0 515.1,411.4 516.7,412.2 517.3,411.8 517.2,409.2 516.3,408.6" fill="#282828" stroke="#282828" stroke-width="1.1" stroke-linejoin="round"/>
<polygon points="643.5,358.7 641.8,362.4 647.0,363.9 647.4,363.4 646.9,358.7" fill="#a2a2a2" stroke="#a2a2a2" stroke-width="1.1" stroke-linejoin="round"/>
<polygon points="518.0,432.2 518.4,429.0 515.8,428.3 515.4,428.4 514.3,431.0 517.6,432.4" fill="#1c1c1c" stroke="#1c1c1c" stroke-width="1.1" stroke-linejoin="round"/>
<polygon points="637.6,364.2 634.6,362.1 630.2,363.8 632.3,368.1 636.4,367.9" fill="#696969" stroke="#696969" stroke-width="1.1" stroke-linejoin="round"/>
<polygon points="669.6,423.2 672.0,420.0 677.0,422.2 677.2,423.5 672.6,428.2 671.7,427.8" fill="#8b8b8b" stroke="#8b8b8b" stroke-width="1.1" stroke-linejoin="round"/>
<polygon points="599.7,398.7 603.2,399.6 604.1,395.3 601.3,394.2 600.0,395.1" fill="#6c6c6c" stroke="#6c6c6c" stroke-width="1.1" stroke-linejoin="round"/>
<polygon points="524.6,378.1 527.1,376.1 524.4,374.4 522.3,376.1 522.4,377.3" fill="#5e5e5e" stroke="#5e5e5e" stroke-width="1.1" stroke-linejoin="round"/>
<polygon points="550.9,392.1 547.4,395.6 548.8,397.9 552.8,397.9 554.0,396.8 554.1,396.1" fill="#565656" stroke="#565656" stroke-width="1.1" stroke-linejoin="round"/>
<polygon points="550.7,370.0 551.6,372.7 551.0,373.3 548.1,373.0 547.8,371.2 548.8,369.8" fill="#252525" stroke="#252525" stroke-width="1.1" stroke-linejoin="round"/>
<polygon points="567.3,355.7 567.3,355.2 564.8,352.2 563.0,353.4 563.0,355.8 565.7,357.3" fill="#696969" stroke="#696969" stroke-width="1.1" stroke-linejoin="round"/>
<polygon points="598.4,443.1 599.7,440.7 597.9,437.9 597.6,437.9 595.4,441.1 596.5,442.9" fill="#818181" stroke="#818181" stroke-width="1.1" stroke-linejoin="round"/>
<polygon points="513.6,418.8 513.7,419.4 516.7,420.5 517.8,418.2 516.7,416.4" fill="#7c7c7c" stroke="#7c7c7c" stroke-width="1.1" stroke-linejoin="round"/>
<polygon points="544.4,440.8 544.2,443.5 546.2,445.7 549.7,443.0 549.7,442.5 546.2,439.7" fill="#545454" stroke="#545454" stroke-width="1.1" stroke-linejoin="round"/>
<polygon points="602.0,359.8 600.6,357.3 597.1,358.2 596.0,361.3 599.0,362.9" fill="#6d6d6d" stroke="#6d6d6d" stroke-width="1.1" stroke-linejoin="round"/>
<polygon points="514.9,361.0 514.8,361.2 515.4,363.8 518.6,363.9 518.3,361.6" fill="#2e2e2e" stroke="#2e2e2e" stroke-width="1.1" stroke-linejoin="round"/>
<polygon points="587.8,426.7 589.5,428.9 588.7,432.9 585.1,432.0 583.6,428.7 584.4,427.0" fill="#8a8a8a" stroke="#8a8a8a" stroke-width="1.1" stroke-linejoin="round"/>
<polygon points="562.6,436.2 564.9,435.7 566.5,436.7 566.4,439.5 565.0,440.6 563.0,440.6 562.4,436.4" fill="#a2a2a2" stroke="#a2a2a2" stroke-width="1.1" stroke-linejoin="round"/>
<polygon points="518.3,340.8 515.9,339.2 515.8,338.9 517.0,337.2 520.4,338.2 520.5,339.1" fill="#6e6e6e" stroke="#6e6e6e" stroke-width="1.1" stroke-linejoin="round"/>
<polygon points="557.6,358.4 561.6,355.9 561.7,353.2 557.6,351.8 556.3,356.3" fill="#505050" stroke="#505050" stroke-width="1.1" stroke-linejoin="round"/>
<polygon points="562.1,367.4 563.8,369.3 558.9,372.5 558.3,372.1 558.0,368.1" fill="#7b7b7b" stroke="#7b7b7b" stroke-width="1.1" stroke-linejoin="round"/>
<polygon points="560.7,434.7 558.7,430.4 555.3,433.3 557.6,435.9 560.6,434.9" fill="#595959" stroke="#595959" stroke-width="1.1" stroke-linejoin="round"/>
<polygon points="534.3,420.7 534.2,420.5 535.2,417.9 538.2,418.9 537.0,420.9" fill="#1c1c1c" stroke="#1c1c1c" stroke-width="1.1" stroke-linejoin="round"/>
<polygon points="542.7,357.4 543.1,353.8 543.3,353.8 545.3,355.1 545.0,356.8" fill="#242424" stroke="#242424" stroke-width="1.1" stroke-linejoin="round"/>
<polygon points="583.1,446.8 583.8,445.5 587.3,445.5 588.3,447.7 586.5,450.3 584.7,450.4" fill="#5f5f5f" stroke="#5f5f5f" stroke-width="1.1" stroke-linejoin="round"/>
<polygon points="525.7,379.3 528.0,377.4 528.0,377.4 529.2,380.0 527.5,381.6 526.5,381.2" fill="#5e5e5e" stroke="#5e5e5e" stroke-width="1.1" stroke-linejoin="round"/>
<polygon points="538.4,395.0 533.9,394.7 533.7,394.5 534.0,392.9 537.6,391.1 538.1,391.5" fill="#7a7a7a" stroke="#7a7a7a" stroke-width="1.1" stroke-linejoin="round"/>
<polygon points="593.2,401.6 592.1,405.0 594.7,406.6 596.4,405.9 596.2,401.8" fill="#757575" stroke="#757575" stroke-width="1.1" stroke-linejoin="round"/>
<polygon points="528.2,402.7 526.7,398.0 523.6,398.7 523.3,402.0 527.9,403.0" fill="#909090" stroke="#909090" stroke-width="1.1" stroke-linejoin="round"/>
<polygon points="532.5,347.8 532.6,347.7 535.4,350.1 535.5,350.9 534.8,351.8 533.7,352.3 531.5,351.9 531.3,351.7 531.3,351.7" fill="#8d8d8d" stroke="#8d8d8d" stroke-width="1.1" stroke-linejoin="round"/>
<polygon points="565.4,451.4 567.4,452.9 566.5,455.1 564.1,454.5 564.5,451.5" fill="#222222" stroke="#222222" stroke-width="1.1" stroke-linejoin="round"/>
<polygon points="519.5,353.5 518.9,354.0 518.7,354.8 520.9,357.4 522.7,357.0 523.0,355.5 522.2,354.1" fill="#5b5b5b" stroke="#5b5b5b" stroke-width="1.1" stroke-linejoin="round"/>
<polygon points="540.6,439.0 537.5,440.8 536.0,440.3 535.6,439.6 537.1,435.5 539.8,436.4" fill="#5e5e5e" stroke="#5e5e5e" stroke-width="1.1" stroke-linejoin="round"/>
<polygon points="524.5,368.3 524.7,365.5 524.5,365.4 521.3,365.8 521.1,367.9 523.7,369.0" fill="#858585" stroke="#858585" stroke-width="1.1" stroke-linejoin="round"/>
<polygon points="626.0,350.7 629.3,349.0 631.5,352.9 625.8,355.6 625.7,355.5" fill="#646464" stroke="#646464" stroke-width="1.1" stroke-linejoin="round"/>
<polygon points="512.1,371.1 510.0,370.0 509.0,370.5 509.1,372.0 510.5,372.9 511.9,372.5" fill="#252525" stroke="#252525" stroke-width="1.1" stroke-linejoin="round"/>
<polygon points="679.5,467.1 676.9,468.1 675.5,467.4 674.6,462.7 677.9,460.5 680.4,461.4" fill="#afafaf" stroke="#afafaf" stroke-width="1.1" stroke-linejoin="round"/>
<polygon points="525.8,391.1 528.1,388.3 527.3,387.5 524.4,388.3 523.9,389.6 524.5,390.8" fill="#717171" stroke="#717171" stroke-width="1.1" stroke-linejoin="round"/>
<polygon points="564.7,465.7 564.6,465.7 562.7,467.6 562.7,467.7 564.5,470.5 568.2,469.7 568.2,469.6 568.3,469.5" fill="#6c6c6c" stroke="#6c6c6c" stroke-width="1.1" stroke-linejoin="round"/>
<polygon points="585.6,398.8 590.6,398.4 590.5,395.4 586.8,393.7" fill="#1e1e1e" stroke="#1e1e1e" stroke-width="1.1" stroke-linejoin="round"/>
<polygon points="570.9,415.0 569.6,412.0 572.2,410.3 572.8,410.4 574.1,414.3" fill="#636363" stroke="#636363" stroke-width="1.1" stroke-linejoin="round"/>
<polygon points="548.7,455.2 546.4,455.2 545.0,453.5 547.2,450.6 549.7,451.9" fill="#5f5f5f" stroke="#5f5f5f" stroke-width="1.1" stroke-linejoin="round"/>
<polygon points="559.0,391.2 556.4,388.0 558.0,386.6 560.9,387.2 561.3,388.1 559.7,391.2" fill="#636363" stroke="#636363" stroke-width="1.1" stroke-linejoin="round"/>
<polygon points="548.3,358.8 546.6,357.3 547.1,355.4 549.0,355.0 550.1,356.3" fill="#6c6c6c" stroke="#6c6c6c" stroke-width="1.1" stroke-linejoin="round"/>
<polygon points="513.2,404.0 515.9,406.5 516.3,406.5 517.7,403.1 517.0,402.4 513.3,403.8" fill="#5d5d5d" stroke="#5d5d5d" stroke-width="1.1" stroke-linejoin="round"/>
<polygon points="578.3,350.0 575.5,347.8 572.5,349.5 572.9,351.3 575.4,352.9" fill="#585858" stroke="#585858" stroke-width="1.1" stroke-linejoin="round"/>
<polygon points="569.7,364.4 566.3,368.9 567.8,370.6 573.2,368.8 573.5,368.2 569.8,364.4" fill="#515151" stroke="#515151" stroke-width="1.1" stroke-linejoin="round"/>
<polygon points="519.4,450.4 518.5,446.4 517.2,445.6 514.3,448.8 516.4,451.5" fill="#616161" stroke="#616161" stroke-width="1.1" stroke-linejoin="round"/>
<polygon points="510.8,466.0 509.5,468.7 509.6,469.0 510.7,469.7 513.9,468.4 513.0,466.4" fill="#4a4a4a" stroke="#4a4a4a" stroke-width="1.1" stroke-linejoin="round"/>
<polygon points="564.1,418.0 563.1,416.6 561.8,416.8 560.0,420.1 563.4,420.7" fill="#7a7a7a" stroke="#7a7a7a" stroke-width="1.1" stroke-linejoin="round"/>
<polygon points="510.6,413.4 509.0,411.9 510.8,409.3 513.1,410.2 513.5,412.1" fill="#323232" stroke="#323232" stroke-width="1.1" stroke-linejoin="round"/>
<polygon points="631.2,461.2 629.0,464.9 623.9,461.2 627.2,456.5 627.4,456.5" fill="#747474" stroke="#747474" stroke-width="1.1" stroke-linejoin="round"/>
<polygon points="511.9,393.8 509.8,393.1 509.3,391.6 510.0,390.9 512.4,390.8 513.2,391.8" fill="#262626" stroke="#262626" stroke-width="1.1" stroke-linejoin="round"/>
<polygon points="535.8,369.2 532.4,369.0 532.6,366.9 535.4,366.7" fill="#292929" stroke="#292929" stroke-width="1.1" stroke-linejoin="round"/>
<polygon points="606.4,439.9 607.3,437.4 610.0,438.1 610.5,439.0 609.9,440.9 607.9,441.7" fill="#373737" stroke="#373737" stroke-width="1.1" stroke-linejoin="round"/>
<polygon points="681.5,417.6 680.0,411.4 685.1,409.6 688.2,412.6 686.3,417.0" fill="#969696" stroke="#969696" stroke-width="1.1" stroke-linejoin="round"/>
<polygon points="528.3,409.6 527.4,406.5 524.5,408.3 524.7,409.2 527.8,410.7" fill="#616161" stroke="#616161" stroke-width="1.1" stroke-linejoin="round"/>
<polygon points="521.0,385.2 518.8,386.9 519.4,388.8 522.1,389.2 522.7,387.6 521.3,385.3" fill="#686868" stroke="#686868" stroke-width="1.1" stroke-linejoin="round"/>
<polygon points="524.6,465.9 524.6,465.9 521.2,465.5 521.1,464.8 522.8,462.5 523.9,462.6" fill="#474747" stroke="#474747" stroke-width="1.1" stroke-linejoin="round"/>
<polygon points="589.1,441.0 587.5,444.2 583.5,444.2 582.3,440.0 587.9,439.3" fill="#999999" stroke="#999999" stroke-width="1.1" stroke-linejoin="round"/>
<polygon points="544.3,466.8 541.3,469.6 542.8,470.7 545.9,470.3 546.2,468.4" fill="#4f4f4f" stroke="#4f4f4f" stroke-width="1.1" stroke-linejoin="round"/>
<polygon points="517.9,421.0 518.9,418.8 521.1,419.2 521.6,421.7 521.2,422.1 518.1,421.4" fill="#828282" stroke="#828282" stroke-width="1.1" stroke-linejoin="round"/>
<polygon points="522.0,347.2 523.3,346.2 527.0,346.4 526.5,349.8 524.6,350.0" fill="#636363" stroke="#636363" stroke-width="1.1" stroke-linejoin="round"/>
<polygon points="656.3,335.4 652.3,338.0 651.9,339.6 654.2,341.9 659.5,339.8 659.7,338.6" fill="#a4a4a4" stroke="#a4a4a4" stroke-width="1.1" stroke-linejoin="round"/>
<polygon points="610.3,375.8 615.2,375.7 614.7,381.6 611.6,382.1 608.7,377.6" fill="#737373" stroke="#737373" stroke-width="1.1" stroke-linejoin="round"/>
<polygon points="534.1,422.5 537.0,422.7 537.5,424.1 535.8,425.7 535.5,425.7 534.0,422.7" fill="#525252" stroke="#525252" stroke-width="1.1" stroke-linejoin="round"/>
<polygon points="549.3,336.3 551.0,338.4 554.1,337.6 554.4,336.3 552.2,334.4 549.6,335.3" fill="#6e6e6e" stroke="#6e6e6e" stroke-width="1.1" stroke-linejoin="round"/>
<path d="M654.6 358.6 Q652.2 361.6 650.0 364.2" fill="none" stroke="#f4f4f4" stroke-width="1.1" opacity="0.53"/>
<path d="M657.9 459.8 Q653.5 459.5 648.5 460.2" fill="none" stroke="#f4f4f4" stroke-width="1.1" opacity="0.67"/>
<path d="M659.2 360.2 Q658.0 363.4 655.0 364.8" fill="none" stroke="#f4f4f4" stroke-width="0.9" opacity="0.74"/>
<path d="M680.9 375.1 Q681.0 377.5 681.5 382.8" fill="none" stroke="#f4f4f4" stroke-width="0.7" opacity="0.38"/>
<path d="M625.2 359.3 Q632.3 361.9 636.5 363.3" fill="none" stroke="#f4f4f4" stroke-width="0.8" opacity="0.65"/>
<path d="M675.9 339.1 Q676.3 345.1 675.5 353.6" fill="none" stroke="#f4f4f4" stroke-width="0.8" opacity="0.46"/>
<path d="M649.9 359.4 Q644.7 361.7 635.8 363.3" fill="none" stroke="#f4f4f4" stroke-width="1.2" opacity="0.48"/>
<path d="M606.5 382.4 Q598.8 385.5 592.7 385.9" fill="none" stroke="#f4f4f4" stroke-width="1.0" opacity="0.55"/>
<path d="M658.3 347.2 Q650.0 347.9 644.8 351.0" fill="none" stroke="#f4f4f4" stroke-width="1.3" opacity="0.38"/>
<path d="M615.3 452.8 Q624.6 452.8 631.0 455.5" fill="none" stroke="#f4f4f4" stroke-width="1.3" opacity="0.43"/>
<path d="M626.9 428.9 Q635.7 430.1 640.9 429.5" fill="none" stroke="#f4f4f4" stroke-width="1.4" opacity="0.47"/>
<path d="M596.6 420.4 Q602.2 423.8 604.2 428.0" fill="none" stroke="#f4f4f4" stroke-width="0.9" opacity="0.58"/>
<path d="M576.2 394.6 Q580.7 403.1 581.7 408.4" fill="none" stroke="#f4f4f4" stroke-width="1.4" opacity="0.56"/>
<path d="M607.9 447.6 Q607.2 452.3 608.2 459.6" fill="none" stroke="#f4f4f4" stroke-width="0.9" opacity="0.42"/>
<path d="M582.4 399.5 Q574.1 400.6 567.1 402.9" fill="none" stroke="#f4f4f4" stroke-width="1.0" opacity="0.57"/>
<path d="M669.8 377.4 Q674.7 380.5 675.7 386.7" fill="none" stroke="#f4f4f4" stroke-width="0.7" opacity="0.77"/>
<path d="M655.5 434.9 Q656.0 440.9 659.9 444.4" fill="none" stroke="#f4f4f4" stroke-width="1.5" opacity="0.39"/>
<path d="M676.5 455.0 Q679.7 457.1 680.8 460.3" fill="none" stroke="#f4f4f4" stroke-width="0.9" opacity="0.37"/>
<path d="M638.6 398.5 Q637.4 398.3 632.5 400.8" fill="none" stroke="#f4f4f4" stroke-width="1.3" opacity="0.64"/>
<path d="M576.4 430.0 Q578.2 432.2 583.6 431.6" fill="none" stroke="#f4f4f4" stroke-width="1.2" opacity="0.60"/>
<path d="M621.0 435.5 Q613.3 438.6 608.7 439.8" fill="none" stroke="#f4f4f4" stroke-width="1.3" opacity="0.49"/>
<path d="M560.8 343.1 Q559.3 347.0 561.0 354.4" fill="none" stroke="#f4f4f4" stroke-width="0.9" opacity="0.51"/>
<path d="M682.9 422.3 Q679.4 429.9 672.1 434.2" fill="none" stroke="#f4f4f4" stroke-width="0.8" opacity="0.61"/>
<path d="M667.4 373.0 Q670.0 381.7 671.6 386.6" fill="none" stroke="#f4f4f4" stroke-width="1.0" opacity="0.50"/>
<path d="M559.1 348.5 Q563.5 356.5 567.2 362.1" fill="none" stroke="#f4f4f4" stroke-width="1.2" opacity="0.73"/>
<path d="M657.9 454.6 Q651.2 458.4 647.7 459.2" fill="none" stroke="#f4f4f4" stroke-width="1.4" opacity="0.39"/>
<path d="M606.8 428.0 Q613.8 428.6 617.2 431.3" fill="none" stroke="#f4f4f4" stroke-width="1.2" opacity="0.39"/>
<path d="M638.2 376.8 Q637.8 383.5 637.9 387.0" fill="none" stroke="#f4f4f4" stroke-width="1.0" opacity="0.69"/>
<path d="M583.8 358.3 Q577.1 360.5 572.1 366.4" fill="none" stroke="#f4f4f4" stroke-width="0.8" opacity="0.55"/>
<path d="M564.2 434.8 Q562.5 439.3 559.2 444.6" fill="none" stroke="#f4f4f4" stroke-width="1.3" opacity="0.80"/>
<path d="M563.1 369.0 Q556.5 368.6 547.3 371.3" fill="none" stroke="#f4f4f4" stroke-width="0.7" opacity="0.79"/>
<path d="M622.9 343.1 Q619.0 344.8 611.4 345.3" fill="none" stroke="#f4f4f4" stroke-width="1.4" opacity="0.62"/>
<path d="M591.8 407.7 Q594.7 412.3 598.9 416.1" fill="none" stroke="#f4f4f4" stroke-width="1.4" opacity="0.72"/>
<path d="M612.6 393.2 Q616.5 396.5 620.5 403.3" fill="none" stroke="#f4f4f4" stroke-width="0.7" opacity="0.50"/>
<path d="M587.6 422.9 Q592.6 425.9 599.9 431.5" fill="none" stroke="#f4f4f4" stroke-width="0.9" opacity="0.48"/>
<path d="M673.8 368.6 Q668.3 373.0 664.0 379.1" fill="none" stroke="#f4f4f4" stroke-width="1.1" opacity="0.49"/>
<path d="M649.0 347.5 Q647.2 354.2 646.3 358.3" fill="none" stroke="#f4f4f4" stroke-width="1.5" opacity="0.71"/>
<path d="M582.7 382.4 Q589.7 381.1 595.1 383.6" fill="none" stroke="#f4f4f4" stroke-width="1.5" opacity="0.58"/>
<path d="M664.9 464.8 Q672.4 466.1 679.7 465.2" fill="none" stroke="#f4f4f4" stroke-width="0.9" opacity="0.42"/>
<path d="M604.4 442.6 Q609.1 445.2 612.9 446.1" fill="none" stroke="#f4f4f4" stroke-width="1.3" opacity="0.72"/>
<path d="M673.1 415.5 Q676.5 416.7 681.1 417.8" fill="none" stroke="#f4f4f4" stroke-width="0.8" opacity="0.77"/>
<path d="M621.3 440.3 Q622.6 440.2 625.8 442.7" fill="none" stroke="#f4f4f4" stroke-width="1.5" opacity="0.35"/>
<path d="M595.4 409.9 Q596.6 414.6 599.8 416.5" fill="none" stroke="#f4f4f4" stroke-width="0.9" opacity="0.68"/>
<path d="M635.3 368.6 Q636.6 374.3 641.0 381.4" fill="none" stroke="#f4f4f4" stroke-width="0.8" opacity="0.54"/>
<path d="M595.3 393.6 Q596.9 397.5 594.8 404.5" fill="none" stroke="#f4f4f4" stroke-width="0.8" opacity="0.68"/>
<path d="M593.5 425.8 Q593.1 428.0 594.0 431.7" fill="none" stroke="#f4f4f4" stroke-width="0.9" opacity="0.46"/>
</g>
<g filter="url(#semblur)"><ellipse cx="664" cy="352" rx="12" ry="9" fill="#fff" opacity="0.22"/><ellipse cx="678" cy="405" rx="6" ry="20" fill="#fff" opacity="0.25"/><ellipse cx="610" cy="398" rx="6" ry="22" fill="#fff" opacity="0.14"/><ellipse cx="668" cy="392" rx="8" ry="8" fill="#000" opacity="0.22"/></g></g>
<line x1="664.00" y1="458.00" x2="677.00" y2="458.00" stroke="#fff" stroke-width="1.7"/>
<text x="-1.00" y="511.00" font-size="21.5" text-anchor="start" fill="#000" font-weight="bold">h</text>
<text x="276.40" y="506.60" font-size="13.3" text-anchor="middle" fill="#000">FAM</text>
<text x="427.20" y="506.20" font-size="13.6" text-anchor="middle" fill="#000">Texas Red</text>
<text x="616.00" y="506.60" font-size="13.5" text-anchor="middle" fill="#000">Merge</text>
<defs><clipPath id="mc1"><rect x="27.0" y="510.3" width="160.8" height="120.7"/></clipPath><clipPath id="mc1s"><path d="M25.0 515.7 L25.9 515.6 L27.1 515.4 L28.5 515.1 L30.0 514.8 L31.7 514.5 L33.5 514.2 L35.4 514.0 L37.3 513.9 L39.2 513.8 L41.1 513.9 L43.0 514.1 L45.0 514.3 L47.0 514.6 L49.1 515.0 L51.2 515.4 L53.4 515.9 L55.6 516.5 L57.8 517.1 L60.1 517.8 L62.3 518.5 L64.6 519.3 L66.9 520.2 L69.2 521.2 L71.5 522.2 L73.9 523.3 L76.3 524.4 L78.7 525.6 L81.1 526.7 L83.4 527.9 L85.8 529.1 L88.2 530.3 L90.6 531.5 L93.0 532.8 L95.4 534.0 L97.8 535.3 L100.2 536.6 L102.6 538.0 L104.9 539.3 L107.1 540.7 L109.3 542.0 L111.4 543.3 L113.4 544.7 L115.3 546.0 L117.2 547.4 L119.1 548.8 L120.9 550.1 L122.7 551.6 L124.5 553.0 L126.2 554.5 L128.0 556.1 L129.8 557.7 L131.5 559.4 L133.3 561.2 L135.0 563.0 L136.8 564.8 L138.4 566.6 L140.1 568.5 L141.6 570.3 L143.1 572.1 L144.5 573.8 L145.8 575.5 L147.1 577.1 L148.2 578.7 L149.3 580.3 L150.4 581.9 L151.4 583.5 L152.4 585.1 L153.3 586.8 L154.2 588.5 L155.1 590.2 L156.0 592.0 L156.8 593.8 L157.6 595.6 L158.3 597.4 L159.0 599.2 L159.7 601.1 L160.4 603.0 L161.0 605.0 L161.6 607.0 L162.1 609.0 L162.6 611.2 L163.1 613.5 L163.5 616.0 L163.9 618.5 L164.3 621.1 L164.7 623.5 L165.0 625.8 L165.2 628.0 L165.5 629.8 L165.7 631.3 L165.9 632.5 L166.0 633.3 L166.0 634.0 L166.1 634.4 L166.1 634.7 L166.1 634.9 L166.0 635.0 L166.0 635.0 L166.0 635.1 L166.0 635.3 L24.0 635.0 Z"/></clipPath><radialGradient id="mc1g" gradientUnits="userSpaceOnUse" cx="32.0" cy="656.3" r="141"><stop offset="0" stop-color="#d7d7d7"/><stop offset="0.5" stop-color="#d7d7d7"/><stop offset="0.88" stop-color="#c9c9c9"/><stop offset="0.94" stop-color="#bababa"/><stop offset="1" stop-color="#bababa"/></radialGradient></defs>
<rect x="27.00" y="510.30" width="160.80" height="120.70" fill="#d8d8d8"/>
<g clip-path="url(#mc1)">
<path d="M25.0 515.7 L25.9 515.6 L27.1 515.4 L28.5 515.1 L30.0 514.8 L31.7 514.5 L33.5 514.2 L35.4 514.0 L37.3 513.9 L39.2 513.8 L41.1 513.9 L43.0 514.1 L45.0 514.3 L47.0 514.6 L49.1 515.0 L51.2 515.4 L53.4 515.9 L55.6 516.5 L57.8 517.1 L60.1 517.8 L62.3 518.5 L64.6 519.3 L66.9 520.2 L69.2 521.2 L71.5 522.2 L73.9 523.3 L76.3 524.4 L78.7 525.6 L81.1 526.7 L83.4 527.9 L85.8 529.1 L88.2 530.3 L90.6 531.5 L93.0 532.8 L95.4 534.0 L97.8 535.3 L100.2 536.6 L102.6 538.0 L104.9 539.3 L107.1 540.7 L109.3 542.0 L111.4 543.3 L113.4 544.7 L115.3 546.0 L117.2 547.4 L119.1 548.8 L120.9 550.1 L122.7 551.6 L124.5 553.0 L126.2 554.5 L128.0 556.1 L129.8 557.7 L131.5 559.4 L133.3 561.2 L135.0 563.0 L136.8 564.8 L138.4 566.6 L140.1 568.5 L141.6 570.3 L143.1 572.1 L144.5 573.8 L145.8 575.5 L147.1 577.1 L148.2 578.7 L149.3 580.3 L150.4 581.9 L151.4 583.5 L152.4 585.1 L153.3 586.8 L154.2 588.5 L155.1 590.2 L156.0 592.0 L156.8 593.8 L157.6 595.6 L158.3 597.4 L159.0 599.2 L159.7 601.1 L160.4 603.0 L161.0 605.0 L161.6 607.0 L162.1 609.0 L162.6 611.2 L163.1 613.5 L163.5 616.0 L163.9 618.5 L164.3 621.1 L164.7 623.5 L165.0 625.8 L165.2 628.0 L165.5 629.8 L165.7 631.3 L165.9 632.5 L166.0 633.3 L166.0 634.0 L166.1 634.4 L166.1 634.7 L166.1 634.9 L166.0 635.0 L166.0 635.0 L166.0 635.1 L166.0 635.3 L24.0 635.0 Z" fill="url(#mc1g)"/>
<circle cx="25.09" cy="516.47" r="1.33" fill="#bababa"/>
<circle cx="26.10" cy="516.03" r="1.85" fill="#bababa"/>
<circle cx="27.48" cy="516.01" r="1.02" fill="#bababa"/>
<circle cx="29.00" cy="515.96" r="1.33" fill="#bababa"/>
<circle cx="30.02" cy="515.84" r="2.17" fill="#bababa"/>
<circle cx="31.86" cy="515.78" r="1.21" fill="#bababa"/>
<circle cx="33.75" cy="515.32" r="1.73" fill="#bababa"/>
<circle cx="35.62" cy="515.02" r="1.09" fill="#bababa"/>
<circle cx="36.79" cy="515.14" r="1.42" fill="#bababa"/>
<circle cx="39.38" cy="515.11" r="1.66" fill="#bababa"/>
<circle cx="41.46" cy="514.69" r="2.00" fill="#bababa"/>
<circle cx="42.88" cy="515.41" r="2.12" fill="#bababa"/>
<circle cx="44.49" cy="514.85" r="2.23" fill="#bababa"/>
<circle cx="47.38" cy="515.45" r="1.30" fill="#bababa"/>
<circle cx="48.80" cy="515.89" r="1.88" fill="#bababa"/>
<circle cx="50.97" cy="516.40" r="1.54" fill="#bababa"/>
<circle cx="53.68" cy="516.99" r="1.82" fill="#bababa"/>
<circle cx="55.82" cy="517.86" r="2.30" fill="#bababa"/>
<circle cx="57.33" cy="518.34" r="1.94" fill="#bababa"/>
<circle cx="60.29" cy="518.72" r="2.35" fill="#bababa"/>
<circle cx="61.82" cy="519.71" r="2.00" fill="#bababa"/>
<circle cx="64.13" cy="519.75" r="1.80" fill="#bababa"/>
<circle cx="67.12" cy="520.66" r="2.20" fill="#bababa"/>
<circle cx="68.85" cy="521.69" r="2.12" fill="#bababa"/>
<circle cx="71.55" cy="523.43" r="1.41" fill="#bababa"/>
<circle cx="73.75" cy="523.68" r="1.06" fill="#bababa"/>
<circle cx="75.83" cy="525.64" r="2.01" fill="#bababa"/>
<circle cx="78.38" cy="526.91" r="2.37" fill="#bababa"/>
<circle cx="80.32" cy="527.68" r="1.43" fill="#bababa"/>
<circle cx="82.80" cy="528.66" r="1.04" fill="#bababa"/>
<circle cx="85.11" cy="529.47" r="1.85" fill="#bababa"/>
<circle cx="87.62" cy="531.57" r="2.21" fill="#bababa"/>
<circle cx="90.07" cy="532.29" r="2.26" fill="#bababa"/>
<circle cx="92.75" cy="533.67" r="1.73" fill="#bababa"/>
<circle cx="95.14" cy="535.28" r="1.78" fill="#bababa"/>
<circle cx="97.35" cy="536.34" r="1.71" fill="#bababa"/>
<circle cx="99.60" cy="537.90" r="1.33" fill="#bababa"/>
<circle cx="102.19" cy="538.25" r="1.73" fill="#bababa"/>
<circle cx="104.51" cy="539.59" r="1.58" fill="#bababa"/>
<circle cx="106.79" cy="540.97" r="1.86" fill="#bababa"/>
<circle cx="108.76" cy="542.92" r="1.88" fill="#bababa"/>
<circle cx="111.06" cy="544.32" r="1.49" fill="#bababa"/>
<circle cx="112.41" cy="545.59" r="1.03" fill="#bababa"/>
<circle cx="114.54" cy="546.70" r="2.35" fill="#bababa"/>
<circle cx="116.50" cy="547.95" r="1.83" fill="#bababa"/>
<circle cx="118.39" cy="549.55" r="1.44" fill="#bababa"/>
<circle cx="120.21" cy="551.11" r="1.42" fill="#bababa"/>
<circle cx="122.18" cy="552.48" r="1.04" fill="#bababa"/>
<circle cx="123.60" cy="554.00" r="1.43" fill="#bababa"/>
<circle cx="125.32" cy="555.13" r="1.33" fill="#bababa"/>
<circle cx="126.98" cy="556.57" r="1.98" fill="#bababa"/>
<circle cx="129.47" cy="558.31" r="1.47" fill="#bababa"/>
<circle cx="130.56" cy="559.89" r="2.20" fill="#bababa"/>
<circle cx="133.03" cy="561.75" r="1.91" fill="#bababa"/>
<circle cx="134.00" cy="563.62" r="1.32" fill="#bababa"/>
<circle cx="136.39" cy="565.74" r="1.27" fill="#bababa"/>
<circle cx="137.52" cy="567.53" r="1.26" fill="#bababa"/>
<circle cx="139.66" cy="568.89" r="1.90" fill="#bababa"/>
<circle cx="140.70" cy="571.14" r="1.18" fill="#bababa"/>
<circle cx="142.23" cy="572.53" r="1.38" fill="#bababa"/>
<circle cx="143.68" cy="574.75" r="1.59" fill="#bababa"/>
<circle cx="144.59" cy="576.45" r="1.22" fill="#bababa"/>
<circle cx="146.80" cy="577.57" r="2.23" fill="#bababa"/>
<circle cx="147.91" cy="578.96" r="2.33" fill="#bababa"/>
<circle cx="148.92" cy="580.99" r="2.04" fill="#bababa"/>
<circle cx="149.42" cy="582.25" r="1.73" fill="#bababa"/>
<circle cx="150.20" cy="584.09" r="1.32" fill="#bababa"/>
<circle cx="151.91" cy="585.15" r="1.40" fill="#bababa"/>
<circle cx="152.72" cy="587.66" r="2.27" fill="#bababa"/>
<circle cx="153.83" cy="588.98" r="2.26" fill="#bababa"/>
<circle cx="154.55" cy="590.30" r="1.02" fill="#bababa"/>
<circle cx="155.33" cy="592.41" r="1.42" fill="#bababa"/>
<circle cx="156.42" cy="594.27" r="1.58" fill="#bababa"/>
<circle cx="156.51" cy="596.31" r="1.48" fill="#bababa"/>
<circle cx="157.79" cy="597.61" r="1.67" fill="#bababa"/>
<circle cx="158.25" cy="599.92" r="1.28" fill="#bababa"/>
<circle cx="159.18" cy="601.89" r="1.24" fill="#bababa"/>
<circle cx="159.86" cy="602.88" r="2.13" fill="#bababa"/>
<circle cx="160.50" cy="604.86" r="1.88" fill="#bababa"/>
<circle cx="160.48" cy="607.31" r="1.38" fill="#bababa"/>
<circle cx="161.23" cy="609.58" r="1.59" fill="#bababa"/>
<circle cx="161.32" cy="611.09" r="1.00" fill="#bababa"/>
<circle cx="161.80" cy="614.28" r="1.17" fill="#bababa"/>
<circle cx="162.26" cy="616.27" r="2.20" fill="#bababa"/>
<circle cx="162.89" cy="618.65" r="1.44" fill="#bababa"/>
<circle cx="163.54" cy="621.17" r="1.91" fill="#bababa"/>
<circle cx="163.62" cy="623.37" r="1.27" fill="#bababa"/>
<circle cx="164.31" cy="625.93" r="1.78" fill="#bababa"/>
<circle cx="164.04" cy="628.02" r="1.11" fill="#bababa"/>
<circle cx="164.89" cy="629.85" r="1.85" fill="#bababa"/>
<circle cx="164.94" cy="631.40" r="2.12" fill="#bababa"/>
<circle cx="164.98" cy="632.82" r="1.52" fill="#bababa"/>
<circle cx="165.28" cy="633.45" r="1.59" fill="#bababa"/>
<circle cx="165.19" cy="634.31" r="1.34" fill="#bababa"/>
<circle cx="165.11" cy="634.48" r="1.10" fill="#bababa"/>
<circle cx="165.62" cy="634.71" r="2.23" fill="#bababa"/>
<circle cx="165.46" cy="634.77" r="2.26" fill="#bababa"/>
<circle cx="164.77" cy="635.43" r="1.65" fill="#bababa"/>
<circle cx="165.51" cy="635.48" r="1.93" fill="#bababa"/>
<circle cx="165.34" cy="635.35" r="1.93" fill="#bababa"/>
<g clip-path="url(#mc1s)">
<ellipse cx="26.3" cy="522.3" rx="0.6" ry="0.4" fill="#d4d4d4"/>
<ellipse cx="26.2" cy="516.6" rx="1.5" ry="1.4" fill="#d4d4d4"/>
<ellipse cx="29.7" cy="524.4" rx="1.3" ry="1.1" fill="#d4d4d4"/>
<ellipse cx="30.8" cy="521.0" rx="1.1" ry="1.0" fill="#d4d4d4"/>
<ellipse cx="32.7" cy="518.0" rx="1.2" ry="0.8" fill="#d4d4d4"/>
<ellipse cx="31.4" cy="520.4" rx="1.4" ry="1.0" fill="#d4d4d4"/>
<ellipse cx="33.5" cy="520.6" rx="0.7" ry="0.5" fill="#d4d4d4"/>
<ellipse cx="35.7" cy="520.9" rx="1.4" ry="1.1" fill="#d4d4d4"/>
<ellipse cx="38.4" cy="516.6" rx="1.3" ry="1.0" fill="#d4d4d4"/>
<ellipse cx="39.3" cy="517.1" rx="0.8" ry="0.6" fill="#d4d4d4"/>
<ellipse cx="43.5" cy="521.2" rx="1.0" ry="0.7" fill="#d4d4d4"/>
<ellipse cx="42.5" cy="515.2" rx="1.1" ry="0.8" fill="#d4d4d4"/>
<ellipse cx="45.8" cy="521.6" rx="0.7" ry="0.6" fill="#d4d4d4"/>
<ellipse cx="44.4" cy="522.1" rx="1.4" ry="1.3" fill="#d4d4d4"/>
<ellipse cx="46.2" cy="520.9" rx="1.6" ry="1.1" fill="#d4d4d4"/>
<ellipse cx="52.0" cy="519.8" rx="0.9" ry="0.8" fill="#d4d4d4"/>
<ellipse cx="54.0" cy="525.1" rx="0.9" ry="0.6" fill="#d4d4d4"/>
<ellipse cx="53.9" cy="524.4" rx="0.9" ry="0.8" fill="#d4d4d4"/>
<ellipse cx="57.0" cy="520.5" rx="1.0" ry="0.9" fill="#d4d4d4"/>
<ellipse cx="58.2" cy="524.0" rx="0.7" ry="0.5" fill="#d4d4d4"/>
<ellipse cx="61.3" cy="527.7" rx="1.0" ry="0.7" fill="#d4d4d4"/>
<ellipse cx="65.6" cy="527.4" rx="1.6" ry="1.0" fill="#d4d4d4"/>
<ellipse cx="68.5" cy="525.7" rx="1.3" ry="0.9" fill="#d4d4d4"/>
<ellipse cx="68.1" cy="531.4" rx="1.3" ry="0.8" fill="#d4d4d4"/>
<ellipse cx="72.0" cy="530.4" rx="1.2" ry="0.9" fill="#d4d4d4"/>
<ellipse cx="73.6" cy="527.1" rx="0.7" ry="0.5" fill="#d4d4d4"/>
<ellipse cx="76.2" cy="526.7" rx="1.0" ry="0.8" fill="#d4d4d4"/>
<ellipse cx="75.7" cy="532.2" rx="1.0" ry="0.8" fill="#d4d4d4"/>
<ellipse cx="77.6" cy="533.0" rx="0.7" ry="0.5" fill="#d4d4d4"/>
<ellipse cx="82.9" cy="532.0" rx="1.0" ry="0.9" fill="#d4d4d4"/>
<ellipse cx="83.7" cy="532.0" rx="1.0" ry="0.8" fill="#d4d4d4"/>
<ellipse cx="82.9" cy="533.5" rx="1.4" ry="1.3" fill="#d4d4d4"/>
<ellipse cx="86.2" cy="537.1" rx="1.2" ry="1.0" fill="#d4d4d4"/>
<ellipse cx="87.5" cy="539.5" rx="1.1" ry="0.7" fill="#d4d4d4"/>
<ellipse cx="89.6" cy="537.9" rx="1.1" ry="0.7" fill="#d4d4d4"/>
<ellipse cx="92.6" cy="541.2" rx="1.0" ry="1.0" fill="#d4d4d4"/>
<ellipse cx="90.6" cy="540.3" rx="1.2" ry="0.8" fill="#d4d4d4"/>
<ellipse cx="94.6" cy="541.5" rx="1.5" ry="1.3" fill="#d4d4d4"/>
<ellipse cx="95.3" cy="543.0" rx="1.2" ry="1.1" fill="#d4d4d4"/>
<ellipse cx="97.5" cy="543.1" rx="1.5" ry="1.4" fill="#d4d4d4"/>
<ellipse cx="97.6" cy="538.1" rx="0.6" ry="0.4" fill="#d4d4d4"/>
<ellipse cx="98.8" cy="544.3" rx="1.1" ry="0.8" fill="#d4d4d4"/>
<ellipse cx="97.9" cy="545.4" rx="1.0" ry="0.9" fill="#d4d4d4"/>
<ellipse cx="102.8" cy="542.4" rx="1.1" ry="0.7" fill="#d4d4d4"/>
<ellipse cx="100.8" cy="544.7" rx="0.7" ry="0.5" fill="#d4d4d4"/>
<ellipse cx="103.1" cy="543.5" rx="0.8" ry="0.5" fill="#d4d4d4"/>
<ellipse cx="105.7" cy="542.4" rx="0.6" ry="0.5" fill="#d4d4d4"/>
<ellipse cx="105.2" cy="547.4" rx="1.0" ry="0.7" fill="#d4d4d4"/>
<ellipse cx="106.7" cy="545.9" rx="0.8" ry="0.5" fill="#d4d4d4"/>
<ellipse cx="108.2" cy="549.0" rx="0.9" ry="0.9" fill="#d4d4d4"/>
<ellipse cx="110.2" cy="546.8" rx="0.9" ry="0.6" fill="#d4d4d4"/>
<ellipse cx="109.7" cy="548.7" rx="1.6" ry="1.0" fill="#d4d4d4"/>
<ellipse cx="110.2" cy="547.7" rx="0.6" ry="0.6" fill="#d4d4d4"/>
<ellipse cx="110.9" cy="554.3" rx="1.1" ry="1.1" fill="#d4d4d4"/>
<ellipse cx="114.2" cy="548.1" rx="1.2" ry="0.9" fill="#d4d4d4"/>
<ellipse cx="114.9" cy="552.4" rx="0.9" ry="0.6" fill="#d4d4d4"/>
<ellipse cx="115.2" cy="555.8" rx="1.0" ry="0.9" fill="#d4d4d4"/>
<ellipse cx="120.8" cy="554.8" rx="0.8" ry="0.7" fill="#d4d4d4"/>
<ellipse cx="119.8" cy="554.2" rx="0.8" ry="0.6" fill="#d4d4d4"/>
<ellipse cx="124.2" cy="558.4" rx="1.4" ry="1.4" fill="#d4d4d4"/>
<ellipse cx="120.1" cy="560.2" rx="1.3" ry="0.8" fill="#d4d4d4"/>
<ellipse cx="122.2" cy="561.2" rx="0.7" ry="0.4" fill="#d4d4d4"/>
<ellipse cx="128.6" cy="559.6" rx="0.8" ry="0.5" fill="#d4d4d4"/>
<ellipse cx="123.8" cy="563.7" rx="0.8" ry="0.7" fill="#d4d4d4"/>
<ellipse cx="129.6" cy="564.4" rx="0.8" ry="0.5" fill="#d4d4d4"/>
<ellipse cx="128.1" cy="565.9" rx="0.8" ry="0.6" fill="#d4d4d4"/>
<ellipse cx="129.7" cy="569.0" rx="1.2" ry="1.2" fill="#d4d4d4"/>
<ellipse cx="129.3" cy="568.2" rx="1.0" ry="0.9" fill="#d4d4d4"/>
<ellipse cx="133.1" cy="567.3" rx="1.1" ry="0.8" fill="#d4d4d4"/>
<ellipse cx="137.2" cy="568.0" rx="1.2" ry="1.0" fill="#d4d4d4"/>
<ellipse cx="136.1" cy="571.1" rx="1.6" ry="1.0" fill="#d4d4d4"/>
<ellipse cx="138.3" cy="571.6" rx="1.5" ry="1.5" fill="#d4d4d4"/>
<ellipse cx="140.4" cy="576.4" rx="1.5" ry="1.2" fill="#d4d4d4"/>
<ellipse cx="136.6" cy="580.4" rx="1.5" ry="1.0" fill="#d4d4d4"/>
<ellipse cx="138.9" cy="578.4" rx="0.9" ry="0.6" fill="#d4d4d4"/>
<ellipse cx="142.4" cy="579.1" rx="0.9" ry="0.7" fill="#d4d4d4"/>
<ellipse cx="142.4" cy="578.4" rx="1.0" ry="0.9" fill="#d4d4d4"/>
<ellipse cx="146.6" cy="582.1" rx="0.9" ry="0.7" fill="#d4d4d4"/>
<ellipse cx="143.5" cy="587.3" rx="0.9" ry="0.8" fill="#d4d4d4"/>
<ellipse cx="145.8" cy="582.8" rx="1.4" ry="1.1" fill="#d4d4d4"/>
<ellipse cx="147.8" cy="586.0" rx="0.7" ry="0.5" fill="#d4d4d4"/>
<ellipse cx="150.2" cy="587.9" rx="0.6" ry="0.4" fill="#d4d4d4"/>
<ellipse cx="150.2" cy="589.0" rx="0.9" ry="0.7" fill="#d4d4d4"/>
<ellipse cx="152.6" cy="590.1" rx="1.0" ry="1.0" fill="#d4d4d4"/>
<ellipse cx="153.4" cy="591.6" rx="1.4" ry="1.3" fill="#d4d4d4"/>
<ellipse cx="150.2" cy="592.5" rx="0.8" ry="0.7" fill="#d4d4d4"/>
<ellipse cx="151.0" cy="595.3" rx="1.5" ry="1.2" fill="#d4d4d4"/>
<ellipse cx="154.5" cy="596.7" rx="0.8" ry="0.6" fill="#d4d4d4"/>
<ellipse cx="153.7" cy="595.6" rx="1.1" ry="1.0" fill="#d4d4d4"/>
<ellipse cx="153.5" cy="598.4" rx="1.1" ry="1.0" fill="#d4d4d4"/>
<ellipse cx="152.8" cy="599.3" rx="1.1" ry="1.0" fill="#d4d4d4"/>
<ellipse cx="153.0" cy="603.2" rx="1.0" ry="1.0" fill="#d4d4d4"/>
<ellipse cx="151.6" cy="605.4" rx="0.8" ry="0.6" fill="#d4d4d4"/>
<ellipse cx="151.8" cy="606.0" rx="1.5" ry="1.1" fill="#d4d4d4"/>
<ellipse cx="155.6" cy="603.7" rx="1.6" ry="1.1" fill="#d4d4d4"/>
<ellipse cx="156.7" cy="607.5" rx="1.3" ry="1.2" fill="#d4d4d4"/>
<ellipse cx="156.0" cy="605.8" rx="1.6" ry="1.2" fill="#d4d4d4"/>
<ellipse cx="155.3" cy="610.4" rx="0.6" ry="0.4" fill="#d4d4d4"/>
<ellipse cx="154.1" cy="611.0" rx="1.3" ry="0.8" fill="#d4d4d4"/>
<ellipse cx="160.6" cy="610.9" rx="1.4" ry="1.4" fill="#d4d4d4"/>
<ellipse cx="157.9" cy="614.2" rx="0.7" ry="0.5" fill="#d4d4d4"/>
<ellipse cx="159.8" cy="615.7" rx="0.7" ry="0.5" fill="#d4d4d4"/>
<ellipse cx="156.4" cy="615.4" rx="1.6" ry="1.2" fill="#d4d4d4"/>
<ellipse cx="155.5" cy="617.6" rx="0.9" ry="0.8" fill="#d4d4d4"/>
<ellipse cx="158.7" cy="620.1" rx="1.1" ry="1.1" fill="#d4d4d4"/>
<ellipse cx="159.4" cy="621.7" rx="1.5" ry="1.5" fill="#d4d4d4"/>
<ellipse cx="159.6" cy="625.9" rx="0.8" ry="0.6" fill="#d4d4d4"/>
<ellipse cx="163.8" cy="627.8" rx="1.5" ry="1.3" fill="#d4d4d4"/>
<ellipse cx="157.9" cy="627.3" rx="0.7" ry="0.5" fill="#d4d4d4"/>
<ellipse cx="159.3" cy="628.7" rx="1.0" ry="0.8" fill="#d4d4d4"/>
<ellipse cx="156.0" cy="634.0" rx="0.9" ry="0.8" fill="#d4d4d4"/>
<ellipse cx="160.8" cy="633.5" rx="0.9" ry="0.7" fill="#d4d4d4"/>
<ellipse cx="158.1" cy="634.5" rx="1.6" ry="1.3" fill="#d4d4d4"/>
<ellipse cx="161.9" cy="632.9" rx="1.4" ry="1.4" fill="#d4d4d4"/>
<ellipse cx="156.4" cy="635.6" rx="1.0" ry="0.9" fill="#d4d4d4"/>
<ellipse cx="157.7" cy="634.7" rx="1.3" ry="1.1" fill="#d4d4d4"/>
<ellipse cx="162.6" cy="635.4" rx="1.3" ry="0.8" fill="#d4d4d4"/>
<ellipse cx="160.5" cy="633.9" rx="1.2" ry="0.9" fill="#d4d4d4"/>
<ellipse cx="165.2" cy="635.1" rx="1.1" ry="1.0" fill="#d4d4d4"/>
<ellipse cx="160.5" cy="635.7" rx="0.7" ry="0.6" fill="#d4d4d4"/>
<ellipse cx="163.0" cy="634.3" rx="1.4" ry="0.9" fill="#d4d4d4"/>
<ellipse cx="163.0" cy="634.7" rx="1.4" ry="1.1" fill="#d4d4d4"/>
<ellipse cx="161.5" cy="635.7" rx="1.2" ry="0.8" fill="#d4d4d4"/>
</g>
</g>
<text x="174.80" y="530.70" font-size="22.5" text-anchor="end" fill="#fff">i</text>
<line x1="173.20" y1="625.10" x2="182.90" y2="625.10" stroke="#111" stroke-width="1.6"/>
<defs><clipPath id="mc2"><rect x="191.6" y="510.3" width="161.2" height="120.7"/></clipPath><clipPath id="mc2s"><path d="M189.6 516.5 L190.7 516.3 L192.1 516.0 L193.8 515.6 L195.7 515.2 L197.8 514.8 L199.9 514.3 L202.1 514.0 L204.2 513.7 L206.3 513.5 L208.3 513.5 L210.2 513.6 L212.0 513.7 L213.8 513.9 L215.6 514.2 L217.4 514.5 L219.3 514.9 L221.2 515.4 L223.1 516.0 L225.1 516.7 L227.2 517.4 L229.4 518.3 L231.6 519.2 L234.0 520.3 L236.3 521.5 L238.8 522.7 L241.2 524.0 L243.6 525.3 L246.1 526.6 L248.5 528.0 L250.9 529.3 L253.3 530.6 L255.6 531.9 L258.0 533.3 L260.4 534.6 L262.7 536.0 L265.1 537.5 L267.5 538.9 L269.9 540.4 L272.2 541.9 L274.6 543.5 L277.0 545.1 L279.5 546.8 L282.0 548.6 L284.5 550.4 L286.9 552.2 L289.4 554.0 L291.8 555.8 L294.1 557.7 L296.3 559.5 L298.4 561.3 L300.4 563.1 L302.3 564.8 L304.1 566.6 L305.8 568.3 L307.4 570.0 L309.0 571.8 L310.6 573.6 L312.0 575.4 L313.5 577.2 L314.9 579.1 L316.3 581.0 L317.6 583.0 L318.8 584.9 L320.1 586.9 L321.2 589.0 L322.3 591.0 L323.4 593.1 L324.4 595.1 L325.3 597.2 L326.2 599.3 L327.0 601.4 L327.8 603.7 L328.5 606.0 L329.2 608.3 L329.8 610.7 L330.3 612.9 L330.8 615.1 L331.3 617.2 L331.7 619.1 L332.1 620.8 L332.4 622.3 L332.7 623.7 L332.9 625.0 L333.1 626.1 L333.2 627.1 L333.3 628.1 L333.4 629.0 L333.4 629.8 L333.5 630.6 L333.6 631.3 L333.7 632.0 L333.7 632.6 L333.8 633.1 L333.8 633.6 L333.8 634.0 L333.9 634.3 L333.9 634.6 L333.9 634.9 L333.9 635.1 L333.9 635.3 L188.6 635.0 Z"/></clipPath><radialGradient id="mc2g" gradientUnits="userSpaceOnUse" cx="196.6" cy="656.3" r="141"><stop offset="0" stop-color="#041a05"/><stop offset="0.5" stop-color="#041a05"/><stop offset="0.88" stop-color="#0a2d0b"/><stop offset="0.94" stop-color="#0d3a0f"/><stop offset="1" stop-color="#0d3a0f"/></radialGradient></defs>
<rect x="191.60" y="510.30" width="161.20" height="120.70" fill="#000500"/>
<g clip-path="url(#mc2)">
<path d="M189.6 516.5 L190.7 516.3 L192.1 516.0 L193.8 515.6 L195.7 515.2 L197.8 514.8 L199.9 514.3 L202.1 514.0 L204.2 513.7 L206.3 513.5 L208.3 513.5 L210.2 513.6 L212.0 513.7 L213.8 513.9 L215.6 514.2 L217.4 514.5 L219.3 514.9 L221.2 515.4 L223.1 516.0 L225.1 516.7 L227.2 517.4 L229.4 518.3 L231.6 519.2 L234.0 520.3 L236.3 521.5 L238.8 522.7 L241.2 524.0 L243.6 525.3 L246.1 526.6 L248.5 528.0 L250.9 529.3 L253.3 530.6 L255.6 531.9 L258.0 533.3 L260.4 534.6 L262.7 536.0 L265.1 537.5 L267.5 538.9 L269.9 540.4 L272.2 541.9 L274.6 543.5 L277.0 545.1 L279.5 546.8 L282.0 548.6 L284.5 550.4 L286.9 552.2 L289.4 554.0 L291.8 555.8 L294.1 557.7 L296.3 559.5 L298.4 561.3 L300.4 563.1 L302.3 564.8 L304.1 566.6 L305.8 568.3 L307.4 570.0 L309.0 571.8 L310.6 573.6 L312.0 575.4 L313.5 577.2 L314.9 579.1 L316.3 581.0 L317.6 583.0 L318.8 584.9 L320.1 586.9 L321.2 589.0 L322.3 591.0 L323.4 593.1 L324.4 595.1 L325.3 597.2 L326.2 599.3 L327.0 601.4 L327.8 603.7 L328.5 606.0 L329.2 608.3 L329.8 610.7 L330.3 612.9 L330.8 615.1 L331.3 617.2 L331.7 619.1 L332.1 620.8 L332.4 622.3 L332.7 623.7 L332.9 625.0 L333.1 626.1 L333.2 627.1 L333.3 628.1 L333.4 629.0 L333.4 629.8 L333.5 630.6 L333.6 631.3 L333.7 632.0 L333.7 632.6 L333.8 633.1 L333.8 633.6 L333.8 634.0 L333.9 634.3 L333.9 634.6 L333.9 634.9 L333.9 635.1 L333.9 635.3 L188.6 635.0 Z" fill="url(#mc2g)"/>
<circle cx="189.89" cy="517.69" r="1.87" fill="#0d3a0f"/>
<circle cx="190.99" cy="517.61" r="2.32" fill="#0d3a0f"/>
<circle cx="192.13" cy="517.32" r="1.04" fill="#0d3a0f"/>
<circle cx="194.25" cy="516.12" r="1.91" fill="#0d3a0f"/>
<circle cx="195.48" cy="516.13" r="1.66" fill="#0d3a0f"/>
<circle cx="197.27" cy="515.37" r="1.80" fill="#0d3a0f"/>
<circle cx="200.30" cy="515.51" r="1.39" fill="#0d3a0f"/>
<circle cx="202.35" cy="514.53" r="1.22" fill="#0d3a0f"/>
<circle cx="203.83" cy="514.11" r="1.86" fill="#0d3a0f"/>
<circle cx="205.99" cy="514.15" r="2.22" fill="#0d3a0f"/>
<circle cx="208.60" cy="514.19" r="2.38" fill="#0d3a0f"/>
<circle cx="210.11" cy="514.65" r="2.35" fill="#0d3a0f"/>
<circle cx="212.33" cy="514.80" r="1.29" fill="#0d3a0f"/>
<circle cx="214.09" cy="514.60" r="2.35" fill="#0d3a0f"/>
<circle cx="215.16" cy="514.72" r="1.51" fill="#0d3a0f"/>
<circle cx="217.11" cy="515.51" r="1.09" fill="#0d3a0f"/>
<circle cx="219.32" cy="515.66" r="1.00" fill="#0d3a0f"/>
<circle cx="221.33" cy="516.29" r="1.43" fill="#0d3a0f"/>
<circle cx="222.92" cy="517.09" r="1.44" fill="#0d3a0f"/>
<circle cx="225.41" cy="517.06" r="1.08" fill="#0d3a0f"/>
<circle cx="227.35" cy="517.80" r="2.05" fill="#0d3a0f"/>
<circle cx="229.03" cy="519.21" r="2.10" fill="#0d3a0f"/>
<circle cx="230.96" cy="519.78" r="1.01" fill="#0d3a0f"/>
<circle cx="233.42" cy="521.43" r="2.34" fill="#0d3a0f"/>
<circle cx="236.52" cy="522.18" r="2.30" fill="#0d3a0f"/>
<circle cx="238.50" cy="523.84" r="1.50" fill="#0d3a0f"/>
<circle cx="241.15" cy="525.14" r="1.15" fill="#0d3a0f"/>
<circle cx="242.87" cy="526.60" r="2.20" fill="#0d3a0f"/>
<circle cx="245.60" cy="527.60" r="1.13" fill="#0d3a0f"/>
<circle cx="248.01" cy="529.24" r="2.29" fill="#0d3a0f"/>
<circle cx="250.36" cy="529.94" r="1.76" fill="#0d3a0f"/>
<circle cx="252.48" cy="531.08" r="1.25" fill="#0d3a0f"/>
<circle cx="255.75" cy="532.41" r="1.96" fill="#0d3a0f"/>
<circle cx="258.09" cy="534.12" r="1.07" fill="#0d3a0f"/>
<circle cx="259.69" cy="535.53" r="1.57" fill="#0d3a0f"/>
<circle cx="262.27" cy="536.74" r="2.16" fill="#0d3a0f"/>
<circle cx="265.08" cy="537.76" r="1.08" fill="#0d3a0f"/>
<circle cx="267.36" cy="539.30" r="1.69" fill="#0d3a0f"/>
<circle cx="269.82" cy="541.28" r="2.02" fill="#0d3a0f"/>
<circle cx="271.34" cy="542.61" r="2.10" fill="#0d3a0f"/>
<circle cx="274.43" cy="544.04" r="1.21" fill="#0d3a0f"/>
<circle cx="276.98" cy="546.22" r="1.63" fill="#0d3a0f"/>
<circle cx="278.88" cy="547.54" r="2.37" fill="#0d3a0f"/>
<circle cx="281.38" cy="549.07" r="2.02" fill="#0d3a0f"/>
<circle cx="283.54" cy="550.93" r="1.57" fill="#0d3a0f"/>
<circle cx="286.82" cy="552.98" r="2.38" fill="#0d3a0f"/>
<circle cx="288.63" cy="554.26" r="1.70" fill="#0d3a0f"/>
<circle cx="291.46" cy="556.87" r="1.38" fill="#0d3a0f"/>
<circle cx="293.76" cy="558.60" r="1.51" fill="#0d3a0f"/>
<circle cx="295.83" cy="560.39" r="1.97" fill="#0d3a0f"/>
<circle cx="297.95" cy="561.69" r="1.51" fill="#0d3a0f"/>
<circle cx="299.97" cy="563.86" r="1.68" fill="#0d3a0f"/>
<circle cx="302.02" cy="565.56" r="1.41" fill="#0d3a0f"/>
<circle cx="302.87" cy="567.19" r="1.81" fill="#0d3a0f"/>
<circle cx="305.25" cy="568.83" r="1.35" fill="#0d3a0f"/>
<circle cx="306.87" cy="570.90" r="2.14" fill="#0d3a0f"/>
<circle cx="308.45" cy="572.59" r="1.49" fill="#0d3a0f"/>
<circle cx="309.68" cy="574.46" r="2.16" fill="#0d3a0f"/>
<circle cx="311.50" cy="576.38" r="2.22" fill="#0d3a0f"/>
<circle cx="312.77" cy="577.76" r="2.34" fill="#0d3a0f"/>
<circle cx="314.48" cy="580.03" r="1.23" fill="#0d3a0f"/>
<circle cx="315.69" cy="581.72" r="1.67" fill="#0d3a0f"/>
<circle cx="316.48" cy="583.71" r="2.02" fill="#0d3a0f"/>
<circle cx="318.23" cy="585.32" r="1.81" fill="#0d3a0f"/>
<circle cx="319.54" cy="587.52" r="1.87" fill="#0d3a0f"/>
<circle cx="319.95" cy="589.06" r="2.01" fill="#0d3a0f"/>
<circle cx="321.67" cy="591.15" r="1.62" fill="#0d3a0f"/>
<circle cx="322.70" cy="593.01" r="1.96" fill="#0d3a0f"/>
<circle cx="323.28" cy="595.08" r="1.66" fill="#0d3a0f"/>
<circle cx="324.31" cy="597.27" r="1.19" fill="#0d3a0f"/>
<circle cx="324.91" cy="599.63" r="1.27" fill="#0d3a0f"/>
<circle cx="326.31" cy="601.89" r="1.53" fill="#0d3a0f"/>
<circle cx="327.36" cy="603.53" r="1.33" fill="#0d3a0f"/>
<circle cx="327.44" cy="606.23" r="1.57" fill="#0d3a0f"/>
<circle cx="328.65" cy="608.51" r="1.16" fill="#0d3a0f"/>
<circle cx="329.02" cy="610.54" r="1.05" fill="#0d3a0f"/>
<circle cx="329.30" cy="613.29" r="1.76" fill="#0d3a0f"/>
<circle cx="330.28" cy="615.30" r="2.34" fill="#0d3a0f"/>
<circle cx="330.57" cy="617.30" r="2.14" fill="#0d3a0f"/>
<circle cx="330.94" cy="619.39" r="1.20" fill="#0d3a0f"/>
<circle cx="331.70" cy="621.14" r="2.34" fill="#0d3a0f"/>
<circle cx="331.95" cy="622.04" r="1.49" fill="#0d3a0f"/>
<circle cx="331.89" cy="624.03" r="1.15" fill="#0d3a0f"/>
<circle cx="332.16" cy="625.56" r="1.20" fill="#0d3a0f"/>
<circle cx="332.13" cy="626.02" r="1.53" fill="#0d3a0f"/>
<circle cx="332.79" cy="627.21" r="1.41" fill="#0d3a0f"/>
<circle cx="332.83" cy="628.37" r="2.35" fill="#0d3a0f"/>
<circle cx="332.98" cy="629.15" r="1.36" fill="#0d3a0f"/>
<circle cx="332.38" cy="630.45" r="1.58" fill="#0d3a0f"/>
<circle cx="332.42" cy="630.71" r="1.69" fill="#0d3a0f"/>
<circle cx="332.84" cy="631.41" r="1.17" fill="#0d3a0f"/>
<circle cx="333.08" cy="632.47" r="1.41" fill="#0d3a0f"/>
<circle cx="332.89" cy="632.51" r="1.02" fill="#0d3a0f"/>
<circle cx="333.18" cy="633.00" r="2.31" fill="#0d3a0f"/>
<circle cx="332.59" cy="634.20" r="1.37" fill="#0d3a0f"/>
<circle cx="333.06" cy="634.08" r="1.41" fill="#0d3a0f"/>
<circle cx="333.07" cy="634.69" r="1.90" fill="#0d3a0f"/>
<circle cx="333.24" cy="634.54" r="1.17" fill="#0d3a0f"/>
<circle cx="332.83" cy="634.80" r="1.75" fill="#0d3a0f"/>
<circle cx="332.96" cy="635.09" r="1.74" fill="#0d3a0f"/>
<g clip-path="url(#mc2s)">
<ellipse cx="192.1" cy="519.5" rx="0.9" ry="0.8" fill="#020e03"/>
<ellipse cx="193.7" cy="517.9" rx="1.4" ry="1.2" fill="#020e03"/>
<ellipse cx="195.5" cy="524.6" rx="1.0" ry="0.7" fill="#020e03"/>
<ellipse cx="196.8" cy="523.6" rx="0.7" ry="0.5" fill="#020e03"/>
<ellipse cx="196.6" cy="522.2" rx="1.5" ry="1.2" fill="#020e03"/>
<ellipse cx="198.0" cy="520.0" rx="0.8" ry="0.5" fill="#020e03"/>
<ellipse cx="200.2" cy="520.7" rx="1.4" ry="1.2" fill="#020e03"/>
<ellipse cx="204.3" cy="522.9" rx="0.8" ry="0.7" fill="#020e03"/>
<ellipse cx="203.0" cy="518.1" rx="1.5" ry="1.2" fill="#020e03"/>
<ellipse cx="204.7" cy="519.5" rx="0.6" ry="0.4" fill="#020e03"/>
<ellipse cx="207.1" cy="518.4" rx="1.3" ry="1.0" fill="#020e03"/>
<ellipse cx="209.1" cy="519.3" rx="1.1" ry="0.7" fill="#020e03"/>
<ellipse cx="210.8" cy="520.1" rx="1.1" ry="0.9" fill="#020e03"/>
<ellipse cx="210.4" cy="519.5" rx="0.9" ry="0.6" fill="#020e03"/>
<ellipse cx="210.5" cy="518.9" rx="1.3" ry="1.2" fill="#020e03"/>
<ellipse cx="210.1" cy="520.6" rx="0.7" ry="0.5" fill="#020e03"/>
<ellipse cx="211.9" cy="518.8" rx="1.4" ry="0.9" fill="#020e03"/>
<ellipse cx="213.6" cy="521.6" rx="1.3" ry="1.3" fill="#020e03"/>
<ellipse cx="215.7" cy="520.3" rx="1.0" ry="0.8" fill="#020e03"/>
<ellipse cx="219.5" cy="520.0" rx="0.7" ry="0.7" fill="#020e03"/>
<ellipse cx="218.3" cy="523.0" rx="1.1" ry="1.0" fill="#020e03"/>
<ellipse cx="219.8" cy="516.7" rx="0.6" ry="0.6" fill="#020e03"/>
<ellipse cx="219.8" cy="523.8" rx="0.6" ry="0.5" fill="#020e03"/>
<ellipse cx="221.1" cy="520.1" rx="0.7" ry="0.5" fill="#020e03"/>
<ellipse cx="220.9" cy="523.4" rx="0.8" ry="0.5" fill="#020e03"/>
<ellipse cx="223.0" cy="521.5" rx="1.1" ry="0.8" fill="#020e03"/>
<ellipse cx="227.9" cy="526.0" rx="0.7" ry="0.6" fill="#020e03"/>
<ellipse cx="230.0" cy="521.3" rx="0.6" ry="0.5" fill="#020e03"/>
<ellipse cx="232.2" cy="525.0" rx="1.1" ry="0.9" fill="#020e03"/>
<ellipse cx="234.3" cy="524.3" rx="1.3" ry="1.0" fill="#020e03"/>
<ellipse cx="235.4" cy="522.4" rx="1.4" ry="1.1" fill="#020e03"/>
<ellipse cx="236.1" cy="528.1" rx="0.7" ry="0.6" fill="#020e03"/>
<ellipse cx="239.7" cy="526.2" rx="0.7" ry="0.5" fill="#020e03"/>
<ellipse cx="240.9" cy="530.6" rx="0.7" ry="0.4" fill="#020e03"/>
<ellipse cx="240.8" cy="529.3" rx="1.1" ry="0.7" fill="#020e03"/>
<ellipse cx="244.1" cy="533.7" rx="1.2" ry="0.7" fill="#020e03"/>
<ellipse cx="243.8" cy="532.1" rx="1.2" ry="1.0" fill="#020e03"/>
<ellipse cx="245.8" cy="531.6" rx="1.4" ry="1.0" fill="#020e03"/>
<ellipse cx="247.4" cy="535.0" rx="1.4" ry="0.9" fill="#020e03"/>
<ellipse cx="250.1" cy="530.9" rx="1.0" ry="0.6" fill="#020e03"/>
<ellipse cx="251.5" cy="532.5" rx="0.9" ry="0.7" fill="#020e03"/>
<ellipse cx="253.7" cy="539.0" rx="1.2" ry="1.0" fill="#020e03"/>
<ellipse cx="253.9" cy="537.9" rx="1.4" ry="1.3" fill="#020e03"/>
<ellipse cx="253.5" cy="538.9" rx="1.0" ry="0.7" fill="#020e03"/>
<ellipse cx="255.9" cy="541.4" rx="0.9" ry="0.7" fill="#020e03"/>
<ellipse cx="258.9" cy="537.8" rx="0.7" ry="0.7" fill="#020e03"/>
<ellipse cx="259.8" cy="539.0" rx="1.0" ry="0.8" fill="#020e03"/>
<ellipse cx="265.2" cy="543.6" rx="0.8" ry="0.8" fill="#020e03"/>
<ellipse cx="267.5" cy="543.8" rx="1.5" ry="1.2" fill="#020e03"/>
<ellipse cx="266.2" cy="550.2" rx="1.2" ry="0.9" fill="#020e03"/>
<ellipse cx="269.8" cy="550.7" rx="0.6" ry="0.6" fill="#020e03"/>
<ellipse cx="271.7" cy="546.6" rx="0.9" ry="0.7" fill="#020e03"/>
<ellipse cx="275.8" cy="549.8" rx="0.8" ry="0.8" fill="#020e03"/>
<ellipse cx="277.6" cy="547.8" rx="1.4" ry="1.0" fill="#020e03"/>
<ellipse cx="276.7" cy="555.0" rx="1.5" ry="1.1" fill="#020e03"/>
<ellipse cx="285.9" cy="552.8" rx="1.1" ry="0.8" fill="#020e03"/>
<ellipse cx="287.6" cy="555.6" rx="0.9" ry="0.8" fill="#020e03"/>
<ellipse cx="284.7" cy="561.2" rx="1.4" ry="1.2" fill="#020e03"/>
<ellipse cx="286.9" cy="561.9" rx="1.0" ry="0.8" fill="#020e03"/>
<ellipse cx="289.6" cy="557.9" rx="0.7" ry="0.6" fill="#020e03"/>
<ellipse cx="288.8" cy="562.4" rx="0.9" ry="0.8" fill="#020e03"/>
<ellipse cx="297.2" cy="569.9" rx="1.5" ry="1.2" fill="#020e03"/>
<ellipse cx="301.5" cy="568.3" rx="1.0" ry="1.0" fill="#020e03"/>
<ellipse cx="303.8" cy="570.7" rx="1.3" ry="1.0" fill="#020e03"/>
<ellipse cx="304.5" cy="573.8" rx="0.9" ry="0.6" fill="#020e03"/>
<ellipse cx="309.6" cy="576.2" rx="1.2" ry="1.0" fill="#020e03"/>
<ellipse cx="307.7" cy="575.9" rx="1.1" ry="0.8" fill="#020e03"/>
<ellipse cx="311.8" cy="578.8" rx="0.7" ry="0.5" fill="#020e03"/>
<ellipse cx="309.0" cy="581.4" rx="1.2" ry="0.8" fill="#020e03"/>
<ellipse cx="307.8" cy="584.4" rx="1.6" ry="1.3" fill="#020e03"/>
<ellipse cx="310.4" cy="583.5" rx="1.4" ry="1.0" fill="#020e03"/>
<ellipse cx="314.4" cy="581.2" rx="0.8" ry="0.7" fill="#020e03"/>
<ellipse cx="319.0" cy="591.9" rx="0.7" ry="0.5" fill="#020e03"/>
<ellipse cx="318.7" cy="594.1" rx="1.1" ry="1.0" fill="#020e03"/>
<ellipse cx="319.6" cy="599.4" rx="1.1" ry="0.7" fill="#020e03"/>
<ellipse cx="322.3" cy="599.1" rx="1.1" ry="1.0" fill="#020e03"/>
<ellipse cx="323.1" cy="601.8" rx="1.1" ry="0.9" fill="#020e03"/>
<ellipse cx="322.3" cy="599.7" rx="1.4" ry="1.1" fill="#020e03"/>
<ellipse cx="320.2" cy="602.8" rx="0.7" ry="0.5" fill="#020e03"/>
<ellipse cx="322.2" cy="605.0" rx="1.5" ry="1.4" fill="#020e03"/>
<ellipse cx="319.5" cy="605.7" rx="1.0" ry="0.8" fill="#020e03"/>
<ellipse cx="322.4" cy="609.4" rx="0.7" ry="0.5" fill="#020e03"/>
<ellipse cx="327.4" cy="607.5" rx="0.9" ry="0.7" fill="#020e03"/>
<ellipse cx="324.5" cy="610.2" rx="1.4" ry="1.3" fill="#020e03"/>
<ellipse cx="327.5" cy="612.5" rx="1.4" ry="1.3" fill="#020e03"/>
<ellipse cx="322.9" cy="614.6" rx="1.4" ry="1.2" fill="#020e03"/>
<ellipse cx="321.6" cy="617.5" rx="1.6" ry="1.1" fill="#020e03"/>
<ellipse cx="325.9" cy="615.3" rx="1.3" ry="1.0" fill="#020e03"/>
<ellipse cx="328.0" cy="617.6" rx="1.5" ry="0.9" fill="#020e03"/>
<ellipse cx="330.1" cy="621.2" rx="0.8" ry="0.5" fill="#020e03"/>
<ellipse cx="328.0" cy="621.7" rx="0.9" ry="0.8" fill="#020e03"/>
<ellipse cx="327.3" cy="621.0" rx="1.6" ry="1.0" fill="#020e03"/>
<ellipse cx="328.2" cy="624.8" rx="1.1" ry="0.8" fill="#020e03"/>
<ellipse cx="329.7" cy="623.5" rx="1.1" ry="0.9" fill="#020e03"/>
<ellipse cx="325.7" cy="627.0" rx="1.0" ry="0.9" fill="#020e03"/>
<ellipse cx="327.2" cy="625.7" rx="0.6" ry="0.4" fill="#020e03"/>
<ellipse cx="329.3" cy="626.8" rx="1.3" ry="1.0" fill="#020e03"/>
<ellipse cx="328.9" cy="628.6" rx="1.5" ry="1.4" fill="#020e03"/>
<ellipse cx="328.1" cy="630.1" rx="1.5" ry="1.4" fill="#020e03"/>
<ellipse cx="329.2" cy="629.0" rx="1.1" ry="0.9" fill="#020e03"/>
<ellipse cx="329.8" cy="631.7" rx="0.9" ry="0.7" fill="#020e03"/>
<ellipse cx="325.4" cy="632.2" rx="1.3" ry="1.1" fill="#020e03"/>
<ellipse cx="326.5" cy="632.9" rx="0.8" ry="0.7" fill="#020e03"/>
<ellipse cx="331.4" cy="632.0" rx="0.7" ry="0.4" fill="#020e03"/>
<ellipse cx="327.1" cy="631.3" rx="1.1" ry="0.9" fill="#020e03"/>
<ellipse cx="327.1" cy="632.4" rx="1.2" ry="1.2" fill="#020e03"/>
<ellipse cx="330.0" cy="631.1" rx="1.3" ry="1.0" fill="#020e03"/>
<ellipse cx="326.2" cy="635.0" rx="1.4" ry="1.0" fill="#020e03"/>
<ellipse cx="331.9" cy="635.1" rx="1.4" ry="1.1" fill="#020e03"/>
<ellipse cx="331.7" cy="633.3" rx="0.9" ry="0.5" fill="#020e03"/>
<ellipse cx="331.7" cy="634.8" rx="1.0" ry="0.7" fill="#020e03"/>
<ellipse cx="328.3" cy="635.0" rx="1.3" ry="1.2" fill="#020e03"/>
<ellipse cx="330.1" cy="636.1" rx="1.1" ry="0.9" fill="#020e03"/>
<ellipse cx="325.9" cy="634.6" rx="1.4" ry="1.0" fill="#020e03"/>
<ellipse cx="326.1" cy="636.3" rx="0.9" ry="0.8" fill="#020e03"/>
<ellipse cx="325.4" cy="636.4" rx="0.9" ry="0.9" fill="#020e03"/>
<ellipse cx="331.2" cy="635.6" rx="1.6" ry="1.4" fill="#020e03"/>
<ellipse cx="327.9" cy="634.5" rx="0.9" ry="0.8" fill="#020e03"/>
<ellipse cx="325.3" cy="635.4" rx="0.7" ry="0.6" fill="#020e03"/>
</g>
</g>
<text x="342.40" y="530.70" font-size="22.5" text-anchor="end" fill="#fff">ii</text>
<line x1="338.70" y1="625.10" x2="347.70" y2="625.10" stroke="#fff" stroke-width="1.6"/>
<defs><clipPath id="mc3"><rect x="356.2" y="510.3" width="161.3" height="120.7"/></clipPath><clipPath id="mc3s"><path d="M354.2 516.5 L355.3 516.3 L356.7 516.0 L358.4 515.6 L360.3 515.2 L362.4 514.8 L364.5 514.3 L366.7 514.0 L368.8 513.7 L370.9 513.5 L372.9 513.5 L374.8 513.6 L376.6 513.7 L378.4 513.9 L380.2 514.2 L382.0 514.5 L383.9 514.9 L385.8 515.4 L387.7 516.0 L389.7 516.7 L391.8 517.4 L394.0 518.3 L396.2 519.2 L398.6 520.3 L400.9 521.5 L403.4 522.7 L405.8 524.0 L408.2 525.3 L410.7 526.6 L413.1 528.0 L415.5 529.3 L417.9 530.6 L420.2 531.9 L422.6 533.3 L425.0 534.6 L427.3 536.0 L429.7 537.5 L432.1 538.9 L434.5 540.4 L436.8 541.9 L439.2 543.5 L441.6 545.1 L444.1 546.8 L446.6 548.6 L449.1 550.4 L451.5 552.2 L454.0 554.0 L456.4 555.8 L458.7 557.7 L460.9 559.5 L463.0 561.3 L465.0 563.1 L466.9 564.8 L468.7 566.6 L470.4 568.3 L472.0 570.0 L473.6 571.8 L475.2 573.6 L476.6 575.4 L478.1 577.2 L479.5 579.1 L480.9 581.0 L482.2 583.0 L483.4 584.9 L484.7 586.9 L485.8 589.0 L486.9 591.0 L488.0 593.1 L489.0 595.1 L489.9 597.2 L490.8 599.3 L491.6 601.4 L492.4 603.7 L493.1 606.0 L493.8 608.3 L494.4 610.7 L494.9 612.9 L495.4 615.1 L495.9 617.2 L496.3 619.1 L496.7 620.8 L497.0 622.3 L497.3 623.7 L497.5 625.0 L497.7 626.1 L497.8 627.1 L497.9 628.1 L498.0 629.0 L498.0 629.8 L498.1 630.6 L498.2 631.3 L498.3 632.0 L498.3 632.6 L498.4 633.1 L498.4 633.6 L498.4 634.0 L498.5 634.3 L498.5 634.6 L498.5 634.9 L498.5 635.1 L498.5 635.3 L353.2 635.0 Z"/></clipPath><radialGradient id="mc3g" gradientUnits="userSpaceOnUse" cx="361.2" cy="656.3" r="141"><stop offset="0" stop-color="#1a0303"/><stop offset="0.5" stop-color="#1a0303"/><stop offset="0.88" stop-color="#260505"/><stop offset="0.94" stop-color="#300707"/><stop offset="1" stop-color="#300707"/></radialGradient></defs>
<rect x="356.20" y="510.30" width="161.30" height="120.70" fill="#040000"/>
<g clip-path="url(#mc3)">
<path d="M354.2 516.5 L355.3 516.3 L356.7 516.0 L358.4 515.6 L360.3 515.2 L362.4 514.8 L364.5 514.3 L366.7 514.0 L368.8 513.7 L370.9 513.5 L372.9 513.5 L374.8 513.6 L376.6 513.7 L378.4 513.9 L380.2 514.2 L382.0 514.5 L383.9 514.9 L385.8 515.4 L387.7 516.0 L389.7 516.7 L391.8 517.4 L394.0 518.3 L396.2 519.2 L398.6 520.3 L400.9 521.5 L403.4 522.7 L405.8 524.0 L408.2 525.3 L410.7 526.6 L413.1 528.0 L415.5 529.3 L417.9 530.6 L420.2 531.9 L422.6 533.3 L425.0 534.6 L427.3 536.0 L429.7 537.5 L432.1 538.9 L434.5 540.4 L436.8 541.9 L439.2 543.5 L441.6 545.1 L444.1 546.8 L446.6 548.6 L449.1 550.4 L451.5 552.2 L454.0 554.0 L456.4 555.8 L458.7 557.7 L460.9 559.5 L463.0 561.3 L465.0 563.1 L466.9 564.8 L468.7 566.6 L470.4 568.3 L472.0 570.0 L473.6 571.8 L475.2 573.6 L476.6 575.4 L478.1 577.2 L479.5 579.1 L480.9 581.0 L482.2 583.0 L483.4 584.9 L484.7 586.9 L485.8 589.0 L486.9 591.0 L488.0 593.1 L489.0 595.1 L489.9 597.2 L490.8 599.3 L491.6 601.4 L492.4 603.7 L493.1 606.0 L493.8 608.3 L494.4 610.7 L494.9 612.9 L495.4 615.1 L495.9 617.2 L496.3 619.1 L496.7 620.8 L497.0 622.3 L497.3 623.7 L497.5 625.0 L497.7 626.1 L497.8 627.1 L497.9 628.1 L498.0 629.0 L498.0 629.8 L498.1 630.6 L498.2 631.3 L498.3 632.0 L498.3 632.6 L498.4 633.1 L498.4 633.6 L498.4 634.0 L498.5 634.3 L498.5 634.6 L498.5 634.9 L498.5 635.1 L498.5 635.3 L353.2 635.0 Z" fill="url(#mc3g)"/>
<circle cx="353.90" cy="517.55" r="1.45" fill="#300707"/>
<circle cx="355.39" cy="517.06" r="1.10" fill="#300707"/>
<circle cx="356.78" cy="516.42" r="1.08" fill="#300707"/>
<circle cx="358.02" cy="516.09" r="1.61" fill="#300707"/>
<circle cx="360.66" cy="515.71" r="1.59" fill="#300707"/>
<circle cx="362.49" cy="516.10" r="1.31" fill="#300707"/>
<circle cx="364.38" cy="515.72" r="1.81" fill="#300707"/>
<circle cx="367.01" cy="514.68" r="1.07" fill="#300707"/>
<circle cx="368.42" cy="514.41" r="1.20" fill="#300707"/>
<circle cx="370.56" cy="514.51" r="2.14" fill="#300707"/>
<circle cx="372.70" cy="514.44" r="1.89" fill="#300707"/>
<circle cx="374.23" cy="514.18" r="1.09" fill="#300707"/>
<circle cx="376.42" cy="514.42" r="1.95" fill="#300707"/>
<circle cx="378.25" cy="514.60" r="1.82" fill="#300707"/>
<circle cx="380.29" cy="514.82" r="2.11" fill="#300707"/>
<circle cx="381.93" cy="515.78" r="1.80" fill="#300707"/>
<circle cx="383.53" cy="516.30" r="2.02" fill="#300707"/>
<circle cx="385.53" cy="516.57" r="1.17" fill="#300707"/>
<circle cx="387.53" cy="516.42" r="1.21" fill="#300707"/>
<circle cx="389.80" cy="517.61" r="1.94" fill="#300707"/>
<circle cx="391.42" cy="518.47" r="2.23" fill="#300707"/>
<circle cx="393.85" cy="519.09" r="1.83" fill="#300707"/>
<circle cx="396.45" cy="520.08" r="2.18" fill="#300707"/>
<circle cx="397.88" cy="521.38" r="1.93" fill="#300707"/>
<circle cx="401.17" cy="522.66" r="1.91" fill="#300707"/>
<circle cx="402.96" cy="523.73" r="1.40" fill="#300707"/>
<circle cx="405.46" cy="524.51" r="1.03" fill="#300707"/>
<circle cx="407.49" cy="526.42" r="1.16" fill="#300707"/>
<circle cx="410.11" cy="527.38" r="1.18" fill="#300707"/>
<circle cx="412.35" cy="528.76" r="2.22" fill="#300707"/>
<circle cx="415.53" cy="530.45" r="1.77" fill="#300707"/>
<circle cx="417.28" cy="531.35" r="2.21" fill="#300707"/>
<circle cx="420.24" cy="533.21" r="1.50" fill="#300707"/>
<circle cx="421.88" cy="533.81" r="1.21" fill="#300707"/>
<circle cx="424.54" cy="535.53" r="1.33" fill="#300707"/>
<circle cx="426.41" cy="536.74" r="1.37" fill="#300707"/>
<circle cx="429.33" cy="538.68" r="1.52" fill="#300707"/>
<circle cx="431.63" cy="539.79" r="1.97" fill="#300707"/>
<circle cx="433.53" cy="541.55" r="1.95" fill="#300707"/>
<circle cx="436.70" cy="542.97" r="2.09" fill="#300707"/>
<circle cx="438.59" cy="543.84" r="1.55" fill="#300707"/>
<circle cx="440.64" cy="545.43" r="1.89" fill="#300707"/>
<circle cx="443.19" cy="547.39" r="1.29" fill="#300707"/>
<circle cx="445.50" cy="548.93" r="1.07" fill="#300707"/>
<circle cx="448.35" cy="550.58" r="1.14" fill="#300707"/>
<circle cx="451.07" cy="552.50" r="2.22" fill="#300707"/>
<circle cx="453.24" cy="554.54" r="1.35" fill="#300707"/>
<circle cx="456.12" cy="556.99" r="1.17" fill="#300707"/>
<circle cx="458.06" cy="557.91" r="1.65" fill="#300707"/>
<circle cx="460.11" cy="559.90" r="1.14" fill="#300707"/>
<circle cx="462.00" cy="561.44" r="2.16" fill="#300707"/>
<circle cx="464.33" cy="563.32" r="2.33" fill="#300707"/>
<circle cx="465.70" cy="565.44" r="1.76" fill="#300707"/>
<circle cx="468.32" cy="567.34" r="2.37" fill="#300707"/>
<circle cx="469.54" cy="568.54" r="1.37" fill="#300707"/>
<circle cx="471.35" cy="570.88" r="2.08" fill="#300707"/>
<circle cx="472.63" cy="572.66" r="1.46" fill="#300707"/>
<circle cx="474.79" cy="574.42" r="2.38" fill="#300707"/>
<circle cx="476.15" cy="575.63" r="2.15" fill="#300707"/>
<circle cx="477.20" cy="577.26" r="1.72" fill="#300707"/>
<circle cx="478.53" cy="579.35" r="1.04" fill="#300707"/>
<circle cx="480.56" cy="581.44" r="1.97" fill="#300707"/>
<circle cx="481.90" cy="583.89" r="2.31" fill="#300707"/>
<circle cx="482.39" cy="585.12" r="1.51" fill="#300707"/>
<circle cx="483.57" cy="587.51" r="1.28" fill="#300707"/>
<circle cx="485.36" cy="589.38" r="2.26" fill="#300707"/>
<circle cx="486.42" cy="591.01" r="1.91" fill="#300707"/>
<circle cx="487.58" cy="593.75" r="1.92" fill="#300707"/>
<circle cx="488.14" cy="595.21" r="2.05" fill="#300707"/>
<circle cx="488.93" cy="597.89" r="2.10" fill="#300707"/>
<circle cx="489.87" cy="599.56" r="2.36" fill="#300707"/>
<circle cx="491.02" cy="601.47" r="2.33" fill="#300707"/>
<circle cx="491.21" cy="604.43" r="1.18" fill="#300707"/>
<circle cx="491.91" cy="606.65" r="2.13" fill="#300707"/>
<circle cx="493.07" cy="608.49" r="2.37" fill="#300707"/>
<circle cx="493.14" cy="610.46" r="1.77" fill="#300707"/>
<circle cx="494.21" cy="613.23" r="2.36" fill="#300707"/>
<circle cx="494.50" cy="615.75" r="2.31" fill="#300707"/>
<circle cx="494.73" cy="617.19" r="2.16" fill="#300707"/>
<circle cx="495.19" cy="619.42" r="1.41" fill="#300707"/>
<circle cx="495.75" cy="620.66" r="1.36" fill="#300707"/>
<circle cx="496.01" cy="622.50" r="2.27" fill="#300707"/>
<circle cx="496.83" cy="623.84" r="1.82" fill="#300707"/>
<circle cx="496.64" cy="625.20" r="2.28" fill="#300707"/>
<circle cx="496.31" cy="626.24" r="1.73" fill="#300707"/>
<circle cx="496.42" cy="627.63" r="1.26" fill="#300707"/>
<circle cx="496.99" cy="628.50" r="1.24" fill="#300707"/>
<circle cx="496.92" cy="629.17" r="1.78" fill="#300707"/>
<circle cx="497.45" cy="629.57" r="1.78" fill="#300707"/>
<circle cx="496.98" cy="630.51" r="1.78" fill="#300707"/>
<circle cx="497.32" cy="631.52" r="2.08" fill="#300707"/>
<circle cx="497.81" cy="632.08" r="2.06" fill="#300707"/>
<circle cx="497.46" cy="632.75" r="1.86" fill="#300707"/>
<circle cx="497.45" cy="633.29" r="1.97" fill="#300707"/>
<circle cx="497.97" cy="633.91" r="1.67" fill="#300707"/>
<circle cx="498.00" cy="633.86" r="2.23" fill="#300707"/>
<circle cx="498.01" cy="634.78" r="1.78" fill="#300707"/>
<circle cx="497.20" cy="634.68" r="1.19" fill="#300707"/>
<circle cx="497.33" cy="634.57" r="1.10" fill="#300707"/>
<circle cx="497.88" cy="635.63" r="1.94" fill="#300707"/>
<g clip-path="url(#mc3s)">
<ellipse cx="355.9" cy="524.1" rx="1.3" ry="1.2" fill="#0c0000"/>
<ellipse cx="357.0" cy="526.1" rx="1.0" ry="0.9" fill="#0c0000"/>
<ellipse cx="358.0" cy="519.7" rx="1.1" ry="0.8" fill="#0c0000"/>
<ellipse cx="358.9" cy="520.6" rx="1.0" ry="0.9" fill="#0c0000"/>
<ellipse cx="361.2" cy="519.0" rx="1.6" ry="1.0" fill="#0c0000"/>
<ellipse cx="361.7" cy="515.9" rx="1.4" ry="1.1" fill="#0c0000"/>
<ellipse cx="364.6" cy="518.0" rx="1.5" ry="1.0" fill="#0c0000"/>
<ellipse cx="365.1" cy="522.1" rx="1.0" ry="0.9" fill="#0c0000"/>
<ellipse cx="369.5" cy="521.5" rx="0.7" ry="0.5" fill="#0c0000"/>
<ellipse cx="367.3" cy="522.3" rx="0.9" ry="0.6" fill="#0c0000"/>
<ellipse cx="369.8" cy="516.1" rx="0.7" ry="0.5" fill="#0c0000"/>
<ellipse cx="372.0" cy="517.5" rx="0.8" ry="0.5" fill="#0c0000"/>
<ellipse cx="371.4" cy="520.5" rx="1.2" ry="1.1" fill="#0c0000"/>
<ellipse cx="374.0" cy="522.3" rx="1.0" ry="0.8" fill="#0c0000"/>
<ellipse cx="373.6" cy="521.4" rx="1.6" ry="1.4" fill="#0c0000"/>
<ellipse cx="375.0" cy="516.8" rx="0.7" ry="0.6" fill="#0c0000"/>
<ellipse cx="379.1" cy="518.1" rx="0.7" ry="0.6" fill="#0c0000"/>
<ellipse cx="377.8" cy="516.6" rx="0.9" ry="0.7" fill="#0c0000"/>
<ellipse cx="379.2" cy="522.1" rx="1.6" ry="1.6" fill="#0c0000"/>
<ellipse cx="379.3" cy="518.6" rx="0.6" ry="0.5" fill="#0c0000"/>
<ellipse cx="380.5" cy="518.8" rx="0.6" ry="0.5" fill="#0c0000"/>
<ellipse cx="380.9" cy="516.9" rx="0.9" ry="0.7" fill="#0c0000"/>
<ellipse cx="385.9" cy="520.9" rx="1.6" ry="1.4" fill="#0c0000"/>
<ellipse cx="386.6" cy="524.4" rx="1.5" ry="1.4" fill="#0c0000"/>
<ellipse cx="389.6" cy="523.1" rx="1.1" ry="1.0" fill="#0c0000"/>
<ellipse cx="388.6" cy="523.9" rx="1.3" ry="0.8" fill="#0c0000"/>
<ellipse cx="391.8" cy="522.0" rx="0.7" ry="0.6" fill="#0c0000"/>
<ellipse cx="394.3" cy="520.2" rx="1.4" ry="1.1" fill="#0c0000"/>
<ellipse cx="393.2" cy="525.5" rx="0.9" ry="0.8" fill="#0c0000"/>
<ellipse cx="396.6" cy="526.9" rx="1.6" ry="1.2" fill="#0c0000"/>
<ellipse cx="403.2" cy="525.0" rx="0.9" ry="0.7" fill="#0c0000"/>
<ellipse cx="405.5" cy="526.9" rx="0.9" ry="0.8" fill="#0c0000"/>
<ellipse cx="403.9" cy="528.2" rx="1.1" ry="1.0" fill="#0c0000"/>
<ellipse cx="403.8" cy="533.5" rx="1.5" ry="1.4" fill="#0c0000"/>
<ellipse cx="410.6" cy="529.4" rx="0.8" ry="0.7" fill="#0c0000"/>
<ellipse cx="407.6" cy="532.9" rx="1.6" ry="1.2" fill="#0c0000"/>
<ellipse cx="410.8" cy="535.4" rx="1.1" ry="0.9" fill="#0c0000"/>
<ellipse cx="413.4" cy="532.5" rx="0.7" ry="0.7" fill="#0c0000"/>
<ellipse cx="413.7" cy="538.5" rx="1.4" ry="1.3" fill="#0c0000"/>
<ellipse cx="419.8" cy="536.4" rx="1.0" ry="0.7" fill="#0c0000"/>
<ellipse cx="417.4" cy="536.5" rx="0.6" ry="0.5" fill="#0c0000"/>
<ellipse cx="420.0" cy="536.4" rx="1.1" ry="1.1" fill="#0c0000"/>
<ellipse cx="426.9" cy="543.4" rx="0.6" ry="0.6" fill="#0c0000"/>
<ellipse cx="429.8" cy="540.8" rx="1.5" ry="1.1" fill="#0c0000"/>
<ellipse cx="429.9" cy="546.9" rx="1.6" ry="1.1" fill="#0c0000"/>
<ellipse cx="430.9" cy="543.5" rx="0.8" ry="0.7" fill="#0c0000"/>
<ellipse cx="436.4" cy="544.7" rx="1.5" ry="1.0" fill="#0c0000"/>
<ellipse cx="434.1" cy="543.3" rx="0.9" ry="0.7" fill="#0c0000"/>
<ellipse cx="434.3" cy="550.0" rx="1.3" ry="1.1" fill="#0c0000"/>
<ellipse cx="436.0" cy="548.5" rx="0.7" ry="0.4" fill="#0c0000"/>
<ellipse cx="437.0" cy="549.6" rx="1.5" ry="1.0" fill="#0c0000"/>
<ellipse cx="439.7" cy="550.4" rx="1.6" ry="0.9" fill="#0c0000"/>
<ellipse cx="439.8" cy="552.6" rx="1.5" ry="0.9" fill="#0c0000"/>
<ellipse cx="440.0" cy="555.0" rx="1.4" ry="1.0" fill="#0c0000"/>
<ellipse cx="445.2" cy="552.3" rx="1.1" ry="1.0" fill="#0c0000"/>
<ellipse cx="446.2" cy="554.1" rx="0.6" ry="0.6" fill="#0c0000"/>
<ellipse cx="450.1" cy="555.0" rx="0.9" ry="0.5" fill="#0c0000"/>
<ellipse cx="449.9" cy="557.4" rx="1.2" ry="1.0" fill="#0c0000"/>
<ellipse cx="452.6" cy="557.5" rx="1.1" ry="1.0" fill="#0c0000"/>
<ellipse cx="455.3" cy="559.1" rx="0.8" ry="0.6" fill="#0c0000"/>
<ellipse cx="452.4" cy="559.1" rx="1.3" ry="1.1" fill="#0c0000"/>
<ellipse cx="456.9" cy="559.8" rx="0.9" ry="0.6" fill="#0c0000"/>
<ellipse cx="459.9" cy="564.6" rx="1.6" ry="1.1" fill="#0c0000"/>
<ellipse cx="459.0" cy="566.3" rx="0.9" ry="0.6" fill="#0c0000"/>
<ellipse cx="462.7" cy="565.3" rx="1.3" ry="1.0" fill="#0c0000"/>
<ellipse cx="457.1" cy="567.6" rx="0.7" ry="0.6" fill="#0c0000"/>
<ellipse cx="468.5" cy="569.0" rx="1.5" ry="1.3" fill="#0c0000"/>
<ellipse cx="467.4" cy="571.4" rx="0.9" ry="0.7" fill="#0c0000"/>
<ellipse cx="466.6" cy="574.5" rx="0.7" ry="0.5" fill="#0c0000"/>
<ellipse cx="472.9" cy="576.2" rx="1.1" ry="0.7" fill="#0c0000"/>
<ellipse cx="468.2" cy="579.4" rx="0.6" ry="0.6" fill="#0c0000"/>
<ellipse cx="476.1" cy="575.9" rx="0.7" ry="0.6" fill="#0c0000"/>
<ellipse cx="475.2" cy="578.7" rx="1.6" ry="1.4" fill="#0c0000"/>
<ellipse cx="475.6" cy="580.7" rx="0.6" ry="0.5" fill="#0c0000"/>
<ellipse cx="477.8" cy="582.4" rx="1.1" ry="0.8" fill="#0c0000"/>
<ellipse cx="477.9" cy="582.7" rx="1.1" ry="1.0" fill="#0c0000"/>
<ellipse cx="480.6" cy="585.8" rx="1.0" ry="0.7" fill="#0c0000"/>
<ellipse cx="482.7" cy="587.6" rx="0.6" ry="0.6" fill="#0c0000"/>
<ellipse cx="484.6" cy="592.8" rx="0.7" ry="0.5" fill="#0c0000"/>
<ellipse cx="483.1" cy="594.0" rx="1.2" ry="1.1" fill="#0c0000"/>
<ellipse cx="481.1" cy="596.2" rx="0.9" ry="0.8" fill="#0c0000"/>
<ellipse cx="484.6" cy="597.9" rx="0.8" ry="0.7" fill="#0c0000"/>
<ellipse cx="484.7" cy="596.4" rx="1.6" ry="1.5" fill="#0c0000"/>
<ellipse cx="486.9" cy="602.7" rx="1.4" ry="0.9" fill="#0c0000"/>
<ellipse cx="489.6" cy="600.7" rx="0.8" ry="0.8" fill="#0c0000"/>
<ellipse cx="483.5" cy="605.4" rx="1.0" ry="1.0" fill="#0c0000"/>
<ellipse cx="485.1" cy="603.4" rx="1.2" ry="0.8" fill="#0c0000"/>
<ellipse cx="489.3" cy="604.2" rx="1.2" ry="0.7" fill="#0c0000"/>
<ellipse cx="485.6" cy="605.3" rx="0.8" ry="0.7" fill="#0c0000"/>
<ellipse cx="490.5" cy="607.0" rx="0.7" ry="0.6" fill="#0c0000"/>
<ellipse cx="489.9" cy="606.5" rx="1.3" ry="0.9" fill="#0c0000"/>
<ellipse cx="487.9" cy="611.5" rx="1.0" ry="1.0" fill="#0c0000"/>
<ellipse cx="490.3" cy="610.3" rx="1.3" ry="1.3" fill="#0c0000"/>
<ellipse cx="488.2" cy="613.0" rx="1.0" ry="0.7" fill="#0c0000"/>
<ellipse cx="490.6" cy="613.5" rx="1.2" ry="1.1" fill="#0c0000"/>
<ellipse cx="489.0" cy="614.7" rx="0.7" ry="0.7" fill="#0c0000"/>
<ellipse cx="491.6" cy="615.8" rx="1.4" ry="0.9" fill="#0c0000"/>
<ellipse cx="493.3" cy="619.1" rx="1.5" ry="1.3" fill="#0c0000"/>
<ellipse cx="488.8" cy="622.1" rx="0.8" ry="0.8" fill="#0c0000"/>
<ellipse cx="493.3" cy="621.3" rx="1.0" ry="0.6" fill="#0c0000"/>
<ellipse cx="488.5" cy="622.8" rx="1.5" ry="1.4" fill="#0c0000"/>
<ellipse cx="489.7" cy="624.4" rx="0.7" ry="0.6" fill="#0c0000"/>
<ellipse cx="492.0" cy="624.0" rx="1.2" ry="0.9" fill="#0c0000"/>
<ellipse cx="495.2" cy="623.4" rx="1.2" ry="1.1" fill="#0c0000"/>
<ellipse cx="493.2" cy="624.6" rx="1.1" ry="0.8" fill="#0c0000"/>
<ellipse cx="491.2" cy="626.5" rx="1.1" ry="0.7" fill="#0c0000"/>
<ellipse cx="495.1" cy="629.0" rx="1.1" ry="0.7" fill="#0c0000"/>
<ellipse cx="490.6" cy="632.0" rx="1.1" ry="0.7" fill="#0c0000"/>
<ellipse cx="492.7" cy="632.6" rx="1.4" ry="1.0" fill="#0c0000"/>
<ellipse cx="491.9" cy="631.6" rx="1.5" ry="1.2" fill="#0c0000"/>
<ellipse cx="495.0" cy="633.0" rx="0.8" ry="0.7" fill="#0c0000"/>
<ellipse cx="491.0" cy="633.7" rx="0.7" ry="0.5" fill="#0c0000"/>
<ellipse cx="491.2" cy="635.1" rx="1.5" ry="1.3" fill="#0c0000"/>
<ellipse cx="492.4" cy="634.6" rx="0.9" ry="0.6" fill="#0c0000"/>
<ellipse cx="493.9" cy="635.0" rx="1.3" ry="0.9" fill="#0c0000"/>
<ellipse cx="490.4" cy="633.6" rx="0.9" ry="0.6" fill="#0c0000"/>
<ellipse cx="491.8" cy="634.4" rx="1.5" ry="1.3" fill="#0c0000"/>
<ellipse cx="495.3" cy="634.5" rx="1.0" ry="0.7" fill="#0c0000"/>
<ellipse cx="492.8" cy="635.5" rx="0.8" ry="0.5" fill="#0c0000"/>
<ellipse cx="495.9" cy="636.4" rx="0.7" ry="0.6" fill="#0c0000"/>
<ellipse cx="495.1" cy="635.9" rx="0.6" ry="0.5" fill="#0c0000"/>
</g>
</g>
<text x="512.00" y="530.70" font-size="22.5" text-anchor="end" fill="#fff">iii</text>
<line x1="502.90" y1="625.10" x2="512.30" y2="625.10" stroke="#fff" stroke-width="1.6"/>
<defs><clipPath id="mc4"><rect x="521.6" y="510.3" width="161.9" height="120.7"/></clipPath><clipPath id="mc4s"><path d="M519.6 516.5 L520.7 516.3 L522.1 516.0 L523.8 515.6 L525.7 515.2 L527.8 514.8 L529.9 514.3 L532.1 514.0 L534.2 513.7 L536.3 513.5 L538.3 513.5 L540.2 513.6 L542.0 513.7 L543.8 513.9 L545.6 514.2 L547.4 514.5 L549.3 514.9 L551.2 515.4 L553.1 516.0 L555.1 516.7 L557.2 517.4 L559.4 518.3 L561.6 519.2 L564.0 520.3 L566.3 521.5 L568.8 522.7 L571.2 524.0 L573.6 525.3 L576.1 526.6 L578.5 528.0 L580.9 529.3 L583.3 530.6 L585.6 531.9 L588.0 533.3 L590.4 534.6 L592.7 536.0 L595.1 537.5 L597.5 538.9 L599.9 540.4 L602.2 541.9 L604.6 543.5 L607.0 545.1 L609.5 546.8 L612.0 548.6 L614.5 550.4 L617.0 552.2 L619.4 554.0 L621.8 555.8 L624.1 557.7 L626.3 559.5 L628.4 561.3 L630.4 563.1 L632.3 564.8 L634.1 566.6 L635.8 568.3 L637.4 570.0 L639.0 571.8 L640.6 573.6 L642.0 575.4 L643.5 577.2 L644.9 579.1 L646.3 581.0 L647.6 583.0 L648.8 584.9 L650.1 586.9 L651.2 589.0 L652.3 591.0 L653.4 593.1 L654.4 595.1 L655.3 597.2 L656.2 599.3 L657.0 601.4 L657.8 603.7 L658.5 606.0 L659.2 608.3 L659.8 610.7 L660.3 612.9 L660.8 615.1 L661.3 617.2 L661.7 619.1 L662.1 620.8 L662.4 622.3 L662.7 623.7 L662.9 625.0 L663.1 626.1 L663.2 627.1 L663.3 628.1 L663.4 629.0 L663.4 629.8 L663.5 630.6 L663.6 631.3 L663.7 632.0 L663.7 632.6 L663.8 633.1 L663.8 633.6 L663.8 634.0 L663.9 634.3 L663.9 634.6 L663.9 634.9 L663.9 635.1 L663.9 635.3 L518.6 635.0 Z"/></clipPath><radialGradient id="mc4g" gradientUnits="userSpaceOnUse" cx="526.6" cy="656.3" r="141"><stop offset="0" stop-color="#192207"/><stop offset="0.5" stop-color="#192207"/><stop offset="0.88" stop-color="#27310b"/><stop offset="0.94" stop-color="#2f390e"/><stop offset="1" stop-color="#2f390e"/></radialGradient></defs>
<rect x="521.60" y="510.30" width="161.90" height="120.70" fill="#030502"/>
<g clip-path="url(#mc4)">
<path d="M519.6 516.5 L520.7 516.3 L522.1 516.0 L523.8 515.6 L525.7 515.2 L527.8 514.8 L529.9 514.3 L532.1 514.0 L534.2 513.7 L536.3 513.5 L538.3 513.5 L540.2 513.6 L542.0 513.7 L543.8 513.9 L545.6 514.2 L547.4 514.5 L549.3 514.9 L551.2 515.4 L553.1 516.0 L555.1 516.7 L557.2 517.4 L559.4 518.3 L561.6 519.2 L564.0 520.3 L566.3 521.5 L568.8 522.7 L571.2 524.0 L573.6 525.3 L576.1 526.6 L578.5 528.0 L580.9 529.3 L583.3 530.6 L585.6 531.9 L588.0 533.3 L590.4 534.6 L592.7 536.0 L595.1 537.5 L597.5 538.9 L599.9 540.4 L602.2 541.9 L604.6 543.5 L607.0 545.1 L609.5 546.8 L612.0 548.6 L614.5 550.4 L617.0 552.2 L619.4 554.0 L621.8 555.8 L624.1 557.7 L626.3 559.5 L628.4 561.3 L630.4 563.1 L632.3 564.8 L634.1 566.6 L635.8 568.3 L637.4 570.0 L639.0 571.8 L640.6 573.6 L642.0 575.4 L643.5 577.2 L644.9 579.1 L646.3 581.0 L647.6 583.0 L648.8 584.9 L650.1 586.9 L651.2 589.0 L652.3 591.0 L653.4 593.1 L654.4 595.1 L655.3 597.2 L656.2 599.3 L657.0 601.4 L657.8 603.7 L658.5 606.0 L659.2 608.3 L659.8 610.7 L660.3 612.9 L660.8 615.1 L661.3 617.2 L661.7 619.1 L662.1 620.8 L662.4 622.3 L662.7 623.7 L662.9 625.0 L663.1 626.1 L663.2 627.1 L663.3 628.1 L663.4 629.0 L663.4 629.8 L663.5 630.6 L663.6 631.3 L663.7 632.0 L663.7 632.6 L663.8 633.1 L663.8 633.6 L663.8 634.0 L663.9 634.3 L663.9 634.6 L663.9 634.9 L663.9 635.1 L663.9 635.3 L518.6 635.0 Z" fill="url(#mc4g)"/>
<circle cx="519.52" cy="517.04" r="1.65" fill="#2f390e"/>
<circle cx="520.26" cy="517.19" r="2.21" fill="#2f390e"/>
<circle cx="521.75" cy="516.94" r="2.26" fill="#2f390e"/>
<circle cx="523.39" cy="516.38" r="1.86" fill="#2f390e"/>
<circle cx="525.68" cy="516.31" r="1.98" fill="#2f390e"/>
<circle cx="527.50" cy="515.27" r="1.22" fill="#2f390e"/>
<circle cx="530.31" cy="515.34" r="1.71" fill="#2f390e"/>
<circle cx="531.94" cy="515.13" r="2.08" fill="#2f390e"/>
<circle cx="533.99" cy="514.78" r="1.14" fill="#2f390e"/>
<circle cx="536.20" cy="514.02" r="2.02" fill="#2f390e"/>
<circle cx="537.94" cy="514.18" r="1.37" fill="#2f390e"/>
<circle cx="539.77" cy="514.86" r="2.13" fill="#2f390e"/>
<circle cx="541.45" cy="514.48" r="2.23" fill="#2f390e"/>
<circle cx="543.22" cy="514.73" r="1.69" fill="#2f390e"/>
<circle cx="545.11" cy="515.17" r="2.27" fill="#2f390e"/>
<circle cx="547.39" cy="515.80" r="1.17" fill="#2f390e"/>
<circle cx="548.65" cy="515.40" r="1.28" fill="#2f390e"/>
<circle cx="550.53" cy="515.90" r="1.76" fill="#2f390e"/>
<circle cx="553.36" cy="516.80" r="1.70" fill="#2f390e"/>
<circle cx="555.07" cy="517.13" r="1.56" fill="#2f390e"/>
<circle cx="556.68" cy="518.39" r="1.81" fill="#2f390e"/>
<circle cx="558.72" cy="519.19" r="2.34" fill="#2f390e"/>
<circle cx="561.06" cy="519.87" r="1.85" fill="#2f390e"/>
<circle cx="564.22" cy="520.80" r="2.39" fill="#2f390e"/>
<circle cx="566.53" cy="522.07" r="1.99" fill="#2f390e"/>
<circle cx="568.02" cy="523.43" r="1.86" fill="#2f390e"/>
<circle cx="570.99" cy="525.12" r="1.94" fill="#2f390e"/>
<circle cx="573.18" cy="526.52" r="1.12" fill="#2f390e"/>
<circle cx="575.71" cy="527.39" r="1.82" fill="#2f390e"/>
<circle cx="578.25" cy="528.33" r="2.38" fill="#2f390e"/>
<circle cx="580.37" cy="530.06" r="2.12" fill="#2f390e"/>
<circle cx="582.84" cy="531.26" r="1.30" fill="#2f390e"/>
<circle cx="585.38" cy="532.35" r="1.12" fill="#2f390e"/>
<circle cx="587.13" cy="534.36" r="2.10" fill="#2f390e"/>
<circle cx="589.95" cy="535.65" r="2.13" fill="#2f390e"/>
<circle cx="592.55" cy="536.74" r="1.35" fill="#2f390e"/>
<circle cx="595.13" cy="538.13" r="1.32" fill="#2f390e"/>
<circle cx="597.38" cy="539.54" r="1.52" fill="#2f390e"/>
<circle cx="599.04" cy="541.50" r="1.93" fill="#2f390e"/>
<circle cx="601.28" cy="543.15" r="1.36" fill="#2f390e"/>
<circle cx="604.53" cy="544.73" r="1.24" fill="#2f390e"/>
<circle cx="605.99" cy="545.42" r="1.85" fill="#2f390e"/>
<circle cx="608.82" cy="547.66" r="1.29" fill="#2f390e"/>
<circle cx="611.26" cy="548.92" r="2.35" fill="#2f390e"/>
<circle cx="613.53" cy="550.64" r="1.79" fill="#2f390e"/>
<circle cx="616.56" cy="552.42" r="1.78" fill="#2f390e"/>
<circle cx="619.00" cy="554.94" r="1.63" fill="#2f390e"/>
<circle cx="621.56" cy="556.17" r="1.54" fill="#2f390e"/>
<circle cx="623.74" cy="558.70" r="2.00" fill="#2f390e"/>
<circle cx="625.27" cy="559.68" r="1.69" fill="#2f390e"/>
<circle cx="627.42" cy="562.04" r="1.74" fill="#2f390e"/>
<circle cx="629.98" cy="563.39" r="1.12" fill="#2f390e"/>
<circle cx="631.25" cy="565.37" r="1.02" fill="#2f390e"/>
<circle cx="633.25" cy="566.81" r="1.78" fill="#2f390e"/>
<circle cx="635.52" cy="568.91" r="1.67" fill="#2f390e"/>
<circle cx="636.25" cy="571.10" r="2.32" fill="#2f390e"/>
<circle cx="638.35" cy="572.37" r="2.24" fill="#2f390e"/>
<circle cx="640.24" cy="573.68" r="1.75" fill="#2f390e"/>
<circle cx="641.35" cy="575.70" r="1.90" fill="#2f390e"/>
<circle cx="642.97" cy="577.33" r="2.01" fill="#2f390e"/>
<circle cx="644.10" cy="579.58" r="1.98" fill="#2f390e"/>
<circle cx="645.06" cy="581.60" r="1.89" fill="#2f390e"/>
<circle cx="647.19" cy="583.16" r="1.52" fill="#2f390e"/>
<circle cx="648.29" cy="585.52" r="2.15" fill="#2f390e"/>
<circle cx="648.80" cy="587.48" r="2.23" fill="#2f390e"/>
<circle cx="650.60" cy="589.30" r="1.86" fill="#2f390e"/>
<circle cx="651.21" cy="591.53" r="1.10" fill="#2f390e"/>
<circle cx="652.13" cy="593.33" r="1.25" fill="#2f390e"/>
<circle cx="653.59" cy="595.05" r="1.66" fill="#2f390e"/>
<circle cx="654.33" cy="597.87" r="2.09" fill="#2f390e"/>
<circle cx="655.83" cy="599.75" r="1.01" fill="#2f390e"/>
<circle cx="656.69" cy="602.13" r="2.37" fill="#2f390e"/>
<circle cx="656.81" cy="603.76" r="1.15" fill="#2f390e"/>
<circle cx="657.36" cy="606.04" r="2.09" fill="#2f390e"/>
<circle cx="657.93" cy="609.08" r="1.15" fill="#2f390e"/>
<circle cx="658.78" cy="611.19" r="2.37" fill="#2f390e"/>
<circle cx="659.48" cy="613.08" r="1.65" fill="#2f390e"/>
<circle cx="659.70" cy="615.14" r="1.89" fill="#2f390e"/>
<circle cx="660.12" cy="617.37" r="1.72" fill="#2f390e"/>
<circle cx="660.37" cy="618.93" r="2.32" fill="#2f390e"/>
<circle cx="660.79" cy="620.78" r="2.12" fill="#2f390e"/>
<circle cx="661.67" cy="622.26" r="2.19" fill="#2f390e"/>
<circle cx="661.60" cy="623.72" r="1.08" fill="#2f390e"/>
<circle cx="662.51" cy="625.45" r="2.12" fill="#2f390e"/>
<circle cx="662.63" cy="626.68" r="2.26" fill="#2f390e"/>
<circle cx="662.79" cy="626.93" r="2.29" fill="#2f390e"/>
<circle cx="662.16" cy="628.38" r="1.44" fill="#2f390e"/>
<circle cx="662.34" cy="629.49" r="1.69" fill="#2f390e"/>
<circle cx="662.27" cy="629.74" r="1.56" fill="#2f390e"/>
<circle cx="662.74" cy="630.80" r="1.65" fill="#2f390e"/>
<circle cx="662.40" cy="631.36" r="1.62" fill="#2f390e"/>
<circle cx="662.46" cy="632.18" r="1.46" fill="#2f390e"/>
<circle cx="663.07" cy="632.89" r="1.26" fill="#2f390e"/>
<circle cx="663.03" cy="633.09" r="1.19" fill="#2f390e"/>
<circle cx="663.04" cy="633.97" r="1.63" fill="#2f390e"/>
<circle cx="663.19" cy="633.81" r="2.24" fill="#2f390e"/>
<circle cx="662.81" cy="633.96" r="1.76" fill="#2f390e"/>
<circle cx="662.95" cy="635.11" r="1.77" fill="#2f390e"/>
<circle cx="663.32" cy="635.01" r="1.45" fill="#2f390e"/>
<circle cx="663.22" cy="635.01" r="1.14" fill="#2f390e"/>
<g clip-path="url(#mc4s)">
<ellipse cx="523.5" cy="517.1" rx="0.6" ry="0.4" fill="#090d03"/>
<ellipse cx="523.7" cy="519.1" rx="1.4" ry="1.1" fill="#090d03"/>
<ellipse cx="523.5" cy="517.9" rx="1.3" ry="0.9" fill="#090d03"/>
<ellipse cx="526.8" cy="518.7" rx="1.2" ry="0.7" fill="#090d03"/>
<ellipse cx="528.3" cy="521.3" rx="1.5" ry="1.3" fill="#090d03"/>
<ellipse cx="528.3" cy="517.0" rx="1.1" ry="0.8" fill="#090d03"/>
<ellipse cx="531.1" cy="519.1" rx="1.1" ry="0.8" fill="#090d03"/>
<ellipse cx="534.2" cy="517.9" rx="0.8" ry="0.6" fill="#090d03"/>
<ellipse cx="534.9" cy="522.0" rx="1.0" ry="1.0" fill="#090d03"/>
<ellipse cx="535.9" cy="515.8" rx="1.4" ry="1.2" fill="#090d03"/>
<ellipse cx="536.4" cy="521.5" rx="1.6" ry="1.5" fill="#090d03"/>
<ellipse cx="541.5" cy="519.9" rx="1.5" ry="1.5" fill="#090d03"/>
<ellipse cx="542.0" cy="515.2" rx="1.5" ry="1.4" fill="#090d03"/>
<ellipse cx="542.1" cy="516.5" rx="0.9" ry="0.8" fill="#090d03"/>
<ellipse cx="541.8" cy="521.5" rx="0.6" ry="0.5" fill="#090d03"/>
<ellipse cx="545.0" cy="521.8" rx="1.1" ry="1.0" fill="#090d03"/>
<ellipse cx="546.5" cy="518.5" rx="1.6" ry="1.2" fill="#090d03"/>
<ellipse cx="545.1" cy="523.8" rx="1.2" ry="1.0" fill="#090d03"/>
<ellipse cx="547.8" cy="519.7" rx="1.5" ry="1.1" fill="#090d03"/>
<ellipse cx="549.4" cy="519.7" rx="0.9" ry="0.6" fill="#090d03"/>
<ellipse cx="549.9" cy="517.3" rx="0.9" ry="0.8" fill="#090d03"/>
<ellipse cx="553.2" cy="522.5" rx="0.9" ry="0.6" fill="#090d03"/>
<ellipse cx="555.7" cy="519.6" rx="0.6" ry="0.5" fill="#090d03"/>
<ellipse cx="554.3" cy="524.1" rx="0.7" ry="0.7" fill="#090d03"/>
<ellipse cx="556.9" cy="522.9" rx="1.1" ry="1.0" fill="#090d03"/>
<ellipse cx="556.7" cy="525.1" rx="1.5" ry="1.1" fill="#090d03"/>
<ellipse cx="558.5" cy="522.9" rx="1.4" ry="0.9" fill="#090d03"/>
<ellipse cx="561.6" cy="525.4" rx="1.1" ry="0.8" fill="#090d03"/>
<ellipse cx="564.9" cy="527.5" rx="1.4" ry="0.8" fill="#090d03"/>
<ellipse cx="568.7" cy="528.6" rx="1.5" ry="1.5" fill="#090d03"/>
<ellipse cx="566.6" cy="523.7" rx="0.9" ry="0.7" fill="#090d03"/>
<ellipse cx="568.5" cy="531.3" rx="1.0" ry="0.7" fill="#090d03"/>
<ellipse cx="572.1" cy="532.7" rx="0.7" ry="0.5" fill="#090d03"/>
<ellipse cx="572.2" cy="531.9" rx="1.1" ry="0.8" fill="#090d03"/>
<ellipse cx="576.1" cy="532.4" rx="1.2" ry="0.9" fill="#090d03"/>
<ellipse cx="578.9" cy="533.2" rx="1.2" ry="1.0" fill="#090d03"/>
<ellipse cx="578.3" cy="537.8" rx="1.2" ry="1.0" fill="#090d03"/>
<ellipse cx="582.7" cy="538.9" rx="1.3" ry="0.8" fill="#090d03"/>
<ellipse cx="586.5" cy="537.5" rx="1.1" ry="1.0" fill="#090d03"/>
<ellipse cx="583.5" cy="541.1" rx="1.3" ry="1.2" fill="#090d03"/>
<ellipse cx="588.6" cy="540.0" rx="1.5" ry="1.4" fill="#090d03"/>
<ellipse cx="591.3" cy="540.2" rx="1.1" ry="0.6" fill="#090d03"/>
<ellipse cx="591.4" cy="543.0" rx="1.5" ry="1.3" fill="#090d03"/>
<ellipse cx="593.4" cy="544.2" rx="0.9" ry="0.6" fill="#090d03"/>
<ellipse cx="593.9" cy="547.0" rx="0.7" ry="0.5" fill="#090d03"/>
<ellipse cx="599.4" cy="544.1" rx="1.3" ry="1.0" fill="#090d03"/>
<ellipse cx="596.6" cy="543.7" rx="1.3" ry="1.2" fill="#090d03"/>
<ellipse cx="596.4" cy="547.9" rx="1.3" ry="1.1" fill="#090d03"/>
<ellipse cx="600.1" cy="546.2" rx="1.2" ry="1.0" fill="#090d03"/>
<ellipse cx="601.7" cy="548.4" rx="1.4" ry="0.9" fill="#090d03"/>
<ellipse cx="603.9" cy="548.0" rx="1.1" ry="0.8" fill="#090d03"/>
<ellipse cx="606.9" cy="554.2" rx="0.8" ry="0.5" fill="#090d03"/>
<ellipse cx="606.4" cy="553.6" rx="0.7" ry="0.7" fill="#090d03"/>
<ellipse cx="611.8" cy="552.9" rx="1.5" ry="1.3" fill="#090d03"/>
<ellipse cx="612.8" cy="556.7" rx="1.0" ry="0.7" fill="#090d03"/>
<ellipse cx="615.6" cy="555.3" rx="1.0" ry="0.8" fill="#090d03"/>
<ellipse cx="615.1" cy="559.6" rx="1.5" ry="1.4" fill="#090d03"/>
<ellipse cx="618.2" cy="557.3" rx="0.9" ry="0.6" fill="#090d03"/>
<ellipse cx="620.7" cy="562.1" rx="0.6" ry="0.5" fill="#090d03"/>
<ellipse cx="620.0" cy="563.2" rx="0.8" ry="0.6" fill="#090d03"/>
<ellipse cx="621.2" cy="564.8" rx="0.8" ry="0.5" fill="#090d03"/>
<ellipse cx="623.7" cy="561.3" rx="1.4" ry="1.0" fill="#090d03"/>
<ellipse cx="622.2" cy="567.2" rx="1.1" ry="0.8" fill="#090d03"/>
<ellipse cx="624.2" cy="566.6" rx="1.5" ry="1.4" fill="#090d03"/>
<ellipse cx="627.7" cy="565.9" rx="1.2" ry="0.9" fill="#090d03"/>
<ellipse cx="630.4" cy="567.6" rx="0.7" ry="0.6" fill="#090d03"/>
<ellipse cx="626.9" cy="568.6" rx="1.0" ry="1.0" fill="#090d03"/>
<ellipse cx="629.8" cy="569.9" rx="0.8" ry="0.6" fill="#090d03"/>
<ellipse cx="629.7" cy="573.3" rx="1.3" ry="0.8" fill="#090d03"/>
<ellipse cx="629.0" cy="572.9" rx="0.7" ry="0.7" fill="#090d03"/>
<ellipse cx="632.4" cy="573.5" rx="1.4" ry="0.9" fill="#090d03"/>
<ellipse cx="637.8" cy="573.5" rx="0.6" ry="0.4" fill="#090d03"/>
<ellipse cx="637.4" cy="577.0" rx="1.5" ry="1.0" fill="#090d03"/>
<ellipse cx="639.4" cy="576.0" rx="0.6" ry="0.5" fill="#090d03"/>
<ellipse cx="639.3" cy="578.9" rx="0.7" ry="0.5" fill="#090d03"/>
<ellipse cx="638.8" cy="582.1" rx="0.9" ry="0.6" fill="#090d03"/>
<ellipse cx="638.4" cy="583.2" rx="1.0" ry="0.9" fill="#090d03"/>
<ellipse cx="639.2" cy="586.3" rx="0.6" ry="0.5" fill="#090d03"/>
<ellipse cx="644.3" cy="587.3" rx="1.2" ry="1.1" fill="#090d03"/>
<ellipse cx="647.0" cy="590.4" rx="1.6" ry="1.0" fill="#090d03"/>
<ellipse cx="646.7" cy="592.7" rx="0.9" ry="0.7" fill="#090d03"/>
<ellipse cx="647.6" cy="590.0" rx="1.2" ry="0.7" fill="#090d03"/>
<ellipse cx="650.7" cy="594.8" rx="0.7" ry="0.7" fill="#090d03"/>
<ellipse cx="650.1" cy="596.8" rx="1.5" ry="1.0" fill="#090d03"/>
<ellipse cx="653.9" cy="596.0" rx="1.5" ry="1.3" fill="#090d03"/>
<ellipse cx="647.0" cy="601.5" rx="0.9" ry="0.8" fill="#090d03"/>
<ellipse cx="654.7" cy="603.9" rx="0.9" ry="0.6" fill="#090d03"/>
<ellipse cx="655.1" cy="607.0" rx="0.8" ry="0.5" fill="#090d03"/>
<ellipse cx="654.0" cy="609.4" rx="1.0" ry="0.9" fill="#090d03"/>
<ellipse cx="655.0" cy="612.6" rx="1.2" ry="1.0" fill="#090d03"/>
<ellipse cx="654.7" cy="611.3" rx="1.1" ry="1.0" fill="#090d03"/>
<ellipse cx="659.5" cy="612.6" rx="0.7" ry="0.6" fill="#090d03"/>
<ellipse cx="654.7" cy="615.6" rx="0.8" ry="0.7" fill="#090d03"/>
<ellipse cx="652.8" cy="616.4" rx="0.6" ry="0.5" fill="#090d03"/>
<ellipse cx="657.5" cy="616.9" rx="1.1" ry="0.8" fill="#090d03"/>
<ellipse cx="658.7" cy="618.4" rx="1.4" ry="1.0" fill="#090d03"/>
<ellipse cx="656.9" cy="621.2" rx="1.5" ry="1.3" fill="#090d03"/>
<ellipse cx="655.1" cy="624.9" rx="1.2" ry="1.2" fill="#090d03"/>
<ellipse cx="655.8" cy="623.7" rx="1.2" ry="1.2" fill="#090d03"/>
<ellipse cx="658.5" cy="626.3" rx="1.5" ry="1.0" fill="#090d03"/>
<ellipse cx="659.4" cy="626.2" rx="0.8" ry="0.6" fill="#090d03"/>
<ellipse cx="656.4" cy="626.9" rx="1.2" ry="0.8" fill="#090d03"/>
<ellipse cx="655.5" cy="628.8" rx="0.7" ry="0.5" fill="#090d03"/>
<ellipse cx="660.5" cy="628.7" rx="1.5" ry="1.2" fill="#090d03"/>
<ellipse cx="655.4" cy="629.1" rx="1.6" ry="1.0" fill="#090d03"/>
<ellipse cx="656.4" cy="630.6" rx="1.3" ry="1.2" fill="#090d03"/>
<ellipse cx="655.7" cy="631.6" rx="1.2" ry="1.1" fill="#090d03"/>
<ellipse cx="658.8" cy="632.2" rx="0.8" ry="0.6" fill="#090d03"/>
<ellipse cx="657.1" cy="630.8" rx="1.2" ry="1.2" fill="#090d03"/>
<ellipse cx="658.4" cy="634.1" rx="1.1" ry="0.8" fill="#090d03"/>
<ellipse cx="656.5" cy="633.8" rx="0.8" ry="0.6" fill="#090d03"/>
<ellipse cx="657.8" cy="632.6" rx="1.5" ry="1.1" fill="#090d03"/>
<ellipse cx="662.5" cy="634.4" rx="1.5" ry="1.4" fill="#090d03"/>
<ellipse cx="655.8" cy="632.9" rx="1.5" ry="1.5" fill="#090d03"/>
<ellipse cx="654.8" cy="634.6" rx="1.0" ry="0.9" fill="#090d03"/>
<ellipse cx="657.2" cy="635.2" rx="0.9" ry="0.9" fill="#090d03"/>
<ellipse cx="660.9" cy="634.8" rx="1.6" ry="1.3" fill="#090d03"/>
<ellipse cx="657.0" cy="636.1" rx="1.0" ry="1.0" fill="#090d03"/>
<ellipse cx="661.9" cy="634.7" rx="1.2" ry="0.9" fill="#090d03"/>
<ellipse cx="661.3" cy="635.1" rx="1.1" ry="1.0" fill="#090d03"/>
<ellipse cx="656.7" cy="636.1" rx="1.4" ry="0.9" fill="#090d03"/>
</g>
</g>
<text x="677.80" y="530.70" font-size="22.5" text-anchor="end" fill="#fff">iv</text>
<line x1="668.40" y1="625.10" x2="677.70" y2="625.10" stroke="#fff" stroke-width="1.6"/>
</g>
</svg>
</body></html>
